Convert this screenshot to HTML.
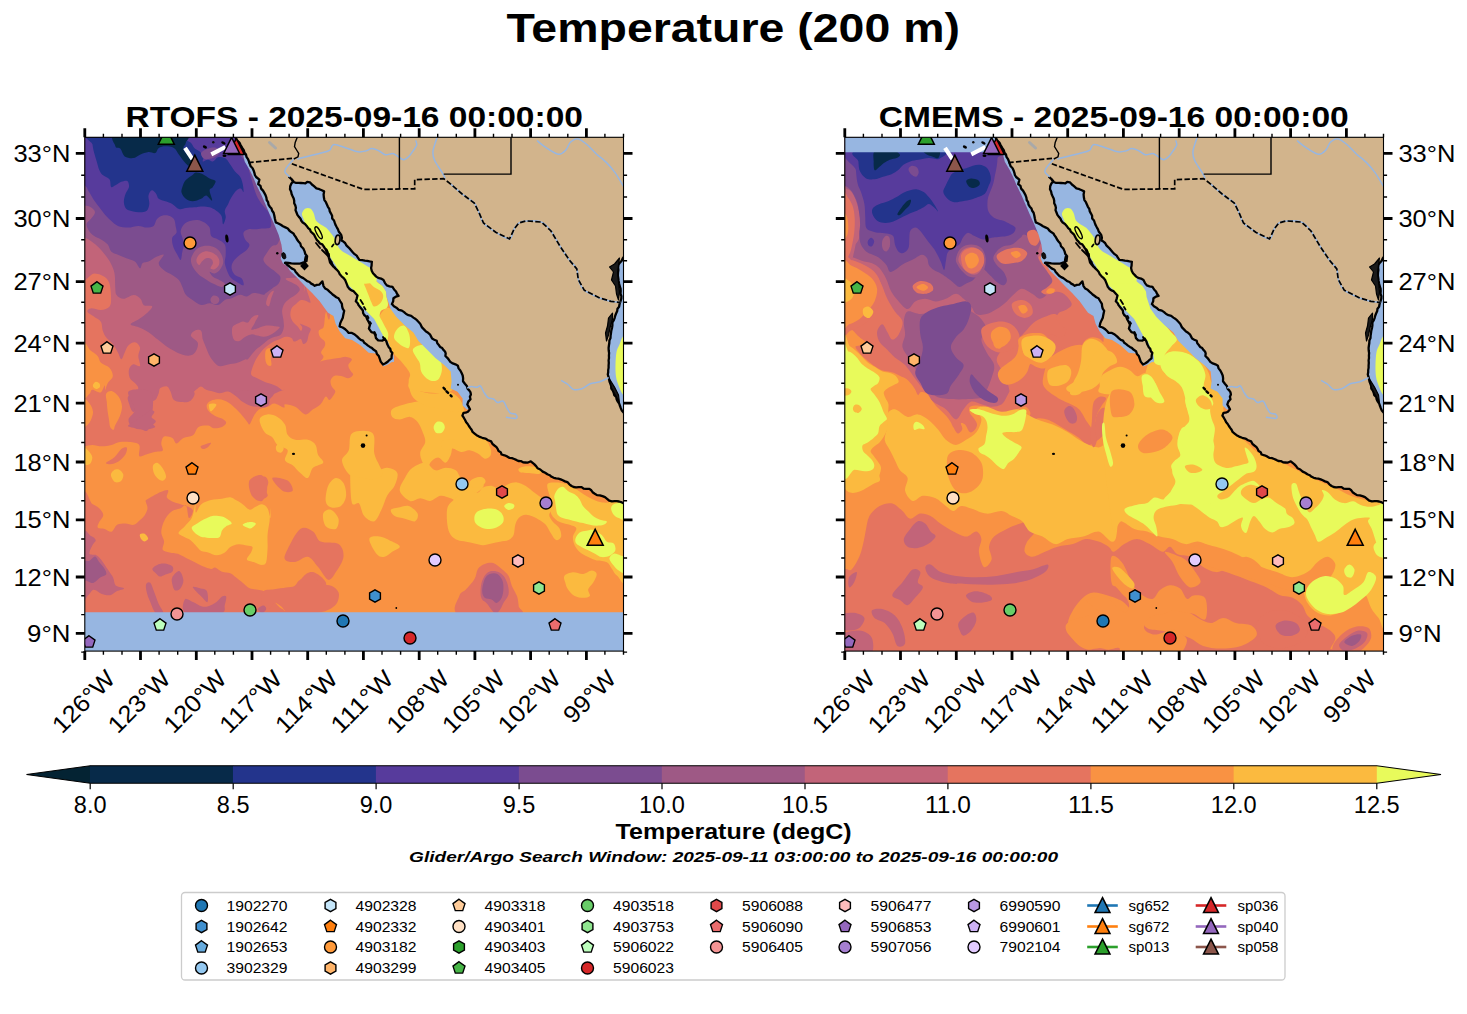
<!DOCTYPE html><html><head><meta charset="utf-8"><title>Temperature (200 m)</title>
<style>html,body{margin:0;padding:0;background:#fff}svg{display:block}text{font-family:"Liberation Sans",sans-serif;fill:#000}.tk{font-size:24px}.lg{font-size:14.3px}.b{font-weight:bold}</style></head><body>
<svg width="1467" height="1014" viewBox="0 0 1467 1014">
<defs>
<clipPath id="clip0"><rect x="84.8" y="137.3" width="538.7" height="513.8"/></clipPath>
<clipPath id="clip1"><rect x="844.8" y="137.3" width="538.7" height="513.8"/></clipPath>
</defs>
<rect width="1467" height="1014" fill="#fff"/>
<text x="733.2" y="41.6" text-anchor="middle" class="b" font-size="40.7" textLength="453.5" lengthAdjust="spacingAndGlyphs">Temperature (200 m)</text>
<text x="354.2" y="127.2" text-anchor="middle" class="b" font-size="30" textLength="457.5" lengthAdjust="spacingAndGlyphs">RTOFS - 2025-09-16 00:00:00</text>
<text x="1113.8" y="127.2" text-anchor="middle" class="b" font-size="30" textLength="470" lengthAdjust="spacingAndGlyphs">CMEMS - 2025-09-16 00:00:00</text>
<g clip-path="url(#clip0)">
<rect x="84.8" y="137.3" width="538.7" height="513.8" fill="#f99243"/>
<path d="M70.0 446.0 C72.3 500.4 80.3 446.4 84.0 446.3 C87.7 446.1 89.3 444.9 92.3 444.9 C95.3 444.9 98.7 446.3 101.9 446.3 C105.2 446.3 108.6 445.6 111.6 444.9 C114.6 444.2 116.9 442.6 119.9 442.1 C122.9 441.7 126.3 441.7 129.5 442.1 C132.8 442.6 137.6 442.6 139.2 444.9 C140.8 447.2 138.1 454.3 139.2 455.9 C140.4 457.5 143.4 455.2 146.1 454.5 C148.9 453.8 153.0 452.5 155.8 451.8 C158.5 451.1 161.8 451.8 162.7 450.4 C163.6 449.0 161.1 445.8 161.3 443.5 C161.5 441.2 162.2 437.5 164.1 436.6 C165.9 435.7 170.3 436.8 172.3 438.0 C174.4 439.1 174.6 443.5 176.5 443.5 C178.3 443.5 180.6 439.4 183.4 438.0 C186.1 436.6 190.5 437.1 193.0 435.2 C195.6 433.4 196.0 428.5 198.6 426.9 C201.1 425.3 205.7 425.3 208.2 425.5 C210.8 425.8 211.4 428.1 213.7 428.3 C216.0 428.5 220.0 427.8 222.0 426.9 C224.1 426.0 226.2 424.2 226.2 422.8 C226.2 421.4 223.9 419.8 222.0 418.6 C220.2 417.5 217.4 417.3 215.1 415.9 C212.8 414.5 209.6 412.2 208.2 410.4 C206.8 408.5 206.4 406.5 206.8 404.8 C207.3 403.2 208.9 401.6 211.0 400.7 C213.1 399.8 216.5 399.1 219.3 399.3 C222.0 399.6 225.0 400.7 227.5 402.1 C230.1 403.5 232.4 405.8 234.4 407.6 C236.5 409.4 237.9 410.8 240.0 413.1 C242.0 415.4 245.3 419.6 246.9 421.4 C248.5 423.2 248.5 425.1 249.6 424.2 C250.8 423.2 252.4 418.2 253.8 415.9 C255.2 413.6 256.3 411.7 257.9 410.4 C259.5 409.0 261.6 408.3 263.4 407.6 C265.3 406.9 267.1 406.9 269.0 406.2 C270.8 405.5 272.0 403.2 274.5 403.5 C277.0 403.7 282.2 407.5 284.0 407.6 C285.8 407.7 283.2 404.3 285.0 404.2 C286.9 404.0 291.8 405.0 295.2 406.7 C298.6 408.4 302.4 413.9 305.4 414.4 C308.3 414.8 310.5 411.0 313.0 409.3 C315.6 407.6 318.5 406.3 320.6 404.2 C322.8 402.1 324.3 397.2 325.7 396.5 C327.2 395.8 328.2 400.1 329.4 400.0 C330.6 399.9 332.0 397.4 333.0 396.0 C333.9 394.5 335.5 392.8 335.3 391.2 C335.1 389.7 332.6 388.3 331.8 386.5 C331.0 384.7 330.2 382.4 330.6 380.6 C331.0 378.8 332.4 376.6 334.1 375.9 C335.9 375.1 338.9 375.5 341.2 375.9 C343.6 376.3 346.4 378.4 348.3 378.2 C350.3 378.0 352.7 375.9 353.1 374.7 C353.5 373.5 351.5 372.7 350.7 371.1 C349.9 369.5 348.1 367.2 348.3 365.2 C348.5 363.2 352.3 360.7 351.9 359.3 C351.5 357.9 348.1 357.1 346.0 356.9 C343.8 356.7 341.4 357.7 338.9 358.1 C336.3 358.5 333.2 358.9 330.6 359.3 C328.0 359.7 325.7 359.9 323.5 360.5 C321.3 361.1 318.2 362.6 317.6 362.8 C317.0 363.0 319.0 362.6 319.9 361.7 C320.9 360.7 323.3 358.5 323.5 356.9 C323.7 355.3 320.9 354.0 321.1 352.2 C321.3 350.4 324.1 348.0 324.7 346.3 C325.3 344.5 325.5 343.1 324.7 341.5 C323.9 340.0 320.9 338.6 319.9 336.8 C319.0 335.0 318.2 332.5 318.8 330.9 C319.3 329.3 322.5 329.3 323.5 327.3 C324.5 325.4 324.3 321.6 324.7 319.1 C325.1 316.5 324.9 314.5 325.9 312.0 C326.8 309.4 329.9 335.7 330.6 303.7 C331.3 271.7 373.4 150.6 330.0 120.0 C286.6 89.4 113.3 65.7 70.0 120.0 C26.7 174.3 67.7 391.6 70.0 446.0 Z" fill="#e5745f"/>
<path d="M106.1 462.8 C106.8 461.7 111.8 459.6 114.4 457.3 C116.9 455.0 119.2 450.6 121.3 449.0 C123.3 447.4 126.1 446.7 126.8 447.6 C127.5 448.6 126.8 452.2 125.4 454.5 C124.0 456.8 121.0 459.8 118.5 461.4 C116.0 463.0 112.3 464.0 110.2 464.2 C108.2 464.4 105.4 464.0 106.1 462.8 Z" fill="#e5745f"/>
<path d="M251.7 486.3 C252.2 483.7 255.7 481.0 257.9 479.4 C260.1 477.8 263.1 476.2 264.8 476.6 C266.5 477.1 268.0 479.8 268.3 482.1 C268.5 484.4 266.3 488.1 266.2 490.4 C266.1 492.7 268.3 494.6 267.6 495.9 C266.9 497.3 264.1 498.9 262.1 498.7 C260.0 498.5 256.9 496.6 255.2 494.6 C253.4 492.5 251.2 488.8 251.7 486.3 Z" fill="#e5745f"/>
<path d="M200.6 446.3 C201.1 445.4 203.7 444.8 205.5 444.2 C207.2 443.6 210.5 442.3 211.0 442.8 C211.4 443.3 209.6 445.9 208.2 446.9 C206.8 448.0 204.0 449.1 202.7 449.0 C201.4 448.9 200.2 447.1 200.6 446.3 Z" fill="#e5745f"/>
<path d="M82.6 498.6 C84.2 480.0 89.5 502.5 92.3 504.1 C95.0 505.8 97.3 506.4 99.2 508.3 C101.0 510.1 103.3 512.9 103.3 515.2 C103.3 517.5 100.1 520.0 99.2 522.1 C98.3 524.2 96.9 526.5 97.8 527.6 C98.7 528.8 102.4 528.3 104.7 529.0 C107.0 529.7 109.5 532.4 111.6 531.7 C113.7 531.1 114.8 526.2 117.1 524.8 C119.4 523.5 122.6 523.5 125.4 523.5 C128.2 523.5 131.4 525.3 133.7 524.8 C136.0 524.4 137.4 522.3 139.2 520.7 C141.1 519.1 143.4 517.3 144.7 515.2 C146.1 513.1 147.3 510.4 147.5 508.3 C147.7 506.2 146.3 504.1 146.1 502.8 C145.9 501.4 145.0 501.2 146.1 500.1 C147.3 498.9 150.5 497.3 153.0 495.9 C155.5 494.6 158.8 492.7 161.3 491.8 C163.8 490.9 167.3 489.5 168.2 490.4 C169.1 491.3 166.1 495.5 166.8 497.3 C167.5 499.2 170.0 500.3 172.3 501.5 C174.6 502.6 177.9 503.3 180.6 504.2 C183.4 505.1 186.8 505.8 188.9 507.0 C191.0 508.1 193.0 509.3 193.0 511.1 C193.0 513.0 190.1 519.0 188.9 518.0 C187.7 517.1 187.5 507.1 186.1 505.5 C184.8 503.9 182.9 507.4 180.6 508.3 C178.3 509.2 174.6 509.7 172.3 511.0 C170.0 512.4 168.4 514.3 166.8 516.6 C165.2 518.9 163.6 522.1 162.7 524.8 C161.8 527.6 161.1 530.4 161.3 533.1 C161.5 535.9 163.8 538.6 164.1 541.4 C164.3 544.2 161.8 547.8 162.7 549.7 C163.6 551.5 167.0 551.8 169.6 552.4 C172.1 553.1 175.1 552.9 177.9 553.8 C180.6 554.8 183.4 556.6 186.1 558.0 C188.9 559.4 191.7 560.7 194.4 562.1 C197.2 563.5 199.9 565.1 202.7 566.3 C205.5 567.4 208.9 568.8 211.0 569.0 C213.1 569.2 213.3 567.2 215.1 567.6 C217.0 568.1 219.5 570.9 222.0 571.8 C224.6 572.7 228.0 572.2 230.3 573.2 C232.6 574.1 233.8 575.7 235.8 577.3 C237.9 578.9 240.4 581.0 242.7 582.8 C245.0 584.7 247.1 587.2 249.6 588.3 C252.2 589.5 255.6 589.3 257.9 589.7 C260.2 590.2 261.6 589.9 263.4 591.1 C265.3 592.2 267.1 594.8 269.0 596.6 C270.8 598.5 272.6 600.3 274.5 602.1 C276.3 604.0 278.4 606.3 280.0 607.7 C281.6 609.0 283.3 609.0 284.0 610.4 C284.7 611.8 317.6 615.0 284.0 615.9 C250.4 616.9 116.2 635.5 82.6 615.9 C49.1 596.4 81.0 517.3 82.6 498.6 Z" fill="#e5745f"/>
<path d="M287.6 549.2 C290.1 544.1 296.0 531.8 300.3 528.9 C304.5 525.9 309.6 529.3 313.0 531.4 C316.4 533.5 316.4 539.5 320.6 541.6 C324.9 543.7 334.6 541.6 338.5 544.1 C342.3 546.7 344.0 552.2 343.5 556.8 C343.1 561.5 338.5 568.3 335.9 572.1 C333.4 575.9 331.2 580.6 328.3 579.8 C325.3 578.9 321.5 570.8 318.1 567.0 C314.7 563.2 311.7 557.7 307.9 556.8 C304.1 556.0 299.0 561.5 295.2 561.9 C291.4 562.4 286.3 561.5 285.0 559.4 C283.7 557.3 285.0 554.3 287.6 549.2 Z" fill="#e5745f"/>
<path d="M302.8 577.2 C304.9 574.2 309.2 571.3 313.0 572.1 C316.8 573.0 324.0 578.5 325.7 582.3 C327.4 586.1 325.7 592.5 323.2 595.0 C320.6 597.6 314.3 598.4 310.5 597.6 C306.6 596.7 301.6 593.3 300.3 589.9 C299.0 586.5 300.7 580.2 302.8 577.2 Z" fill="#e5745f"/>
<path d="M249.4 480.5 C251.1 477.1 259.1 474.2 262.1 475.4 C265.1 476.7 267.2 483.9 267.2 488.1 C267.2 492.4 264.7 499.6 262.1 500.9 C259.6 502.1 254.1 499.2 251.9 495.8 C249.8 492.4 247.7 483.9 249.4 480.5 Z" fill="#e5745f"/>
<path d="M272.3 478.0 C273.1 476.3 284.2 478.4 287.6 480.5 C291.0 482.6 293.5 489.0 292.7 490.7 C291.8 492.4 285.9 492.8 282.5 490.7 C279.1 488.6 271.4 479.7 272.3 478.0 Z" fill="#e5745f"/>
<path d="M298.8 580.8 C300.8 579.1 303.7 576.3 306.4 575.7 C309.1 575.2 312.4 576.0 314.9 577.4 C317.4 578.8 318.9 582.8 321.7 584.2 C324.5 585.6 329.0 584.5 331.9 585.9 C334.7 587.3 337.8 589.9 338.7 592.7 C339.5 595.5 338.7 600.0 337.0 602.9 C335.3 605.7 332.1 608.0 328.5 609.7 C324.8 611.4 321.4 612.5 314.9 613.1 C308.4 613.6 295.1 614.2 289.4 613.1 C283.8 611.9 283.5 608.0 281.0 606.3 C278.4 604.6 276.2 602.3 274.2 602.9 C272.2 603.4 271.1 608.0 269.1 609.7 C267.1 611.4 263.4 615.9 262.3 613.1 C261.2 610.2 260.3 596.7 262.3 592.7 C264.3 588.7 270.2 590.2 274.2 589.3 C278.1 588.5 282.7 588.2 286.1 587.6 C289.4 587.0 292.4 587.0 294.5 585.9 C296.7 584.8 296.8 582.5 298.8 580.8 Z" fill="#e5745f"/>
<path d="M70.0 275.0 C74.0 300.6 88.5 273.1 94.2 273.4 C99.9 273.7 101.8 275.1 104.4 276.8 C106.9 278.5 108.3 280.0 109.4 283.6 C110.6 287.2 111.1 294.3 111.1 298.2 C111.1 302.0 111.1 304.7 109.4 306.7 C107.8 308.6 104.1 309.8 101.0 310.1 C97.9 310.3 93.0 308.1 90.8 308.4 C88.5 308.6 86.8 310.3 87.4 311.8 C88.0 313.2 91.9 315.1 94.2 316.8 C96.4 318.5 99.6 319.7 101.0 321.9 C102.4 324.2 101.8 327.9 102.7 330.4 C103.5 333.0 104.4 334.9 106.1 337.2 C107.8 339.5 110.9 341.4 112.8 344.0 C114.8 346.5 116.5 349.9 117.9 352.5 C119.3 355.0 120.2 359.3 121.3 359.3 C122.5 359.3 123.6 354.7 124.7 352.5 C125.9 350.2 126.4 347.4 128.1 345.7 C129.8 344.0 132.9 342.0 134.9 342.3 C136.9 342.6 139.4 345.1 140.0 347.4 C140.6 349.6 138.3 352.8 138.3 355.9 C138.3 359.0 140.8 364.6 140.0 366.0 C139.1 367.5 135.0 363.8 133.2 364.3 C131.4 364.9 129.5 367.2 129.0 369.4 C128.4 371.7 128.8 375.7 129.8 377.9 C130.8 380.2 133.5 381.3 134.9 383.0 C136.3 384.7 138.3 386.4 138.3 388.1 C138.3 389.8 136.6 391.8 134.9 393.2 C133.2 394.6 129.1 394.9 128.1 396.6 C127.1 398.3 128.1 400.8 129.0 403.4 C129.8 405.9 131.4 411.3 133.2 411.9 C135.0 412.4 137.4 408.5 140.0 406.8 C142.5 405.1 145.9 402.8 148.5 401.7 C151.0 400.5 153.6 401.4 155.3 400.0 C157.0 398.6 157.8 395.2 158.7 393.2 C159.5 391.2 158.9 389.2 160.3 388.1 C161.8 387.0 165.4 385.8 167.1 386.4 C168.8 387.0 169.4 389.2 170.5 391.5 C171.7 393.8 171.9 398.3 173.9 400.0 C175.9 401.7 179.9 402.2 182.4 401.7 C185.0 401.1 186.9 398.6 189.2 396.6 C191.5 394.6 194.0 391.5 196.0 389.8 C198.0 388.1 199.4 386.4 201.1 386.4 C202.8 386.4 204.2 389.0 206.2 389.8 C208.1 390.6 210.7 390.9 212.9 391.5 C215.2 392.1 217.2 393.2 219.7 393.2 C222.3 393.2 225.4 390.9 228.2 391.5 C231.0 392.1 234.2 395.2 236.7 396.6 C239.2 398.0 240.7 399.4 243.5 400.0 C246.3 400.5 251.7 399.2 253.7 400.0 C255.6 400.8 253.5 403.6 255.2 404.8 C256.8 406.1 261.1 407.6 263.4 407.6 C265.7 407.6 267.8 406.7 269.0 404.8 C270.1 403.0 269.0 398.6 270.3 396.6 C271.7 394.5 275.0 393.6 277.2 392.4 C279.5 391.3 283.2 390.1 284.0 389.7 C284.8 389.3 283.2 390.6 282.1 390.1 C281.0 389.5 279.1 387.5 277.3 386.5 C275.6 385.5 273.6 384.9 271.4 384.1 C269.3 383.4 266.7 382.8 264.3 381.8 C262.0 380.8 259.4 379.4 257.2 378.2 C255.0 377.0 252.1 376.4 251.3 374.7 C250.5 372.9 251.7 370.1 252.5 367.6 C253.3 365.0 254.7 361.9 256.0 359.3 C257.4 356.7 259.0 354.4 260.8 352.2 C262.5 350.0 264.5 348.0 266.7 346.3 C268.9 344.5 271.6 342.7 273.8 341.5 C276.0 340.4 277.7 340.0 279.7 339.2 C281.7 338.4 283.6 337.0 285.6 336.8 C287.6 336.6 290.2 337.2 291.5 338.0 C292.9 338.8 292.9 341.1 293.9 341.5 C294.9 341.9 296.3 340.7 297.5 340.4 C298.6 340.0 300.0 338.6 301.0 339.2 C302.0 339.8 302.4 343.5 303.4 343.9 C304.4 344.3 306.0 343.1 306.9 341.5 C307.8 340.0 308.1 336.6 308.7 334.4 C309.3 332.3 311.4 330.1 310.5 328.5 C309.6 326.9 305.1 325.8 303.4 325.0 C301.6 324.2 300.0 323.4 299.8 323.8 C299.6 324.2 302.0 326.2 302.2 327.3 C302.4 328.5 301.8 331.1 301.0 330.9 C300.2 330.7 298.8 327.7 297.5 326.2 C296.1 324.6 293.9 323.2 292.7 321.4 C291.5 319.6 290.6 317.7 290.4 315.5 C290.2 313.3 290.6 310.4 291.5 308.4 C292.5 306.4 294.7 305.0 296.3 303.7 C297.9 302.3 299.4 300.6 301.0 300.1 C302.6 299.6 304.2 300.3 305.7 300.7 C307.3 301.1 310.1 303.6 310.5 302.5 C310.9 301.4 308.9 297.0 308.1 294.2 C307.3 291.4 306.1 288.5 305.7 285.9 C305.3 283.4 301.7 306.5 305.7 278.8 C309.8 251.2 369.3 146.5 330.0 120.0 C290.7 93.5 113.3 94.2 70.0 120.0 C26.7 145.8 66.0 249.4 70.0 275.0 Z" fill="#c26479"/>
<path d="M82.6 534.5 C84.0 524.4 88.7 535.0 90.9 535.9 C93.1 536.8 95.5 538.4 95.7 540.0 C96.0 541.6 93.3 543.2 92.3 545.5 C91.2 547.8 88.8 552.2 89.5 553.8 C90.2 555.4 94.4 554.1 96.4 555.2 C98.5 556.4 100.1 558.4 101.9 560.7 C103.8 563.0 105.6 566.3 107.5 569.0 C109.3 571.8 111.6 574.5 113.0 577.3 C114.4 580.1 113.9 583.7 115.7 585.6 C117.6 587.4 123.8 587.4 124.0 588.3 C124.3 589.3 119.4 589.9 117.1 591.1 C114.8 592.2 112.8 594.8 110.2 595.2 C107.7 595.7 104.7 594.8 101.9 593.9 C99.2 592.9 96.0 589.5 93.7 589.7 C91.4 589.9 90.0 594.1 88.1 595.2 C86.3 596.4 83.5 606.7 82.6 596.6 C81.7 586.5 81.2 544.6 82.6 534.5 Z" fill="#c26479"/>
<path d="M128.5 391.5 C131.1 388.5 146.1 388.5 150.2 391.5 C154.2 394.4 153.1 404.6 152.7 409.3 C152.3 413.9 147.2 416.5 147.6 419.4 C148.0 422.4 156.1 425.4 155.2 427.1 C154.4 428.8 146.3 429.6 142.5 429.6 C138.7 429.6 134.7 428.8 132.3 427.1 C130.0 425.4 128.1 422.4 128.5 419.4 C129.0 416.5 134.9 413.9 134.9 409.3 C134.9 404.6 126.0 394.4 128.5 391.5 Z" fill="#c26479"/>
<path d="M171.8 391.5 C173.9 389.8 190.2 390.0 193.4 391.5 C196.6 392.9 193.0 398.7 190.9 400.4 C188.7 402.1 183.9 403.1 180.7 401.6 C177.5 400.1 169.7 393.2 171.8 391.5 Z" fill="#c26479"/>
<path d="M236.7 391.5 C242.2 390.2 267.2 389.8 272.3 391.5 C277.4 393.2 269.8 399.1 267.2 401.6 C264.7 404.2 260.4 406.3 257.0 406.7 C253.6 407.1 249.8 405.5 246.8 404.2 C243.9 402.9 240.9 401.2 239.2 399.1 C237.5 397.0 231.2 392.7 236.7 391.5 Z" fill="#c26479"/>
<path d="M152.3 569.0 C152.6 567.6 155.2 565.8 157.2 564.9 C159.1 564.0 161.5 563.3 164.1 563.5 C166.6 563.7 171.0 564.9 172.3 566.3 C173.7 567.6 173.5 570.4 172.3 571.8 C171.2 573.2 167.5 573.7 165.4 574.5 C163.4 575.3 161.5 576.8 159.9 576.6 C158.3 576.4 157.0 574.4 155.8 573.2 C154.5 571.9 152.1 570.4 152.3 569.0 Z" fill="#c26479"/>
<path d="M172.3 577.3 C173.5 575.1 177.4 570.6 179.2 571.1 C181.1 571.5 183.1 577.2 183.4 580.1 C183.6 582.9 182.0 586.6 180.6 588.3 C179.2 590.1 176.5 591.1 175.1 590.4 C173.7 589.7 172.8 586.4 172.3 584.2 C171.9 582.0 171.2 579.5 172.3 577.3 Z" fill="#c26479"/>
<path d="M146.1 584.2 C146.7 582.6 148.9 581.4 150.3 582.8 C151.6 584.2 153.0 589.0 154.4 592.5 C155.8 595.9 157.0 600.1 158.5 603.5 C160.0 607.0 163.8 611.6 163.4 613.2 C162.9 614.8 158.0 615.0 155.8 613.2 C153.6 611.3 151.7 605.6 150.3 602.1 C148.8 598.7 147.5 595.5 146.8 592.5 C146.1 589.5 145.5 585.8 146.1 584.2 Z" fill="#c26479"/>
<path d="M193.0 587.0 C193.7 586.5 197.6 587.6 199.9 588.3 C202.2 589.0 205.6 588.8 206.8 591.1 C208.1 593.4 208.5 601.2 207.5 602.1 C206.6 603.1 203.3 598.5 201.3 596.6 C199.4 594.8 197.2 592.7 195.8 591.1 C194.4 589.5 192.4 587.4 193.0 587.0 Z" fill="#c26479"/>
<path d="M184.8 599.4 C185.9 597.5 190.3 601.0 193.0 602.1 C195.8 603.3 198.8 605.6 201.3 606.3 C203.9 607.0 205.7 607.0 208.2 606.3 C210.8 605.6 214.2 603.7 216.5 602.1 C218.8 600.5 220.4 597.5 222.0 596.6 C223.6 595.7 225.7 595.2 226.2 596.6 C226.6 598.0 225.7 602.1 224.8 604.9 C223.9 607.7 227.1 611.8 220.6 613.2 C214.2 614.6 192.1 615.5 186.1 613.2 C180.2 610.9 183.6 601.2 184.8 599.4 Z" fill="#c26479"/>
<path d="M257.9 609.0 C258.1 607.8 262.1 605.6 263.4 605.6 C264.8 605.6 266.4 607.8 266.2 609.0 C266.0 610.3 263.4 613.2 262.1 613.2 C260.7 613.2 257.7 610.3 257.9 609.0 Z" fill="#c26479"/>
<path d="M128.2 425.5 C128.9 424.3 133.7 421.9 136.4 420.0 C139.2 418.2 142.4 416.1 144.7 414.5 C147.0 412.9 148.6 410.8 150.3 410.4 C151.9 409.9 154.2 410.6 154.4 411.7 C154.6 412.9 151.4 415.7 151.6 417.3 C151.9 418.9 156.0 419.8 155.8 421.4 C155.5 423.0 151.9 425.3 150.3 426.9 C148.6 428.5 148.0 430.8 146.1 431.1 C144.3 431.3 141.5 428.9 139.2 428.3 C136.9 427.7 134.1 428.1 132.3 427.6 C130.5 427.2 127.5 426.8 128.2 425.5 Z" fill="#c26479"/>
<path d="M70.0 238.0 C72.3 257.6 80.4 237.2 84.0 237.8 C87.6 238.4 89.1 239.9 91.6 241.6 C94.2 243.3 96.9 245.6 99.3 248.0 C101.6 250.3 103.7 253.0 105.6 255.6 C107.5 258.1 109.2 260.3 110.7 263.2 C112.2 266.2 113.8 269.3 114.5 273.4 C115.3 277.5 115.0 284.3 115.3 287.9 C115.6 291.5 115.2 293.2 116.6 295.0 C117.9 296.9 120.6 298.8 123.4 298.8 C126.3 298.8 130.8 295.0 133.6 295.0 C136.5 295.0 138.8 297.2 140.5 298.8 C142.2 300.5 141.8 303.9 143.8 305.2 C145.7 306.5 151.9 305.0 152.2 306.5 C152.5 308.0 148.1 312.0 145.8 314.1 C143.6 316.2 141.3 317.5 138.7 319.2 C136.2 320.9 130.6 322.9 130.6 324.3 C130.6 325.7 135.7 326.0 138.7 327.3 C141.8 328.7 145.7 330.4 148.9 332.4 C152.1 334.5 154.9 337.3 157.8 339.6 C160.6 341.8 163.2 344.0 165.9 345.9 C168.7 347.8 171.5 349.5 174.3 351.0 C177.1 352.5 180.0 354.1 182.7 354.8 C185.5 355.6 188.7 356.0 190.9 355.3 C193.1 354.7 194.8 353.1 196.0 351.0 C197.1 348.9 198.6 345.2 197.7 342.6 C196.9 340.1 191.4 337.7 190.9 335.7 C190.4 333.8 193.0 331.5 194.7 330.7 C196.4 329.8 199.7 329.2 201.0 330.7 C202.4 332.1 202.0 336.7 202.8 339.6 C203.7 342.4 205.0 344.9 206.1 347.7 C207.3 350.5 208.3 353.6 209.7 356.1 C211.1 358.6 213.1 361.3 214.8 363.0 C216.5 364.7 217.9 366.0 220.1 366.3 C222.4 366.5 225.5 365.1 228.3 364.5 C231.0 363.9 233.9 363.8 236.7 363.0 C239.5 362.1 243.2 360.0 245.1 359.4 C246.9 358.8 246.5 360.3 247.8 359.3 C249.0 358.3 250.9 355.1 252.5 353.4 C254.1 351.6 255.4 350.2 257.2 348.6 C259.0 347.1 261.2 345.5 263.1 343.9 C265.1 342.3 267.1 340.4 269.1 339.2 C271.0 338.0 273.0 337.6 275.0 336.8 C276.9 336.0 279.4 336.0 280.9 334.4 C282.4 332.9 283.5 329.9 283.8 327.3 C284.2 324.8 283.6 321.8 283.3 319.1 C283.0 316.3 281.9 313.3 282.1 310.8 C282.3 308.2 283.3 305.6 284.4 303.7 C285.6 301.7 287.2 300.5 289.2 298.9 C291.1 297.4 294.5 295.8 296.3 294.2 C298.0 292.6 299.8 291.0 299.8 289.5 C299.8 287.9 298.6 286.5 296.3 284.7 C293.9 283.0 285.2 280.1 285.6 278.8 C286.1 277.5 297.6 278.3 299.0 276.8 C300.4 275.4 295.6 272.3 293.9 270.0 C292.2 267.8 290.2 265.8 288.8 263.2 C287.4 260.7 286.3 257.9 285.4 254.8 C284.6 251.7 284.9 248.0 283.7 244.6 C282.6 241.2 277.8 241.2 278.7 234.4 C279.5 227.6 280.3 222.9 288.8 203.9 C297.4 184.8 366.5 134.0 330.0 120.0 C293.5 106.0 113.3 100.3 70.0 120.0 C26.7 139.7 67.7 218.4 70.0 238.0 Z" fill="#9e5985"/>
<path d="M82.6 562.1 C83.8 559.4 87.5 561.7 89.5 560.7 C91.6 559.8 93.4 556.4 95.0 556.6 C96.7 556.8 97.6 560.0 99.2 562.1 C100.8 564.2 103.6 566.9 104.7 569.0 C105.9 571.1 106.8 573.2 106.1 574.5 C105.4 575.9 102.6 575.9 100.6 577.3 C98.5 578.7 95.7 582.1 93.7 582.8 C91.6 583.5 90.0 582.4 88.1 581.4 C86.3 580.5 83.5 580.5 82.6 577.3 C81.7 574.1 81.5 564.9 82.6 562.1 Z" fill="#9e5985"/>
<path d="M70.0 206.0 C72.3 220.3 80.5 205.4 84.0 205.6 C87.5 205.8 88.9 206.1 90.8 207.3 C92.6 208.4 95.0 210.4 95.0 212.3 C95.0 214.3 92.2 217.2 90.8 219.1 C89.4 221.1 86.8 222.2 86.5 224.2 C86.3 226.2 87.8 229.0 89.1 231.0 C90.4 233.0 92.2 234.7 94.2 236.1 C96.2 237.5 98.7 238.1 101.0 239.5 C103.2 240.9 106.1 242.6 107.8 244.6 C109.4 246.6 109.4 249.7 111.1 251.4 C112.8 253.1 115.4 253.6 117.9 254.8 C120.5 255.9 123.6 257.0 126.4 258.2 C129.2 259.3 132.6 259.9 134.9 261.6 C137.2 263.2 138.7 268.1 140.0 268.3 C141.3 268.6 141.1 264.4 142.5 263.2 C143.9 262.1 146.1 262.7 148.5 261.6 C150.9 260.4 154.4 257.6 157.0 256.5 C159.5 255.3 163.5 253.6 163.7 254.8 C164.0 255.9 158.7 260.7 158.7 263.2 C158.7 265.8 161.5 268.1 163.7 270.0 C166.0 272.0 169.7 273.4 172.2 275.1 C174.8 276.8 177.3 278.2 179.0 280.2 C180.7 282.2 181.3 284.6 182.4 287.0 C183.5 289.4 184.1 292.6 185.8 294.8 C187.5 296.9 190.0 298.2 192.6 299.9 C195.1 301.6 198.2 304.4 201.1 305.0 C203.9 305.5 206.7 303.3 209.6 303.3 C212.4 303.3 215.5 305.5 218.0 305.0 C220.6 304.4 222.6 301.0 224.8 299.9 C227.1 298.7 229.1 299.0 231.6 298.2 C234.2 297.3 237.5 295.1 240.1 294.8 C242.6 294.5 244.6 296.8 246.9 296.5 C249.1 296.2 250.8 293.4 253.7 293.1 C256.5 292.8 262.1 294.7 264.0 294.8 C265.9 294.9 263.8 294.8 265.1 293.8 C266.4 292.8 269.6 290.4 271.9 288.7 C274.1 287.0 277.2 285.6 278.7 283.6 C280.1 281.6 280.9 278.8 280.3 276.8 C279.8 274.8 277.2 273.4 275.3 271.7 C273.3 270.0 270.5 268.6 268.5 266.6 C266.5 264.7 263.7 262.1 263.4 259.9 C263.1 257.6 265.4 255.3 266.8 253.1 C268.2 250.8 270.2 247.7 271.9 246.3 C273.6 244.9 275.4 246.0 277.0 244.6 C278.5 243.2 280.1 237.5 281.2 237.8 C282.3 238.1 282.8 245.2 283.7 246.3 C284.7 247.4 286.9 246.6 287.1 244.6 C287.4 242.6 286.6 237.8 285.4 234.4 C284.3 231.0 281.8 227.3 280.3 224.2 C278.9 221.1 278.4 218.6 277.0 215.7 C275.5 212.9 269.9 212.1 271.9 207.3 C273.8 202.5 279.1 201.4 288.8 186.9 C298.5 172.4 366.5 131.1 330.0 120.0 C293.5 108.9 113.3 105.7 70.0 120.0 C26.7 134.3 67.7 191.7 70.0 206.0 Z" fill="#7b4c90"/>
<path d="M70.0 185.0 C72.3 195.9 80.8 184.0 84.0 185.2 C87.2 186.4 87.4 189.4 89.1 192.0 C90.8 194.5 92.5 197.9 94.2 200.5 C95.9 203.0 97.6 205.0 99.3 207.3 C101.0 209.5 102.4 211.8 104.4 214.0 C106.3 216.3 108.9 218.9 111.1 220.8 C113.4 222.8 115.1 224.8 117.9 225.9 C120.8 227.1 124.7 227.6 128.1 227.6 C131.5 227.6 135.2 225.9 138.3 225.9 C141.4 225.9 144.2 227.6 146.8 227.6 C149.3 227.6 151.9 227.3 153.6 225.9 C155.3 224.5 155.5 220.8 157.0 219.1 C158.4 217.4 160.1 216.3 162.0 215.7 C164.0 215.2 166.9 215.2 168.8 215.7 C170.8 216.3 172.8 217.4 173.9 219.1 C175.1 220.8 175.2 223.7 175.6 225.9 C176.0 228.2 177.0 230.7 176.5 232.7 C175.9 234.7 172.8 235.5 172.2 237.8 C171.7 240.1 172.2 243.5 173.1 246.3 C173.9 249.1 176.0 252.5 177.3 254.8 C178.6 257.0 179.9 260.4 180.7 259.9 C181.6 259.3 181.8 253.9 182.4 251.4 C183.0 248.8 184.1 246.8 184.1 244.6 C184.1 242.3 183.0 240.1 182.4 237.8 C181.8 235.5 180.4 233.3 180.7 231.0 C181.0 228.7 182.4 225.9 184.1 224.2 C185.8 222.5 188.6 221.5 190.9 220.8 C193.2 220.1 195.4 219.7 197.7 220.0 C199.9 220.3 202.5 221.3 204.5 222.5 C206.4 223.8 208.4 225.4 209.6 227.6 C210.7 229.9 209.8 234.1 211.2 236.1 C212.7 238.1 215.8 238.1 218.0 239.5 C220.3 240.9 223.5 242.0 224.8 244.6 C226.1 247.1 225.7 251.7 225.7 254.8 C225.7 257.9 224.4 260.1 224.8 263.2 C225.2 266.4 227.1 270.9 228.2 273.4 C229.3 276.0 230.2 277.1 231.6 278.5 C233.0 279.9 234.7 280.8 236.7 281.9 C238.7 283.0 242.6 285.9 243.5 285.3 C244.3 284.7 243.2 280.2 241.8 278.5 C240.4 276.8 236.7 276.8 235.0 275.1 C233.3 273.4 231.9 270.6 231.6 268.3 C231.3 266.1 231.9 263.8 233.3 261.6 C234.7 259.3 237.8 256.7 240.1 254.8 C242.4 252.8 245.3 251.4 246.9 249.7 C248.4 248.0 249.7 246.3 249.4 244.6 C249.1 242.9 246.2 241.5 245.2 239.5 C244.2 237.5 242.9 234.4 243.5 232.7 C244.0 231.0 246.6 229.9 248.6 229.3 C250.6 228.7 253.2 229.5 255.4 229.3 C257.5 229.2 259.2 228.7 261.7 228.5 C264.2 228.2 268.6 228.9 270.2 227.6 C271.7 226.3 271.3 223.4 271.0 220.8 C270.7 218.3 270.0 215.2 268.5 212.3 C266.9 209.5 263.7 206.7 261.7 203.9 C259.7 201.0 258.0 198.5 256.6 195.4 C255.2 192.3 254.3 188.9 253.2 185.2 C252.1 181.5 250.9 177.0 249.8 173.3 C248.7 169.7 248.0 166.3 246.4 163.1 C244.9 160.0 241.0 157.5 240.5 154.7 C239.9 151.8 240.6 149.9 243.0 146.2 C245.4 142.5 283.7 137.0 254.9 132.6 C226.1 128.2 100.8 111.3 70.0 120.0 C39.2 128.7 67.7 174.1 70.0 185.0 Z" fill="#573b9c"/>
<path d="M91.6 132.6 C76.4 134.6 92.1 141.1 92.5 144.5 C92.9 147.9 93.5 150.1 94.2 153.0 C94.9 155.8 95.9 158.6 96.7 161.4 C97.6 164.3 98.3 167.7 99.3 169.9 C100.3 172.2 101.0 173.5 102.7 175.0 C104.4 176.6 108.0 177.3 109.4 179.3 C110.9 181.2 110.2 185.9 111.1 186.9 C112.1 187.9 113.7 186.1 115.4 185.2 C117.1 184.4 119.3 182.5 121.3 181.8 C123.3 181.1 126.0 180.1 127.3 181.0 C128.5 181.8 129.2 184.8 129.0 186.9 C128.7 189.0 126.4 191.1 125.6 193.7 C124.7 196.2 123.7 199.6 123.9 202.2 C124.0 204.7 124.9 207.4 126.4 209.0 C128.0 210.5 130.9 210.9 133.2 211.5 C135.5 212.1 137.7 212.5 140.0 212.3 C142.3 212.2 145.2 212.1 146.8 210.7 C148.3 209.2 149.0 206.4 149.3 203.9 C149.6 201.3 148.0 197.6 148.5 195.4 C148.9 193.1 150.6 190.6 151.9 190.3 C153.1 190.0 155.0 192.3 156.1 193.7 C157.2 195.1 157.1 197.5 158.7 198.8 C160.2 200.0 163.2 200.5 165.4 201.3 C167.7 202.2 170.0 202.6 172.2 203.9 C174.5 205.1 176.7 208.2 179.0 209.0 C181.3 209.7 183.3 208.4 185.8 208.1 C188.3 207.8 191.5 207.5 194.3 207.3 C197.1 207.0 200.2 206.4 202.8 206.4 C205.3 206.4 207.3 206.6 209.6 207.3 C211.8 208.0 214.4 209.2 216.3 210.7 C218.3 212.1 220.3 213.5 221.4 215.7 C222.6 218.0 222.4 223.9 223.1 224.2 C223.8 224.5 225.4 219.7 225.7 217.4 C226.0 215.2 224.4 212.9 224.8 210.7 C225.2 208.4 227.1 206.1 228.2 203.9 C229.3 201.6 230.2 199.3 231.6 197.1 C233.0 194.8 235.1 191.7 236.7 190.3 C238.3 188.9 239.8 188.3 240.9 188.6 C242.1 188.9 243.2 192.8 243.5 192.0 C243.8 191.1 243.2 186.1 242.6 183.5 C242.1 181.0 241.4 178.7 240.1 176.7 C238.8 174.7 236.4 173.3 235.0 171.6 C233.6 169.9 232.7 168.2 231.6 166.5 C230.5 164.8 229.3 162.9 228.2 161.4 C227.1 160.0 226.5 158.8 224.8 158.1 C223.1 157.3 220.0 156.6 218.0 157.2 C216.1 157.8 214.6 161.0 212.9 161.4 C211.2 161.9 209.6 159.8 207.9 159.8 C206.2 159.8 203.5 162.0 202.8 161.4 C202.1 160.9 204.2 158.1 203.6 156.4 C203.0 154.7 200.9 152.7 199.4 151.3 C197.8 149.9 195.7 149.3 194.3 147.9 C192.9 146.5 192.3 144.2 190.9 142.8 C189.5 141.4 186.9 141.1 185.8 139.4 C184.7 137.7 199.8 133.7 184.1 132.6 C168.4 131.5 106.9 130.6 91.6 132.6 Z" fill="#23348c"/>
<path d="M117.9 132.6 C106.5 134.9 115.0 143.5 115.4 146.2 C115.8 148.9 118.9 147.0 120.5 148.7 C122.0 150.4 122.6 154.8 124.7 156.4 C126.8 157.9 130.7 158.3 133.2 158.1 C135.7 157.8 137.4 155.7 140.0 154.7 C142.5 153.7 145.9 152.4 148.5 152.1 C151.0 151.8 153.6 153.7 155.3 153.0 C157.0 152.3 157.0 149.0 158.7 147.9 C160.3 146.7 162.9 146.2 165.4 146.2 C168.0 146.2 171.7 146.5 173.9 147.9 C176.2 149.3 177.3 152.4 179.0 154.7 C180.7 156.9 182.4 159.6 184.1 161.4 C185.8 163.3 187.8 166.0 189.2 165.7 C190.6 165.4 193.2 161.9 192.6 159.8 C192.0 157.6 187.4 154.9 185.8 153.0 C184.2 151.0 183.3 149.6 183.3 147.9 C183.3 146.2 185.7 145.3 185.8 142.8 C185.9 140.2 195.4 134.3 184.1 132.6 C172.8 130.9 129.4 130.3 117.9 132.6 Z" fill="#072a49"/>
<path d="M182.4 186.9 C183.1 184.8 184.1 182.1 185.8 180.1 C187.5 178.1 190.9 176.3 192.6 175.0 C194.3 173.8 194.3 172.6 196.0 172.5 C197.7 172.3 200.5 173.2 202.8 174.2 C205.0 175.2 207.4 177.3 209.6 178.4 C211.7 179.5 214.9 179.5 215.5 181.0 C216.1 182.4 213.9 185.3 212.9 186.9 C212.0 188.5 209.7 188.0 209.6 190.3 C209.4 192.6 212.7 199.6 212.1 200.5 C211.5 201.3 208.0 195.7 206.2 195.4 C204.3 195.1 203.3 197.8 201.1 198.8 C198.8 199.8 195.1 201.3 192.6 201.3 C190.0 201.3 187.6 200.2 185.8 198.8 C184.0 197.4 182.1 194.8 181.6 192.8 C181.0 190.9 181.7 189.0 182.4 186.9 Z" fill="#072a49"/>
<path d="M192.6 254.8 C193.4 253.1 194.3 251.1 196.0 249.7 C197.7 248.3 200.2 246.8 202.8 246.3 C205.3 245.7 208.7 245.7 211.2 246.3 C213.8 246.8 216.2 248.0 218.0 249.7 C219.9 251.4 221.4 254.2 222.3 256.5 C223.1 258.7 223.5 261.0 223.1 263.2 C222.7 265.5 221.1 268.3 219.7 270.0 C218.3 271.7 216.3 273.1 214.6 273.4 C212.9 273.7 209.8 271.2 209.6 271.7 C209.3 272.3 211.2 275.4 212.9 276.8 C214.6 278.2 217.8 279.1 219.7 280.2 C221.7 281.3 224.5 282.5 224.8 283.6 C225.1 284.7 223.4 287.0 221.4 287.0 C219.4 287.0 215.8 285.0 212.9 283.6 C210.1 282.2 207.0 280.2 204.5 278.5 C201.9 276.8 199.7 275.4 197.7 273.4 C195.7 271.4 193.7 268.9 192.6 266.6 C191.5 264.4 190.9 261.8 190.9 259.9 C190.9 257.9 191.7 256.5 192.6 254.8 Z" fill="#9e5985"/>
<path d="M210.4 299.7 C210.5 298.4 211.8 296.4 212.9 295.8 C214.1 295.3 216.1 295.7 217.2 296.3 C218.3 297.0 219.4 298.5 219.4 299.7 C219.4 300.9 218.3 303.0 217.2 303.6 C216.1 304.3 213.7 304.3 212.6 303.6 C211.5 303.0 210.3 301.0 210.4 299.7 Z" fill="#9e5985"/>
<path d="M201.1 153.0 C201.6 151.3 205.3 149.6 207.9 148.7 C210.4 147.9 214.4 147.2 216.3 147.9 C218.3 148.6 220.3 151.3 219.7 153.0 C219.2 154.7 215.5 157.1 212.9 158.1 C210.4 159.0 206.4 159.8 204.5 158.9 C202.5 158.1 200.5 154.7 201.1 153.0 Z" fill="#7b4c90"/>
<path d="M232.4 327.3 C233.2 325.4 235.3 324.8 237.1 323.8 C238.9 322.8 241.2 321.6 243.0 321.4 C244.8 321.2 246.4 323.2 247.8 322.6 C249.1 322.0 250.1 319.1 251.3 317.9 C252.5 316.7 253.7 315.9 254.9 315.5 C256.0 315.1 258.2 314.7 258.4 315.5 C258.6 316.3 256.8 318.7 256.0 320.2 C255.2 321.8 254.5 323.4 253.7 325.0 C252.9 326.5 250.7 329.1 251.3 329.7 C251.9 330.3 255.2 329.1 257.2 328.5 C259.2 327.9 261.2 326.6 263.1 326.2 C265.1 325.7 267.1 325.6 269.1 325.6 C271.0 325.6 273.2 325.9 275.0 326.2 C276.7 326.4 279.7 326.4 279.7 327.3 C279.7 328.3 276.7 330.7 275.0 332.1 C273.2 333.5 271.0 334.8 269.1 335.6 C267.1 336.4 265.1 336.8 263.1 336.8 C261.2 336.8 259.2 336.0 257.2 335.6 C255.2 335.2 253.3 334.2 251.3 334.4 C249.3 334.6 247.4 335.7 245.4 336.8 C243.4 337.9 241.2 340.4 239.5 340.9 C237.7 341.5 235.9 341.2 234.7 340.4 C233.6 339.5 232.8 337.8 232.4 335.6 C232.0 333.5 231.6 329.3 232.4 327.3 Z" fill="#c26479"/>
<path d="M266.1 303.7 C265.9 302.1 267.0 298.5 267.9 296.6 C268.8 294.6 270.4 292.7 271.4 291.8 C272.4 290.9 273.8 290.3 273.8 291.2 C273.8 292.2 272.2 295.3 271.4 297.8 C270.6 300.2 269.9 305.0 269.1 306.0 C268.2 307.0 266.3 305.2 266.1 303.7 Z" fill="#c26479"/>
<path d="M196.8 258.2 C197.5 256.6 199.2 254.2 201.1 253.1 C202.9 251.9 205.6 251.2 207.9 251.4 C210.1 251.5 212.8 252.6 214.6 253.9 C216.5 255.2 218.2 257.2 218.9 259.0 C219.6 260.8 219.6 263.2 218.9 264.9 C218.2 266.6 216.1 268.6 214.6 269.2 C213.2 269.8 210.7 269.3 210.4 268.3 C210.1 267.3 212.8 264.8 212.9 263.2 C213.1 261.7 212.4 259.9 211.2 259.0 C210.1 258.2 207.7 257.7 206.2 258.2 C204.6 258.6 203.0 260.4 201.9 261.6 C200.8 262.7 200.2 264.8 199.4 264.9 C198.5 265.1 197.3 263.5 196.8 262.4 C196.4 261.3 196.1 259.7 196.8 258.2 Z" fill="#c26479"/>
<path d="M82.3 344.0 C83.7 336.6 88.2 348.8 90.8 350.8 C93.3 352.8 95.9 353.9 97.6 355.9 C99.3 357.8 99.0 360.7 101.0 362.7 C102.9 364.6 107.5 365.5 109.4 367.7 C111.4 370.0 113.1 373.7 112.8 376.2 C112.6 378.8 109.0 380.7 107.8 383.0 C106.5 385.3 105.7 389.4 105.2 389.8 C104.7 390.2 105.5 385.1 104.7 385.5 C103.9 386.0 102.6 391.7 100.6 392.4 C98.5 393.1 94.1 389.4 92.3 389.7 C90.4 389.9 91.1 392.9 89.5 393.8 C87.9 394.7 83.8 403.5 82.6 395.2 C81.4 386.9 80.9 351.4 82.3 344.0 Z" fill="#f99243"/>
<path d="M106.1 393.8 C106.9 392.0 109.5 390.6 111.6 391.0 C113.7 391.5 116.8 394.0 118.5 396.6 C120.2 399.1 121.7 403.0 122.0 406.2 C122.2 409.4 121.0 412.7 119.9 415.9 C118.7 419.1 116.1 423.2 115.1 425.5 C114.0 427.8 114.5 429.5 113.7 429.7 C112.9 429.9 111.0 428.8 110.2 426.9 C109.4 425.1 109.3 421.4 108.8 418.6 C108.4 415.9 107.8 413.1 107.5 410.4 C107.1 407.6 107.0 404.8 106.8 402.1 C106.5 399.3 105.3 395.6 106.1 393.8 Z" fill="#f99243"/>
<path d="M82.6 399.3 C83.8 395.6 87.8 401.4 89.5 403.5 C91.2 405.5 92.7 409.0 93.0 411.7 C93.2 414.5 91.9 417.7 90.9 420.0 C89.9 422.3 88.1 424.6 86.8 425.5 C85.4 426.5 83.3 429.9 82.6 425.5 C81.9 421.2 81.5 403.0 82.6 399.3 Z" fill="#f99243"/>
<path d="M265.5 351.0 C266.1 348.9 268.1 348.0 269.1 348.0 C270.0 348.0 271.1 349.3 271.4 351.0 C271.7 352.7 270.8 355.7 270.8 358.1 C270.8 360.5 271.9 364.0 271.4 365.2 C270.9 366.4 268.9 366.0 267.9 365.2 C266.9 364.4 265.9 362.8 265.5 360.5 C265.1 358.1 264.9 353.1 265.5 351.0 Z" fill="#f99243"/>
<path d="M178.5 533.1 C178.5 531.3 182.6 528.8 184.8 526.2 C186.9 523.7 190.1 520.9 191.7 517.9 C193.3 515.0 193.7 511.3 194.4 508.3 C195.1 505.3 195.6 499.3 195.8 500.0 C196.0 500.7 194.9 511.8 195.8 512.5 C196.7 513.2 198.8 506.3 201.3 504.2 C203.9 502.2 207.5 501.0 211.0 500.1 C214.4 499.2 218.8 499.2 222.0 498.7 C225.2 498.2 228.0 497.1 230.3 497.3 C232.6 497.6 233.8 498.9 235.8 500.1 C237.9 501.2 240.4 502.6 242.7 504.2 C245.0 505.8 247.6 509.3 249.6 509.7 C251.7 510.2 253.1 507.9 255.2 507.0 C257.2 506.1 260.0 504.0 262.1 504.2 C264.1 504.5 266.2 506.1 267.6 508.4 C269.0 510.7 269.9 518.0 270.3 518.0 C270.8 518.0 270.5 507.8 270.3 508.3 C270.2 508.7 270.1 516.3 269.6 520.7 C269.2 525.1 267.9 529.9 267.6 534.5 C267.2 539.1 267.8 543.7 267.6 548.3 C267.3 552.9 267.1 559.4 266.2 562.1 C265.3 564.9 264.1 564.9 262.1 564.9 C260.0 564.9 256.3 563.0 253.8 562.1 C251.2 561.2 247.3 561.0 246.9 559.4 C246.4 557.7 250.1 554.5 251.0 552.4 C251.9 550.4 253.1 548.1 252.4 546.9 C251.7 545.8 249.2 546.0 246.9 545.5 C244.6 545.1 241.3 543.9 238.6 544.2 C235.8 544.4 232.6 545.5 230.3 546.9 C228.0 548.3 227.1 551.1 224.8 552.4 C222.5 553.8 219.3 555.2 216.5 555.2 C213.7 555.2 210.8 553.1 208.2 552.4 C205.7 551.8 203.4 552.2 201.3 551.1 C199.3 549.9 197.6 547.4 195.8 545.5 C194.0 543.7 192.1 541.4 190.3 540.0 C188.4 538.6 186.7 538.4 184.8 537.3 C182.8 536.1 178.5 535.0 178.5 533.1 Z" fill="#fbba3f"/>
<path d="M139.9 534.5 C140.5 533.6 143.4 533.1 144.7 533.8 C146.1 534.5 148.2 537.4 148.2 538.6 C148.2 539.9 145.9 541.3 144.7 541.4 C143.6 541.5 142.1 540.5 141.3 539.3 C140.5 538.2 139.3 535.4 139.9 534.5 Z" fill="#fbba3f"/>
<path d="M110.9 475.2 C110.7 473.3 112.3 471.3 113.7 470.4 C115.1 469.5 117.6 469.0 119.2 469.7 C120.8 470.4 123.0 472.7 123.3 474.5 C123.7 476.4 122.6 479.5 121.3 480.8 C119.9 482.0 116.8 483.1 115.1 482.1 C113.3 481.2 111.1 477.2 110.9 475.2 Z" fill="#fbba3f"/>
<path d="M153.0 465.6 C153.6 464.0 155.5 462.4 157.2 462.8 C158.8 463.3 161.2 466.0 162.7 468.3 C164.2 470.6 166.1 474.5 166.1 476.6 C166.1 478.7 164.2 480.5 162.7 480.8 C161.2 481.0 158.6 479.4 157.2 478.0 C155.7 476.6 154.4 474.5 153.7 472.5 C153.0 470.4 152.4 467.2 153.0 465.6 Z" fill="#fbba3f"/>
<path d="M82.6 447.6 C83.5 445.6 86.5 448.8 88.1 450.4 C89.8 452.0 92.1 455.0 92.3 457.3 C92.5 459.6 91.1 463.3 89.5 464.2 C87.9 465.1 83.8 465.6 82.6 462.8 C81.5 460.1 81.7 449.7 82.6 447.6 Z" fill="#fbba3f"/>
<path d="M93.0 384.8 C93.3 383.8 94.7 381.9 95.7 381.7 C96.8 381.4 98.8 382.6 99.5 383.5 C100.1 384.3 100.3 386.0 99.9 386.9 C99.4 387.8 97.7 388.9 96.7 389.0 C95.7 389.1 94.3 388.3 93.7 387.6 C93.0 386.9 92.6 385.8 93.0 384.8 Z" fill="#fbba3f"/>
<path d="M208.9 404.8 C209.4 403.6 211.8 403.5 213.1 403.5 C214.3 403.5 216.5 403.8 216.5 404.8 C216.5 405.9 214.1 408.6 213.1 409.7 C212.0 410.7 211.0 411.9 210.3 411.1 C209.6 410.3 208.5 406.1 208.9 404.8 Z" fill="#fbba3f"/>
<path d="M259.6 419.4 C260.0 416.5 264.2 414.8 267.2 414.4 C270.2 413.9 274.4 415.2 277.4 416.9 C280.4 418.6 283.3 421.6 285.0 424.5 C286.7 427.5 285.9 432.2 287.6 434.7 C289.3 437.3 291.8 439.0 295.2 439.8 C298.6 440.6 304.5 439.0 307.9 439.8 C311.3 440.6 313.9 442.3 315.6 444.9 C317.2 447.4 316.8 452.1 318.1 455.1 C319.4 458.0 324.0 460.6 323.2 462.7 C322.3 464.8 315.6 465.2 313.0 467.8 C310.5 470.3 310.0 477.1 307.9 478.0 C305.8 478.8 302.8 475.0 300.3 472.9 C297.7 470.8 295.2 467.4 292.7 465.2 C290.1 463.1 285.9 462.7 285.0 460.2 C284.2 457.6 288.8 452.5 287.6 450.0 C286.3 447.4 279.9 447.0 277.4 444.9 C274.8 442.8 274.4 439.4 272.3 437.3 C270.2 435.1 266.8 435.1 264.7 432.2 C262.5 429.2 259.1 422.4 259.6 419.4 Z" fill="#fbba3f"/>
<path d="M325.7 500.9 C325.3 497.3 326.6 489.4 328.3 485.6 C330.0 481.8 333.4 478.4 335.9 478.0 C338.5 477.5 341.8 480.1 343.5 483.1 C345.2 486.0 346.5 492.0 346.1 495.8 C345.7 499.6 343.5 504.1 341.0 506.0 C338.5 507.9 333.4 508.1 330.8 507.2 C328.3 506.4 326.2 504.5 325.7 500.9 Z" fill="#fbba3f"/>
<path d="M323.2 513.6 C324.0 510.8 328.3 508.9 330.8 509.8 C333.4 510.6 337.6 515.5 338.5 518.7 C339.3 521.9 338.0 527.6 335.9 528.9 C333.8 530.1 327.9 528.9 325.7 526.3 C323.6 523.8 322.3 516.3 323.2 513.6 Z" fill="#fbba3f"/>
<path d="M276.1 446.2 C276.7 444.9 279.2 443.3 280.4 443.6 C281.7 443.9 283.6 446.5 283.7 447.9 C283.9 449.4 282.3 452.0 281.2 452.5 C280.1 453.1 277.7 452.3 276.9 451.3 C276.0 450.2 275.5 447.4 276.1 446.2 Z" fill="#fbba3f"/>
<path d="M392.2 409.3 C394.3 407.1 400.6 405.5 404.9 404.2 C409.1 402.9 413.4 402.5 417.6 401.6 C421.9 400.8 426.5 399.9 430.3 399.1 C434.2 398.2 437.1 397.4 440.5 396.5 C443.9 395.7 447.3 393.2 450.7 394.0 C454.1 394.8 458.3 398.2 460.9 401.6 C463.4 405.0 463.8 410.5 466.0 414.4 C468.1 418.2 471.0 421.1 473.6 424.5 C476.1 427.9 478.7 431.3 481.2 434.7 C483.8 438.1 488.0 441.9 488.9 444.9 C489.7 447.9 488.4 451.7 486.3 452.5 C484.2 453.4 479.1 451.7 476.1 450.0 C473.2 448.3 471.0 444.0 468.5 442.3 C466.0 440.6 463.4 439.4 460.9 439.8 C458.3 440.2 454.9 442.3 453.2 444.9 C451.5 447.4 452.0 452.1 450.7 455.1 C449.4 458.0 447.7 462.3 445.6 462.7 C443.5 463.1 440.5 457.6 438.0 457.6 C435.4 457.6 432.0 460.6 430.3 462.7 C428.6 464.8 429.1 470.3 427.8 470.3 C426.5 470.3 424.0 465.7 422.7 462.7 C421.4 459.7 419.7 455.9 420.2 452.5 C420.6 449.1 424.8 445.7 425.2 442.3 C425.7 439.0 424.0 435.6 422.7 432.2 C421.4 428.8 419.7 424.5 417.6 422.0 C415.5 419.4 412.9 417.3 410.0 416.9 C407.0 416.5 402.8 419.4 399.8 419.4 C396.8 419.4 393.4 418.6 392.2 416.9 C390.9 415.2 390.0 411.4 392.2 409.3 Z" fill="#fbba3f"/>
<path d="M351.5 455.1 C353.6 447.9 360.4 455.1 364.2 457.6 C368.0 460.2 370.5 468.6 374.4 470.3 C378.2 472.0 383.3 467.4 387.1 467.8 C390.9 468.2 396.0 469.9 397.3 472.9 C398.5 475.8 396.4 481.8 394.7 485.6 C393.0 489.4 389.2 492.0 387.1 495.8 C385.0 499.6 384.1 504.3 382.0 508.5 C379.9 512.7 377.3 520.0 374.4 521.2 C371.4 522.5 366.7 519.1 364.2 516.1 C361.6 513.2 361.2 506.0 359.1 503.4 C357.0 500.9 352.7 508.9 351.5 500.9 C350.2 492.8 349.3 462.3 351.5 455.1 Z" fill="#fbba3f"/>
<path d="M399.8 490.7 C399.0 486.9 402.8 481.8 404.9 478.0 C407.0 474.2 409.1 470.3 412.5 467.8 C415.9 465.2 421.4 462.3 425.2 462.7 C429.1 463.1 432.0 469.5 435.4 470.3 C438.8 471.2 442.2 467.8 445.6 467.8 C449.0 467.8 453.2 468.6 455.8 470.3 C458.3 472.0 458.7 475.8 460.9 478.0 C463.0 480.1 466.0 482.6 468.5 483.1 C471.0 483.5 473.6 480.1 476.1 480.5 C478.7 480.9 483.8 483.5 483.8 485.6 C483.8 487.7 479.1 491.5 476.1 493.2 C473.2 494.9 468.5 494.1 466.0 495.8 C463.4 497.5 463.4 503.0 460.9 503.4 C458.3 503.8 454.1 499.6 450.7 498.3 C447.3 497.1 443.9 495.4 440.5 495.8 C437.1 496.2 433.7 500.4 430.3 500.9 C426.9 501.3 423.6 498.3 420.2 498.3 C416.8 498.3 413.4 502.1 410.0 500.9 C406.6 499.6 400.6 494.5 399.8 490.7 Z" fill="#fbba3f"/>
<path d="M390.9 509.8 C391.7 508.3 396.8 507.9 399.8 507.2 C402.8 506.6 405.7 504.9 408.7 506.0 C411.7 507.0 416.6 511.0 417.6 513.6 C418.7 516.1 417.2 520.4 415.1 521.2 C412.9 522.1 408.3 519.5 404.9 518.7 C401.5 517.8 397.0 517.6 394.7 516.1 C392.4 514.7 390.0 511.3 390.9 509.8 Z" fill="#fbba3f"/>
<path d="M369.3 539.0 C369.7 536.1 375.6 536.1 379.4 536.5 C383.3 536.9 388.8 539.9 392.2 541.6 C395.6 543.3 399.8 545.0 399.8 546.7 C399.8 548.4 394.7 550.1 392.2 551.8 C389.6 553.5 387.1 556.4 384.5 556.8 C382.0 557.3 379.4 557.3 376.9 554.3 C374.4 551.3 368.8 542.0 369.3 539.0 Z" fill="#fbba3f"/>
<path d="M444.0 440.0 C450.2 438.3 473.7 438.9 481.3 440.0 C489.0 441.1 488.3 444.2 489.8 446.8 C491.4 449.3 491.5 453.3 490.7 455.3 C489.8 457.2 486.8 458.9 484.7 458.7 C482.6 458.4 480.5 455.0 477.9 453.6 C475.4 452.2 472.3 450.5 469.4 450.2 C466.6 449.9 463.8 452.2 461.0 451.9 C458.1 451.6 455.3 448.8 452.5 448.5 C449.7 448.2 445.4 451.6 444.0 450.2 C442.6 448.8 437.8 441.7 444.0 440.0 Z" fill="#fbba3f"/>
<path d="M447.4 507.9 C448.5 503.6 451.9 501.6 454.2 499.4 C456.4 497.1 458.4 495.7 461.0 494.3 C463.5 492.9 466.6 491.2 469.4 490.9 C472.3 490.6 475.7 493.2 477.9 492.6 C480.2 492.0 480.8 488.6 483.0 487.5 C485.3 486.4 488.7 485.5 491.5 485.8 C494.3 486.1 497.2 489.5 500.0 489.2 C502.8 488.9 505.6 485.2 508.5 484.1 C511.3 483.0 514.1 482.1 517.0 482.4 C519.8 482.7 522.9 484.4 525.4 485.8 C528.0 487.2 530.0 489.2 532.2 490.9 C534.5 492.6 536.7 494.3 539.0 496.0 C541.3 497.7 543.5 499.1 545.8 501.1 C548.1 503.1 552.0 505.6 552.6 507.9 C553.2 510.1 549.2 512.4 549.2 514.7 C549.2 516.9 550.9 519.2 552.6 521.4 C554.3 523.7 558.0 525.7 559.4 528.2 C560.8 530.8 561.6 534.7 561.1 536.7 C560.5 538.7 557.7 540.7 556.0 540.1 C554.3 539.5 552.6 535.9 550.9 533.3 C549.2 530.8 547.8 527.1 545.8 524.8 C543.8 522.6 541.3 521.2 539.0 519.7 C536.7 518.3 534.5 517.2 532.2 516.3 C530.0 515.5 527.7 514.4 525.4 514.7 C523.2 514.9 520.3 516.3 518.7 518.0 C517.0 519.7 516.1 522.0 515.3 524.8 C514.4 527.7 514.7 532.5 513.6 535.0 C512.4 537.6 510.7 539.0 508.5 540.1 C506.2 541.2 502.8 541.2 500.0 541.8 C497.2 542.4 494.3 542.9 491.5 543.5 C488.7 544.1 485.9 545.2 483.0 545.2 C480.2 545.2 477.4 544.1 474.5 543.5 C471.7 542.9 468.9 542.4 466.1 541.8 C463.2 541.2 460.1 541.2 457.6 540.1 C455.0 539.0 452.5 537.6 450.8 535.0 C449.1 532.5 448.0 529.4 447.4 524.8 C446.8 520.3 446.3 512.1 447.4 507.9 Z" fill="#fbba3f"/>
<path d="M469.4 482.4 C469.6 480.9 472.4 479.0 474.5 478.2 C476.7 477.3 480.3 476.8 482.2 477.3 C484.0 477.9 485.7 480.0 485.6 481.6 C485.4 483.1 483.3 485.7 481.3 486.7 C479.3 487.6 475.7 488.2 473.7 487.5 C471.7 486.8 469.3 484.0 469.4 482.4 Z" fill="#fbba3f"/>
<path d="M547.5 484.1 C548.6 482.1 552.9 482.4 556.0 482.4 C559.1 482.4 562.8 483.0 566.2 484.1 C569.6 485.2 572.9 487.2 576.3 489.2 C579.7 491.2 583.1 494.0 586.5 496.0 C589.9 498.0 593.3 499.9 596.7 501.1 C600.1 502.2 601.8 502.8 606.9 502.8 C612.0 502.8 623.8 488.4 627.2 501.1 C630.6 513.8 628.9 566.7 627.2 579.1 C625.5 591.6 619.6 577.4 617.1 575.7 C614.5 574.0 613.7 571.2 612.0 568.9 C610.3 566.7 609.4 563.6 606.9 562.2 C604.3 560.7 599.8 561.3 596.7 560.5 C593.6 559.6 591.0 558.5 588.2 557.1 C585.4 555.7 582.0 554.0 579.7 552.0 C577.5 550.0 575.8 547.7 574.6 545.2 C573.5 542.6 572.7 539.5 572.9 536.7 C573.2 533.9 576.9 530.2 576.3 528.2 C575.8 526.2 571.8 525.7 569.6 524.8 C567.3 524.0 565.0 524.0 562.8 523.1 C560.5 522.3 558.0 521.4 556.0 519.7 C554.0 518.0 551.5 515.5 550.9 513.0 C550.3 510.4 552.9 507.6 552.6 504.5 C552.3 501.4 550.0 497.7 549.2 494.3 C548.3 490.9 546.4 486.1 547.5 484.1 Z" fill="#fbba3f"/>
<path d="M564.5 575.7 C565.7 574.0 569.8 572.6 572.9 572.3 C576.1 572.1 580.0 574.3 583.1 574.0 C586.2 573.8 589.3 570.6 591.6 570.6 C593.9 570.6 596.4 572.1 596.7 574.0 C597.0 576.0 594.7 580.0 593.3 582.5 C591.9 585.1 588.8 587.0 588.2 589.3 C587.6 591.6 590.8 594.7 589.9 596.1 C589.1 597.5 585.7 597.8 583.1 597.8 C580.6 597.8 577.2 597.5 574.6 596.1 C572.1 594.7 569.4 591.6 567.9 589.3 C566.3 587.0 565.9 584.8 565.3 582.5 C564.7 580.3 563.2 577.4 564.5 575.7 Z" fill="#fbba3f"/>
<path d="M518.7 468.8 C519.5 467.9 522.6 466.6 525.4 466.3 C528.3 466.0 532.8 466.4 535.6 467.1 C538.4 467.9 541.8 469.4 542.4 470.5 C543.0 471.7 541.3 473.5 539.0 473.9 C536.7 474.4 531.9 473.4 528.8 473.1 C525.7 472.8 522.0 472.9 520.3 472.2 C518.7 471.5 517.8 469.8 518.7 468.8 Z" fill="#fbba3f"/>
<path d="M342.0 460.4 C342.0 456.4 347.1 454.7 348.8 450.2 C350.5 445.7 348.3 436.0 352.2 433.2 C356.2 430.4 368.9 429.8 372.6 433.2 C376.3 436.6 373.2 448.2 374.3 453.6 C375.4 458.9 378.0 462.1 379.4 465.4 C380.8 468.8 383.6 471.7 382.8 473.9 C381.9 476.2 378.2 478.5 374.3 479.0 C370.3 479.6 363.3 478.2 359.0 477.3 C354.8 476.5 351.7 476.8 348.8 473.9 C346.0 471.1 342.0 464.3 342.0 460.4 Z" fill="#fbba3f"/>
<path d="M410.0 385.0 C411.7 384.4 417.6 390.4 421.9 391.8 C426.1 393.2 430.9 393.5 435.4 393.5 C440.0 393.5 445.1 391.0 449.0 391.8 C453.0 392.6 456.9 395.8 459.2 398.6 C461.5 401.4 463.2 406.5 462.6 408.8 C462.0 411.0 459.2 412.2 455.8 412.2 C452.4 412.2 446.7 409.6 442.2 408.8 C437.7 407.9 432.6 408.2 428.7 407.1 C424.7 405.9 421.3 404.0 418.5 402.0 C415.6 400.0 413.1 398.0 411.7 395.2 C410.3 392.4 408.3 385.6 410.0 385.0 Z" fill="#fbba3f"/>
<path d="M191.7 527.6 C191.9 525.9 195.1 524.8 197.2 523.5 C199.3 522.1 201.6 520.6 204.1 519.3 C206.6 518.1 209.4 516.3 212.4 515.9 C215.4 515.4 219.5 516.0 222.0 516.6 C224.6 517.1 225.9 518.2 227.5 519.3 C229.2 520.5 231.9 522.3 231.7 523.5 C231.5 524.6 227.8 525.1 226.2 526.2 C224.6 527.4 223.2 528.5 222.0 530.4 C220.9 532.2 221.1 536.0 219.3 537.3 C217.4 538.5 213.7 538.0 211.0 538.0 C208.2 538.0 205.2 538.0 202.7 537.3 C200.2 536.6 197.6 535.4 195.8 533.8 C194.0 532.2 191.4 529.3 191.7 527.6 Z" fill="#e8fa5b"/>
<path d="M242.7 524.8 C242.8 523.8 247.4 522.3 249.6 522.1 C251.8 521.9 255.4 522.5 255.8 523.5 C256.3 524.4 253.5 526.8 252.4 527.6 C251.2 528.4 250.6 528.8 248.9 528.3 C247.3 527.8 242.6 525.9 242.7 524.8 Z" fill="#e8fa5b"/>
<path d="M433.6 427.1 C433.8 425.3 435.2 422.8 436.7 422.0 C438.2 421.2 441.2 421.6 442.5 422.5 C443.9 423.4 445.0 425.9 444.8 427.6 C444.7 429.3 443.3 431.8 441.8 432.7 C440.3 433.5 437.3 433.6 435.9 432.7 C434.6 431.7 433.5 428.9 433.6 427.1 Z" fill="#e8fa5b"/>
<path d="M474.5 516.3 C475.0 514.4 476.0 512.5 477.9 511.3 C479.9 510.0 483.3 509.0 486.4 508.7 C489.5 508.4 493.9 508.6 496.6 509.6 C499.3 510.6 501.4 512.7 502.5 514.7 C503.7 516.6 504.1 519.5 503.4 521.4 C502.7 523.4 500.6 525.3 498.3 526.5 C496.0 527.8 492.6 528.9 489.8 529.1 C487.0 529.2 483.7 528.4 481.3 527.4 C478.9 526.4 476.5 525.0 475.4 523.1 C474.3 521.3 474.1 518.3 474.5 516.3 Z" fill="#e8fa5b"/>
<path d="M504.2 506.2 C504.2 505.0 506.9 503.4 508.5 503.1 C510.1 502.8 513.1 503.7 513.9 504.5 C514.7 505.3 514.5 507.0 513.6 507.9 C512.7 508.8 510.0 510.2 508.5 509.9 C506.9 509.6 504.2 507.3 504.2 506.2 Z" fill="#e8fa5b"/>
<path d="M554.3 496.0 C554.7 494.0 556.3 490.8 557.7 489.2 C559.1 487.6 561.1 486.4 562.8 486.7 C564.5 486.9 565.9 489.6 567.9 490.9 C569.8 492.2 572.7 492.9 574.6 494.3 C576.6 495.7 578.3 497.4 579.7 499.4 C581.1 501.4 581.7 504.2 583.1 506.2 C584.5 508.1 586.5 509.6 588.2 511.3 C589.9 513.0 591.3 514.9 593.3 516.3 C595.3 517.8 597.8 518.9 600.1 519.7 C602.4 520.6 606.3 520.6 606.9 521.4 C607.4 522.3 605.2 524.1 603.5 524.8 C601.8 525.5 599.0 525.7 596.7 525.7 C594.4 525.7 592.2 525.3 589.9 524.8 C587.6 524.4 585.4 523.7 583.1 523.1 C580.9 522.6 578.6 522.0 576.3 521.4 C574.1 520.9 571.8 520.3 569.6 519.7 C567.3 519.2 564.7 518.9 562.8 518.0 C560.8 517.2 558.8 516.3 557.7 514.7 C556.5 513.0 556.4 510.1 556.0 507.9 C555.6 505.6 555.4 503.1 555.1 501.1 C554.8 499.1 553.9 498.0 554.3 496.0 Z" fill="#e8fa5b"/>
<path d="M575.5 538.4 C576.1 536.6 577.9 533.7 579.7 532.5 C581.6 531.2 584.3 531.2 586.5 530.8 C588.8 530.3 590.8 529.2 593.3 529.9 C595.8 530.6 599.5 533.0 601.8 535.0 C604.0 537.0 604.9 540.4 606.9 541.8 C608.9 543.2 612.3 542.1 613.7 543.5 C615.1 544.9 615.9 548.3 615.4 550.3 C614.8 552.3 612.5 554.2 610.3 555.4 C608.0 556.5 604.3 557.4 601.8 557.1 C599.2 556.8 597.3 554.8 595.0 553.7 C592.7 552.5 590.5 551.4 588.2 550.3 C586.0 549.2 583.4 548.0 581.4 546.9 C579.4 545.8 577.3 544.9 576.3 543.5 C575.3 542.1 574.9 540.2 575.5 538.4 Z" fill="#e8fa5b"/>
<path d="M611.1 507.9 C611.4 506.0 612.7 504.5 615.4 503.6 C618.0 502.8 625.3 500.1 627.2 502.8 C629.2 505.5 628.7 517.2 627.2 519.7 C625.8 522.3 621.0 518.9 618.8 518.0 C616.5 517.2 614.9 516.3 613.7 514.7 C612.4 513.0 610.8 509.7 611.1 507.9 Z" fill="#e8fa5b"/>
<path d="M609.4 558.8 C609.4 556.8 611.8 554.2 613.7 553.7 C615.5 553.1 618.2 554.5 620.5 555.4 C622.7 556.2 626.1 555.7 627.2 558.8 C628.4 561.9 628.7 572.1 627.2 574.0 C625.8 576.0 621.0 572.1 618.8 570.6 C616.5 569.2 615.2 567.5 613.7 565.6 C612.1 563.6 609.4 560.7 609.4 558.8 Z" fill="#e8fa5b"/>
<path d="M379.7 316.3 C380.4 313.5 384.3 308.9 386.6 308.0 C388.9 307.1 391.0 309.6 393.5 310.7 C396.1 311.9 399.1 313.5 401.8 314.9 C404.6 316.3 407.8 317.4 410.1 319.0 C412.4 320.6 414.0 322.2 415.6 324.5 C417.2 326.8 417.9 330.5 419.8 332.8 C421.6 335.1 424.4 336.3 426.7 338.3 C429.0 340.4 430.8 342.7 433.6 345.2 C436.3 347.8 440.5 351.0 443.2 353.5 C446.0 356.1 448.6 354.2 450.0 360.4 C451.4 366.6 457.7 385.9 451.5 390.8 C445.3 395.7 420.0 391.6 412.9 390.0 C405.7 388.3 409.2 383.7 408.7 381.1 C408.3 378.5 410.6 376.5 410.1 374.2 C409.7 371.9 407.6 369.6 406.0 367.3 C404.4 365.0 402.3 362.5 400.4 360.4 C398.6 358.4 396.5 356.7 394.9 354.9 C393.3 353.1 391.9 351.2 390.8 349.4 C389.6 347.5 388.5 346.2 388.0 343.9 C387.6 341.6 388.9 338.8 388.0 335.6 C387.1 332.4 383.9 327.8 382.5 324.5 C381.1 321.3 379.1 319.0 379.7 316.3 Z" fill="#fbba3f"/>
<path d="M325.2 245.9 C321.4 247.9 327.9 254.6 329.4 258.3 C330.9 262.0 332.1 265.0 334.2 267.9 C336.3 270.9 339.7 273.5 341.8 276.2 C343.9 279.0 344.7 282.0 346.6 284.5 C348.6 287.0 351.8 289.6 353.5 291.4 C355.2 293.2 356.5 293.9 357.0 295.5 C357.4 297.2 355.4 298.8 356.3 301.3 C357.2 303.9 360.7 307.8 362.5 310.7 C364.3 313.7 366.0 316.7 367.3 319.0 C368.6 321.3 370.0 322.9 370.4 324.5 C370.7 326.1 368.7 327.3 369.4 328.7 C370.0 330.1 372.7 330.9 374.2 332.8 C375.7 334.7 377.0 338.7 378.4 340.0 C379.7 341.3 381.1 340.2 382.5 340.4 C383.9 340.6 385.7 341.4 386.6 341.1 C387.6 340.8 387.8 339.7 388.0 338.3 C388.3 337.0 388.5 334.7 388.0 332.8 C387.6 331.0 386.2 329.1 385.3 327.3 C384.3 325.5 383.4 323.6 382.5 321.8 C381.6 319.9 380.0 318.1 379.7 316.3 C379.5 314.4 380.0 312.1 381.1 310.7 C382.3 309.4 385.5 309.1 386.6 308.0 C387.8 306.8 388.0 305.7 388.0 303.8 C388.0 302.0 387.0 299.0 386.6 296.9 C386.3 294.9 386.6 293.2 386.0 291.4 C385.3 289.6 384.0 287.5 382.5 285.9 C381.0 284.3 378.6 283.4 377.0 281.7 C375.4 280.1 374.0 278.1 372.8 276.2 C371.7 274.4 371.0 272.3 370.1 270.7 C369.2 269.1 368.5 267.7 367.3 266.6 C366.2 265.4 364.6 265.0 363.2 263.8 C361.8 262.7 360.4 261.0 359.0 259.7 C357.7 258.3 356.1 257.8 354.9 255.5 C353.7 253.2 357.1 247.5 352.1 245.9 C347.2 244.2 329.0 243.8 325.2 245.9 Z" fill="#e8fa5b"/>
<path d="M364.6 277.6 C365.4 277.4 367.1 280.1 368.7 281.7 C370.3 283.4 372.2 285.7 374.2 287.3 C376.3 288.9 379.6 289.8 381.1 291.4 C382.6 293.0 383.4 294.9 383.2 296.9 C383.0 299.0 381.2 302.2 379.7 303.8 C378.2 305.4 375.6 306.8 374.2 306.6 C372.8 306.4 372.4 304.3 371.5 302.4 C370.5 300.6 369.6 297.8 368.7 295.5 C367.8 293.2 366.7 290.7 365.9 288.6 C365.1 286.6 364.1 285.0 363.9 283.1 C363.6 281.3 363.8 277.8 364.6 277.6 Z" fill="#fbba3f"/>
<path d="M394.9 332.8 C395.7 331.0 397.5 328.4 399.1 327.3 C400.7 326.1 403.0 325.0 404.6 325.9 C406.2 326.8 407.8 330.3 408.7 332.8 C409.7 335.3 410.1 338.6 410.1 341.1 C410.1 343.6 409.9 347.1 408.7 348.0 C407.6 348.9 405.0 347.5 403.2 346.6 C401.4 345.7 399.2 343.9 397.7 342.5 C396.2 341.1 394.7 339.9 394.2 338.3 C393.8 336.7 394.1 334.7 394.9 332.8 Z" fill="#e8fa5b"/>
<path d="M412.9 349.4 C413.6 347.5 417.2 345.7 419.8 345.2 C422.3 344.8 425.5 345.5 428.1 346.6 C430.6 347.8 432.9 349.8 435.0 352.1 C437.0 354.4 439.3 357.4 440.5 360.4 C441.6 363.4 442.1 367.1 441.9 370.1 C441.6 373.1 440.5 376.5 439.1 378.4 C437.7 380.2 435.6 381.1 433.6 381.1 C431.5 381.1 428.7 380.0 426.7 378.4 C424.6 376.8 422.3 374.0 421.2 371.5 C420.0 368.9 420.7 365.7 419.8 363.2 C418.9 360.7 416.8 358.6 415.6 356.3 C414.5 354.0 412.2 351.2 412.9 349.4 Z" fill="#e8fa5b"/>
<path d="M459.3 596.1 C460.4 591.8 463.5 592.1 466.1 589.3 C468.6 586.5 472.6 582.5 474.5 579.1 C476.5 575.7 476.2 571.5 477.9 568.9 C479.6 566.4 482.2 564.8 484.7 563.9 C487.3 562.9 490.4 562.2 493.2 563.0 C496.0 563.9 499.1 566.8 501.7 568.9 C504.2 571.1 506.8 572.9 508.5 575.7 C510.2 578.6 510.5 582.5 511.9 585.9 C513.3 589.3 515.8 592.7 517.0 596.1 C518.1 599.5 518.4 603.2 518.7 606.3 C518.9 609.4 528.5 613.3 518.7 614.8 C508.8 616.2 469.2 617.9 459.3 614.8 C449.4 611.6 458.1 600.3 459.3 596.1 Z" fill="#e5745f"/>
<path d="M480.5 592.7 C480.5 589.6 480.9 584.2 482.2 580.8 C483.4 577.4 485.7 573.9 488.1 572.3 C490.5 570.8 494.1 570.9 496.6 571.5 C499.1 572.1 501.5 573.6 503.4 575.7 C505.2 577.9 506.8 581.1 507.6 584.2 C508.5 587.3 509.2 591.3 508.5 594.4 C507.8 597.5 504.8 600.3 503.4 602.9 C502.0 605.4 501.4 608.0 500.0 609.7 C498.6 611.4 497.2 614.2 494.9 613.1 C492.6 611.9 488.5 605.1 486.4 602.9 C484.3 600.6 483.2 601.2 482.2 599.5 C481.2 597.8 480.5 595.8 480.5 592.7 Z" fill="#c26479"/>
<path d="M482.2 591.0 C482.2 587.9 483.4 582.0 484.7 579.1 C486.0 576.3 487.7 574.9 489.8 574.0 C491.9 573.2 495.3 572.9 497.4 574.0 C499.6 575.2 501.5 578.3 502.5 580.8 C503.5 583.4 503.5 586.5 503.4 589.3 C503.2 592.1 502.8 595.5 501.7 597.8 C500.6 600.0 498.3 602.6 496.6 602.9 C494.9 603.2 493.5 600.3 491.5 599.5 C489.5 598.6 486.3 599.2 484.7 597.8 C483.2 596.4 482.2 594.1 482.2 591.0 Z" fill="#9e5985"/>
<path d="M70.0 612.2 L640.0 612.2 L640.0 660.0 L70.0 660.0 Z" fill="#97b6e1"/>
<g transform="translate(0.0 0)">
<path d="M233.8 135.5 L242.1 150.7 L244.8 161.7 L249.7 170.0 L253.1 176.9 L256.6 185.2 L261.4 194.9 L265.5 204.5 L269.7 214.2 L273.1 221.8 L275.2 226.6 L278.7 234.9 L281.4 244.6 L282.4 251.5 L280.7 258.4 L282.8 263.2 L287.6 266.6 L297.3 268.0 L308.3 268.0 L316.6 254.2 L302.8 219.7 L275.2 185.2 L254.5 143.8 Z" fill="#97b6e1"/>
<path d="M284.5 261.7 L290.0 270.7 L296.9 277.6 L305.2 286.2 L312.1 293.1 L319.7 301.3 L324.5 308.0 L328.0 312.8 L333.5 316.0 L335.6 323.8 L339.7 331.4 L345.2 338.3 L352.1 340.0 L360.4 345.2 L368.7 352.8 L377.7 353.8 L381.1 359.0 L383.2 366.6 L388.0 364.6 L394.2 360.4 L393.5 354.9 L374.2 319.0 L332.8 277.6 L305.2 256.9 Z" fill="#97b6e1"/>
<path d="M282.1 171.4 L330.4 175.5 L371.8 226.6 L376.0 270.0 L324.9 270.0 L316.6 240.4 L282.1 199.0 Z" fill="#97b6e1"/>
<path d="M354.9 247.2 L359.0 259.7 L367.3 266.6 L370.1 270.7 L372.8 276.2 L377.0 281.7 L382.5 285.9 L386.0 291.4 L386.6 296.9 L390.5 308.7 L396.4 317.1 L404.9 325.6 L413.4 332.4 L418.5 340.9 L427.0 349.4 L435.4 357.9 L443.9 364.7 L450.7 371.4 L451.6 381.6 L450.7 388.4 L457.5 391.8 L462.6 398.6 L462.6 405.4 L466.8 409.6 L476.2 408.8 L472.8 374.8 L438.8 332.4 L404.9 298.5 L374.2 250.0 Z" fill="#97b6e1"/>
<path d="M327.0 247.2 L330.9 258.3 L335.7 267.9 L343.0 276.2 L348.0 284.5 L354.9 291.4 L358.2 295.5 L357.7 301.3 L363.7 310.7 L368.4 319.0 L371.6 324.5 L370.6 328.7 L375.3 332.8 L379.3 339.4 L384.2 337.8 L388.0 341.6 L391.1 349.4 L393.5 357.7 L394.0 362.1 L382.5 360.4 L367.3 325.9 L346.6 291.4 L325.2 247.2 Z" fill="#97b6e1"/>
<path d="M600.0 250.0 L630.0 250.0 L630.0 420.0 L600.0 420.0 Z" fill="#97b6e1"/>
<path d="M623.3 335.9 C621.7 337.4 620.5 342.1 619.4 344.8 C618.3 347.5 617.2 348.6 616.5 351.9 C615.9 355.2 615.6 360.5 615.5 364.3 C615.4 368.2 615.4 371.7 615.8 375.0 C616.2 378.2 616.7 380.6 618.0 383.9 C619.2 387.2 621.5 393.0 623.3 394.9 C625.1 396.7 627.7 404.7 628.6 394.9 C629.5 385.1 629.5 345.7 628.6 335.9 C627.7 326.1 624.8 334.4 623.3 335.9 Z" fill="#e8fa5b"/>
<path d="M302.0 213.3 C302.4 211.6 304.1 209.3 305.5 208.5 C306.8 207.7 308.9 207.7 310.3 208.5 C311.7 209.3 312.8 211.4 313.7 213.3 C314.7 215.3 314.7 218.4 315.8 220.2 C317.0 222.1 318.9 223.1 320.6 224.4 C322.4 225.6 324.6 226.4 326.2 227.8 C327.8 229.2 328.9 230.9 330.3 232.6 C331.7 234.4 333.3 236.1 334.5 238.2 C335.6 240.2 336.1 243.0 337.2 245.1 C338.4 247.1 339.5 249.0 341.4 250.6 C343.2 252.2 346.0 253.4 348.3 254.7 C350.6 256.1 352.9 257.5 355.2 258.9 C357.5 260.3 360.0 261.8 362.1 263.0 C364.1 264.3 365.7 265.2 367.6 266.5 C369.4 267.7 372.0 268.0 373.1 270.6 C374.3 273.3 379.8 280.4 374.5 282.3 C369.2 284.3 347.6 284.6 341.4 282.3 C335.1 280.0 338.6 272.0 337.2 268.5 C335.8 265.1 334.5 263.9 333.1 261.6 C331.7 259.3 330.5 257.3 328.9 254.7 C327.3 252.2 325.2 249.0 323.4 246.5 C321.6 243.9 319.7 241.8 317.9 239.5 C316.0 237.2 314.2 234.9 312.4 232.6 C310.5 230.3 308.3 228.0 306.8 225.7 C305.3 223.4 304.2 220.9 303.4 218.8 C302.6 216.8 301.7 215.0 302.0 213.3 Z" fill="#e8fa5b"/>
<path d="M234.0 135.4 L235.8 137.7 L237.1 140.4 L239.4 142.5 L240.7 145.2 L242.2 147.9 L243.9 150.5 L244.5 152.8 L246.0 154.6 L246.5 156.9 L247.8 158.8 L248.7 160.8 L249.7 163.6 L250.7 166.3 L252.6 168.2 L253.6 170.4 L254.4 172.8 L254.9 175.0 L256.1 177.0 L259.4 179.7 L258.2 184.1 L260.5 185.9 L261.1 188.6 L263.0 190.6 L264.3 192.9 L265.5 195.1 L266.4 197.6 L266.7 200.0 L268.1 202.1 L268.5 204.6 L269.8 206.7 L271.5 208.6 L272.2 210.8 L273.6 212.7 L274.3 215.5 L274.8 218.2 L275.8 222.4 L278.4 223.5 L280.8 224.8 L283.0 226.3 L285.4 227.4 L287.8 228.5 L289.3 230.5 L291.2 232.1 L293.4 233.4 L294.5 235.4 L295.9 237.2 L296.9 239.3 L298.5 241.5 L300.3 243.5 L301.0 246.2 L303.3 248.5 L304.6 251.4 L305.3 254.0 L307.1 256.3 L306.8 258.7 L306.5 261.2 L305.7 256.9 L305.1 259.8 L304.9 262.6 L302.4 262.7 L300.1 263.6 L297.6 263.6 L294.5 263.6 L291.4 263.4 L288.5 263.0 L285.3 262.7 L287.1 264.8 L289.4 266.5 L291.6 268.4 L294.5 269.7 L295.7 272.0 L297.5 273.9 L299.1 275.7 L301.1 277.1 L303.3 278.1 L305.3 279.6 L307.2 281.2 L309.6 282.0 L311.2 283.6 L313.2 284.6 L314.7 285.8 L316.8 284.9 L319.2 284.7 L322.4 281.4 L323.0 283.7 L323.5 286.1 L325.1 288.4 L327.6 289.7 L329.2 291.4 L330.9 292.8 L332.6 294.5 L334.4 295.8 L336.3 297.2 L338.5 298.2 L340.1 301.0 L341.9 303.8 L342.1 306.3 L342.7 308.6 L344.2 310.8 L343.7 313.1 L343.2 315.4 L342.8 317.7 L341.5 320.4 L340.3 323.1 L339.6 326.4 L342.6 327.5 L345.3 329.3 L347.1 331.0 L348.7 332.9 L351.9 332.9 L354.8 334.6 L357.0 336.4 L359.0 338.4 L360.8 339.9 L363.0 340.7 L364.3 342.8 L366.2 344.1 L368.0 345.6 L369.9 346.9 L372.0 348.1 L373.8 349.8 L376.0 351.2 L376.9 353.9 L378.8 356.1 L379.8 358.9 L380.7 361.6 L383.0 364.5 L385.5 363.3 L387.7 361.7 L389.6 359.8 L391.5 358.3 L391.7 355.5 L392.3 352.9 L390.8 351.3 L390.3 348.9 L388.8 347.3 L387.3 344.3 L386.4 341.3 L384.7 338.5 L382.5 340.6 L378.2 340.3 L376.0 338.2 L375.4 335.4 L374.2 332.9 L371.4 332.1 L368.9 328.6 L370.0 324.7 L368.7 321.9 L367.1 319.2 L366.2 316.7 L364.2 315.0 L363.1 313.0 L362.9 310.5 L360.8 308.0 L358.7 305.4 L357.7 303.3 L355.8 301.3 L356.7 298.6 L357.5 295.5 L355.6 293.4 L353.6 291.2 L351.4 290.4 L349.5 289.0 L347.8 286.9 L346.9 284.4 L345.3 280.3 L343.7 278.1 L341.6 276.3 L339.8 274.3 L338.6 271.8 L336.6 269.6 L334.5 267.7 L333.1 265.7 L331.8 263.7 L330.6 260.9 L329.1 258.3 L328.7 254.1 L326.8 252.2 L325.7 249.8 L326.7 251.8 L327.5 253.9 L328.6 255.9 L329.2 258.1 L330.0 260.2 L331.5 262.0 L332.1 264.2 L333.0 266.3 L335.0 267.7 L333.1 266.3 L331.6 264.5 L330.1 262.6 L329.4 259.8 L328.7 257.1 L328.2 254.6 L327.6 252.2 L326.6 249.9 L324.9 248.3 L323.7 246.3 L322.3 244.3 L320.0 243.5 L318.6 241.7 L317.0 240.2 L315.5 237.5 L314.1 234.7 L312.5 233.2 L310.8 231.7 L310.0 229.5 L308.2 228.1 L306.7 225.9 L305.0 224.0 L302.7 222.5 L301.3 220.7 L300.4 218.5 L298.9 216.9 L297.4 214.8 L296.5 212.5 L295.5 210.1 L295.9 207.7 L295.3 205.4 L294.2 203.3 L294.2 200.8 L293.7 198.4 L292.6 196.2 L291.6 194.0 L291.1 191.6 L290.0 189.3 L290.2 186.2 L291.4 183.5 L293.3 181.2 L291.5 179.1 L289.3 177.2 L291.5 179.1 L293.0 181.7 L295.6 182.8 L298.7 182.8 L301.0 183.0 L303.3 183.2 L305.4 183.4 L307.2 181.9 L309.9 182.3 L311.9 184.5 L314.0 186.2 L316.4 188.4 L319.4 189.2 L321.8 190.3 L324.1 191.4 L323.6 194.5 L323.9 197.6 L324.4 200.1 L325.9 202.2 L326.9 204.5 L327.9 206.8 L329.3 208.9 L329.8 211.4 L331.0 213.6 L332.1 215.8 L332.2 218.5 L334.0 220.5 L334.8 222.9 L335.7 225.3 L336.8 227.3 L338.0 229.3 L338.7 231.5 L340.0 233.2 L341.2 234.9 L341.9 237.7 L341.4 240.5 L343.4 241.6 L345.1 243.0 L346.4 245.4 L348.4 247.3 L350.4 249.4 L352.3 251.7 L354.3 253.9 L356.7 255.6 L357.9 257.7 L359.4 259.8 L362.2 260.1 L364.9 260.6 L367.2 260.8 L369.5 261.4 L371.9 261.8 L371.7 263.0 L371.6 265.5 L371.1 268.0 L371.7 270.8 L373.0 273.3 L374.6 274.9 L376.2 276.6 L378.2 277.9 L381.0 278.6 L383.5 280.1 L385.0 283.1 L386.8 285.4 L389.5 286.3 L392.5 286.9 L394.1 289.5 L396.0 291.5 L397.0 293.7 L398.6 295.9 L395.8 296.7 L393.4 298.3 L393.2 301.2 L391.9 304.1 L393.9 306.3 L396.4 307.7 L398.8 309.8 L401.9 310.6 L404.1 312.1 L406.2 314.0 L408.5 315.2 L411.2 315.9 L413.4 317.6 L415.6 319.0 L417.4 320.7 L419.1 322.5 L420.6 324.4 L422.0 327.4 L424.2 329.6 L426.0 331.5 L428.1 332.8 L429.9 334.3 L431.0 336.4 L432.1 338.5 L434.3 339.7 L436.7 340.8 L437.3 343.3 L438.8 345.0 L440.1 346.9 L442.2 348.1 L443.4 349.9 L445.0 351.5 L445.7 353.4 L445.4 356.0 L447.3 357.8 L448.9 359.8 L450.5 362.1 L452.8 363.4 L455.4 364.3 L457.9 365.7 L458.6 368.4 L460.3 370.5 L461.5 372.8 L462.7 375.5 L463.1 378.2 L463.0 381.2 L464.9 383.8 L467.0 386.3 L467.6 388.7 L469.2 390.4 L470.4 392.1 L470.9 394.5 L469.9 396.7 L470.5 399.2 L468.3 401.6 L467.3 404.5 L468.8 406.9 L470.0 409.3 L467.9 411.7 L465.6 412.7 L463.5 412.9 L462.4 415.6 L463.8 417.7 L465.1 420.0 L466.2 422.3 L467.7 424.0 L468.9 426.0 L470.2 427.9 L471.6 429.7 L472.6 431.9 L474.3 433.3 L476.6 435.2 L479.1 436.6 L482.2 437.8 L485.4 438.6 L488.1 440.2 L491.1 441.4 L492.4 443.8 L494.4 445.5 L496.5 447.1 L497.7 449.0 L498.6 451.1 L500.7 452.2 L501.6 454.5 L504.5 455.3 L507.1 456.4 L509.6 457.9 L512.0 458.2 L514.2 459.0 L516.3 459.9 L518.4 461.0 L520.8 461.1 L523.0 462.3 L525.2 462.5 L527.5 462.7 L530.8 461.3 L534.2 464.1 L536.1 466.1 L537.5 468.2 L540.3 469.5 L542.7 471.6 L545.2 472.8 L547.4 474.3 L549.7 475.2 L551.6 476.8 L553.8 477.8 L556.1 478.3 L558.4 478.7 L560.7 479.4 L562.8 480.3 L565.0 481.4 L567.4 482.1 L569.4 484.3 L571.6 486.0 L573.7 487.0 L576.0 487.3 L578.8 487.1 L581.6 487.1 L583.6 488.7 L585.9 488.8 L589.4 488.9 L591.3 490.3 L592.6 492.2 L594.8 493.7 L597.0 495.1 L599.8 495.3 L602.5 496.2 L605.0 497.1 L607.1 498.8 L609.2 500.7 L611.9 501.3 L614.7 501.2 L616.9 501.2 L619.1 501.5 L621.9 502.4 L624.6 503.8 L626.0 503.7 L626.0 501.5 L625.9 499.3 L625.9 497.1 L625.8 494.9 L625.8 492.7 L625.7 490.5 L625.7 488.2 L625.6 486.0 L625.6 483.8 L625.6 481.6 L625.5 479.4 L625.5 477.2 L625.4 475.0 L625.4 472.8 L625.3 470.6 L625.3 468.4 L625.2 466.2 L625.2 464.0 L625.2 461.8 L625.1 459.5 L625.1 457.3 L625.0 455.1 L625.0 452.9 L624.9 450.7 L624.9 448.5 L624.8 446.3 L624.8 444.1 L624.8 441.9 L624.7 439.7 L624.7 437.5 L624.6 435.3 L624.6 433.0 L624.5 430.8 L624.5 428.6 L624.4 426.4 L624.4 424.2 L624.4 422.0 L624.3 419.8 L624.3 417.6 L624.2 415.4 L624.2 413.2 L621.8 410.4 L620.8 408.2 L620.0 406.0 L619.2 403.7 L617.8 401.7 L616.7 399.5 L616.2 397.0 L614.3 395.1 L613.7 392.7 L612.8 390.5 L611.3 388.5 L611.2 386.0 L610.4 383.8 L609.5 381.5 L609.0 379.1 L608.5 376.8 L607.8 374.5 L608.2 372.3 L608.2 370.1 L608.6 367.9 L608.6 365.4 L608.8 362.9 L608.6 360.4 L609.0 358.0 L608.9 355.5 L609.1 353.0 L608.7 350.5 L608.6 348.0 L608.9 345.5 L609.3 343.0 L609.4 340.5 L610.5 338.1 L610.6 335.6 L611.0 333.1 L611.3 330.6 L612.0 328.0 L612.4 325.3 L612.4 322.5 L613.8 320.1 L614.7 317.8 L615.3 315.5 L616.2 313.3 L617.2 311.1 L617.5 308.7 L619.1 306.7 L619.5 304.3 L620.2 302.1 L621.3 298.7 L621.4 296.1 L620.5 293.7 L620.7 291.1 L620.6 288.6 L619.7 286.2 L619.1 283.5 L618.6 280.9 L618.3 278.1 L617.9 275.6 L618.0 272.9 L618.4 270.2 L618.1 267.5 L618.5 264.7 L619.9 262.6 L621.7 260.7 L622.7 258.4 L624.2 256.4 L626.0 256.0 L626.0 253.8 L626.0 251.6 L626.0 249.3 L626.0 247.1 L626.0 244.9 L626.0 242.7 L626.0 240.5 L626.0 238.3 L626.0 236.0 L626.0 233.8 L626.0 231.6 L626.0 229.4 L626.0 227.2 L626.0 224.9 L626.0 222.7 L626.0 220.5 L626.0 218.3 L626.0 216.1 L626.0 213.9 L626.0 211.6 L626.0 209.4 L626.0 207.2 L626.0 205.0 L626.0 202.8 L626.0 200.5 L626.0 198.3 L626.0 196.1 L626.0 193.9 L626.0 191.7 L626.0 189.5 L626.0 187.2 L626.0 185.0 L626.0 182.8 L626.0 180.6 L626.0 178.4 L626.0 176.1 L626.0 173.9 L626.0 171.7 L626.0 169.5 L626.0 167.3 L626.0 165.1 L626.0 162.8 L626.0 160.6 L626.0 158.4 L626.0 156.2 L626.0 154.0 L626.0 151.7 L626.0 149.5 L626.0 147.3 L626.0 145.1 L626.0 142.9 L626.0 140.7 L626.0 138.4 L626.0 136.2 L626.0 134.0 L623.8 134.0 L621.6 134.0 L619.4 134.0 L617.2 134.0 L615.0 134.0 L612.8 134.0 L610.6 134.0 L608.4 134.0 L606.2 134.0 L604.0 134.0 L601.8 134.0 L599.6 134.0 L597.4 134.0 L595.2 134.0 L593.0 134.0 L590.8 134.0 L588.6 134.0 L586.4 134.0 L584.2 134.0 L582.0 134.0 L579.8 134.0 L577.6 134.0 L575.3 134.0 L573.1 134.0 L570.9 134.0 L568.7 134.0 L566.5 134.0 L564.3 134.0 L562.1 134.0 L559.9 134.0 L557.7 134.0 L555.5 134.0 L553.3 134.0 L551.1 134.0 L548.9 134.0 L546.7 134.0 L544.5 134.0 L542.3 134.0 L540.1 134.0 L537.9 134.0 L535.7 134.0 L533.5 134.0 L531.3 134.0 L529.1 134.0 L526.9 134.0 L524.7 134.0 L522.5 134.0 L520.3 134.0 L518.1 134.0 L515.9 134.0 L513.7 134.0 L511.5 134.0 L509.3 134.0 L507.1 134.0 L504.9 134.0 L502.7 134.0 L500.5 134.0 L498.3 134.0 L496.1 134.0 L493.9 134.0 L491.7 134.0 L489.5 134.0 L487.3 134.0 L485.1 134.0 L482.9 134.0 L480.7 134.0 L478.4 134.0 L476.2 134.0 L474.0 134.0 L471.8 134.0 L469.6 134.0 L467.4 134.0 L465.2 134.0 L463.0 134.0 L460.8 134.0 L458.6 134.0 L456.4 134.0 L454.2 134.0 L452.0 134.0 L449.8 134.0 L447.6 134.0 L445.4 134.0 L443.2 134.0 L441.0 134.0 L438.8 134.0 L436.6 134.0 L434.4 134.0 L432.2 134.0 L430.0 134.0 L427.8 134.0 L425.6 134.0 L423.4 134.0 L421.2 134.0 L419.0 134.0 L416.8 134.0 L414.6 134.0 L412.4 134.0 L410.2 134.0 L408.0 134.0 L405.8 134.0 L403.6 134.0 L401.4 134.0 L399.2 134.0 L397.0 134.0 L394.8 134.0 L392.6 134.0 L390.4 134.0 L388.2 134.0 L386.0 134.0 L383.8 134.0 L381.6 134.0 L379.3 134.0 L377.1 134.0 L374.9 134.0 L372.7 134.0 L370.5 134.0 L368.3 134.0 L366.1 134.0 L363.9 134.0 L361.7 134.0 L359.5 134.0 L357.3 134.0 L355.1 134.0 L352.9 134.0 L350.7 134.0 L348.5 134.0 L346.3 134.0 L344.1 134.0 L341.9 134.0 L339.7 134.0 L337.5 134.0 L335.3 134.0 L333.1 134.0 L330.9 134.0 L328.7 134.0 L326.5 134.0 L324.3 134.0 L322.1 134.0 L319.9 134.0 L317.7 134.0 L315.5 134.0 L313.3 134.0 L311.1 134.0 L308.9 134.0 L306.7 134.0 L304.5 134.0 L302.3 134.0 L300.1 134.0 L297.9 134.0 L295.7 134.0 L293.5 134.0 L291.3 134.0 L289.1 134.0 L286.9 134.0 L284.7 134.0 L282.4 134.0 L280.2 134.0 L278.0 134.0 L275.8 134.0 L273.6 134.0 L271.4 134.0 L269.2 134.0 L267.0 134.0 L264.8 134.0 L262.6 134.0 L260.4 134.0 L258.2 134.0 L256.0 134.0 L253.8 134.0 L251.6 134.0 L249.4 134.0 L247.2 134.0 L245.0 134.0 L242.8 134.0 L240.6 134.0 L238.4 134.0 L236.2 134.0 L234.5 134.1 Z" fill="#d2b48c" stroke="#000" stroke-width="2.3" stroke-linejoin="round"/>
<path d="M619.5 258l-5 6 -5 3 4 5 -2 8 4 6 1 8 2 6 1-8 -1-10 -1-9 1-8zM612.5 313l-4 5 -1 8 -2 7 1 8 2-6 2-9 2-7z M609.5 379l2 9 5 9 3 6 -1-8 -4-8z" fill="#1a1a1a" stroke="#000" stroke-width="1.2" stroke-linejoin="round"/>
<path d="M304.5 262l3 4 -3 3 -3-3z" fill="#000" stroke="#000" stroke-width="2"/>
<path d="M293.8 159.0 C293.0 159.9 290.5 162.4 289.0 164.5 C287.5 166.6 284.8 169.3 284.9 171.4 C285.0 173.5 288.9 176.0 289.7 176.9" fill="none" stroke="#97b6e1" stroke-width="1.5" stroke-linejoin="round"/>
<path d="M297.3 159.0 C299.1 158.5 304.7 157.1 308.3 156.2 C312.0 155.3 315.9 154.4 319.4 153.5 C322.8 152.5 327.0 151.9 329.0 150.7 C331.1 149.6 330.9 147.6 331.8 146.6 C332.7 145.5 332.5 144.4 334.6 144.5 C336.6 144.6 340.3 146.0 344.2 147.3 C348.1 148.5 354.3 151.2 358.0 151.8 C361.7 152.4 364.0 151.2 366.3 150.7 C368.6 150.2 369.8 148.6 371.8 148.6 C373.9 148.6 376.4 149.7 378.7 150.7 C381.0 151.7 383.3 154.4 385.6 154.8 C387.9 155.3 390.7 153.3 392.5 153.5 C394.4 153.6 394.8 154.5 396.7 155.5 C398.5 156.6 401.5 159.6 403.6 159.7 C405.6 159.8 407.5 157.7 409.1 156.2 C410.7 154.7 412.0 152.5 413.2 150.7 C414.5 148.9 416.3 146.9 416.7 145.2 C417.1 143.5 415.9 141.2 415.7 140.4" fill="none" stroke="#97b6e1" stroke-width="1.5" stroke-linejoin="round"/>
<path d="M437.6 135.9 C436.9 138.4 433.5 147.1 433.0 151.2 C432.5 155.2 433.0 156.8 434.6 160.3 C436.1 163.9 440.4 169.5 442.2 172.6 C444.0 175.6 444.8 177.7 445.3 178.7" fill="none" stroke="#97b6e1" stroke-width="1.5" stroke-linejoin="round"/>
<path d="M537.0 140.5 C538.3 141.5 541.1 144.3 544.6 146.6 C548.2 148.9 554.8 153.7 558.4 154.2 C562.0 154.7 564.0 151.7 566.1 149.6 C568.1 147.6 568.6 143.8 570.6 142.0 C572.7 140.2 575.5 138.4 578.3 138.9 C581.1 139.4 584.4 142.5 587.5 145.0 C590.5 147.6 593.6 151.4 596.6 154.2 C599.7 157.0 602.8 158.8 605.8 161.9 C608.9 164.9 612.0 168.5 615.0 172.6 C617.9 176.6 622.1 184.0 623.5 186.3" fill="none" stroke="#97b6e1" stroke-width="1.5" stroke-linejoin="round"/>
<path d="M467.3 388.0 C468.0 387.7 469.8 386.7 471.4 386.6 C473.0 386.5 475.4 387.4 476.9 387.3 C478.4 387.2 479.2 385.1 480.4 385.9 C481.5 386.7 482.6 390.2 483.8 392.1 C485.1 394.1 486.4 396.5 488.0 397.6 C489.6 398.8 491.9 398.2 493.5 399.0 C495.1 399.8 496.0 402.1 497.6 402.5 C499.2 402.8 501.7 400.3 503.2 401.1 C504.6 401.9 505.5 405.3 506.6 407.3 C507.8 409.3 508.6 411.7 510.1 412.8 C511.6 414.0 514.5 413.3 515.6 414.2 C516.6 415.1 517.9 417.8 516.3 418.3 C514.7 418.8 507.6 417.4 505.9 417.2" fill="none" stroke="#97b6e1" stroke-width="1.5" stroke-linejoin="round"/>
<path d="M561.1 380.4 C562.3 381.1 566.0 383.0 568.0 384.5 C570.1 386.0 571.2 388.7 573.5 389.4 C575.8 390.0 579.1 389.6 581.8 388.7 C584.6 387.7 587.1 385.0 590.1 383.8 C593.1 382.7 596.7 382.8 599.8 381.8 C602.9 380.7 607.2 378.3 608.7 377.6" fill="none" stroke="#97b6e1" stroke-width="1.5" stroke-linejoin="round"/>
<path d="M449.8 183.3 C451.9 185.1 458.0 190.7 462.1 194.0 C466.2 197.3 471.5 200.1 474.3 203.1 C477.1 206.2 477.4 209.0 478.9 212.3 C480.4 215.6 480.7 219.7 483.5 223.0 C486.3 226.3 491.4 229.6 495.7 232.2 C500.1 234.9 506.4 239.4 509.5 238.9 C512.5 238.4 512.5 231.8 514.1 229.1 C515.6 226.5 516.6 224.4 518.7 223.0 C520.7 221.7 522.5 221.0 526.3 220.9 C530.1 220.7 537.5 220.5 541.6 222.1 C545.7 223.7 547.7 226.7 550.8 230.7 C553.8 234.6 556.9 241.1 559.9 246.0 C563.0 250.8 566.3 255.9 569.1 259.7 C571.9 263.5 575.2 265.6 576.8 268.9 C578.3 272.2 577.0 276.0 578.3 279.6 C579.6 283.2 580.8 287.2 584.4 290.3 C588.0 293.4 595.3 296.1 599.7 298.0 C604.1 299.8 607.4 300.5 610.9 301.3 C614.3 302.0 619.0 302.3 620.6 302.5" fill="none" stroke="#97b6e1" stroke-width="1.5" stroke-linejoin="round"/>
<path d="M269.5 142.5L275.5 148" stroke="#a9a9a9" stroke-width="3" stroke-linecap="round"/>
<path d="M297.3 137.2 L295.2 142.4 L294.5 146.6 L296.6 150.0 L298.7 153.5 L298.0 156.9 L293.8 159.0" fill="none" stroke="#000" stroke-width="1.4"/>
<path d="M399.4 137.0 L399.4 188.8" fill="none" stroke="#000" stroke-width="1.4"/>
<path d="M511.0 137.0 L511.0 174.1 L443.7 174.1" fill="none" stroke="#000" stroke-width="1.4"/>
<path d="M248.3 162.7 L293.2 158.3" fill="none" stroke="#000" stroke-width="1.7" stroke-dasharray="5.4 2.3"/>
<path d="M291.8 163.8 L363.5 189.4 L414.7 188.8 L414.7 179.6 L443.7 178.7 L449.8 183.3 L462.1 194.0 L474.3 203.1 L478.9 212.3 L483.5 223.0 L495.7 232.2 L509.5 238.9 L514.1 229.1 L518.7 223.0 L526.3 220.9 L541.6 222.1 L550.8 230.7 L559.9 246.0 L569.1 259.7 L576.8 268.9 L578.3 279.6 L584.4 290.3 L599.7 298.0 L610.9 301.3 L620.6 302.5" fill="none" stroke="#000" stroke-width="1.7" stroke-dasharray="5.4 2.3"/>
<ellipse cx="226.9" cy="238.5" rx="1.6" ry="4" fill="#000" transform="rotate(-8 226.9 238.5)"/>
<ellipse cx="283.8" cy="255.8" rx="1.9" ry="3.3" fill="#111" stroke="#000" stroke-width="0.8" transform="rotate(-15 283.8 255.8)"/>
<circle cx="277.3" cy="253.2" r="1.2" fill="#000"/>
<circle cx="284.8" cy="263" r="1" fill="#000"/>
<ellipse cx="204.9" cy="147" rx="2.2" ry="1.4" fill="#000" transform="rotate(25 204.9 147)"/>
<circle cx="213.3" cy="142.2" r="1.2" fill="#111"/>
<ellipse cx="223.4" cy="142.9" rx="2.4" ry="1.3" fill="#000" transform="rotate(30 223.4 142.9)"/>
<ellipse cx="224.5" cy="155.8" rx="2" ry="1.2" fill="#000"/>
<ellipse cx="318.6" cy="232.8" rx="2.0" ry="6.6" fill="none" stroke="#000" stroke-width="1.5" transform="rotate(-28 318.6 232.8)"/>
<ellipse cx="337.6" cy="239.8" rx="2.3" ry="4.8" fill="#d2b48c" stroke="#000" stroke-width="1.7" transform="rotate(8 337.6 239.8)"/>
<path d="M316 243l4 5M322 250l6 6M333.5 244.5l-1.5 2M346 273l1 1M360.5 300l2.5 4M364 307l1.5 2.5M367.5 316l1 2M370 322l1 1.5M374.5 332l1.5 3M383 337l1.5 3" stroke="#000" stroke-width="1.8" stroke-linecap="round" fill="none"/>
<path d="M443.5 387.8l1.5 1.6M446.5 391.3l1.6 1.6M450.6 395.3l1 1" stroke="#000" stroke-width="2.4" stroke-linecap="round"/>
<circle cx="458" cy="384.8" r="1" fill="#000"/>
<circle cx="363" cy="445.6" r="2.3" fill="#000"/>
<circle cx="366.6" cy="435.5" r="1.0" fill="#000"/>
<ellipse cx="293.5" cy="453.9" rx="1.6" ry="1.1" fill="#000"/>
<circle cx="396.3" cy="608" r="0.9" fill="#000"/>
<path d="M185 147.8L192.4 159.2M211.3 154.4L225.4 147" stroke="#fff" stroke-width="4.2" fill="none"/>
<path d="M166.3 128.2 L174.3 144.2 L158.3 144.2 Z" fill="#2ca02c" stroke="#000" stroke-width="1.5" stroke-linejoin="miter"/>
<path d="M194.8 155.2 L202.8 171.2 L186.8 171.2 Z" fill="#8c564b" stroke="#000" stroke-width="1.5" stroke-linejoin="miter"/>
<path d="M236.3 138.5 L244.3 154.5 L228.3 154.5 Z" fill="#d62728" stroke="#000" stroke-width="1.5" stroke-linejoin="miter"/>
<path d="M231.6 137.5 L239.6 153.5 L223.6 153.5 Z" fill="#9467bd" stroke="#000" stroke-width="1.5" stroke-linejoin="miter"/>
<path d="M595.2 529.3 L603.2 545.3 L587.2 545.3 Z" fill="#ff7f0e" stroke="#000" stroke-width="1.5" stroke-linejoin="miter"/>
<circle cx="343.0" cy="621.0" r="6.0" fill="#1f77b4" stroke="#000" stroke-width="1.4"/>
<path d="M375.0 589.8 L380.4 592.9 L380.4 599.1 L375.0 602.2 L369.6 599.1 L369.6 592.9 Z" fill="#3f8fce" stroke="#000" stroke-width="1.4" stroke-linejoin="miter"/>
<circle cx="462.0" cy="484.0" r="6.0" fill="#94c8f0" stroke="#000" stroke-width="1.4"/>
<path d="M230.0 282.8 L235.4 285.9 L235.4 292.1 L230.0 295.2 L224.6 292.1 L224.6 285.9 Z" fill="#c5e6fa" stroke="#000" stroke-width="1.4" stroke-linejoin="miter"/>
<path d="M192.0 462.7 L198.0 467.1 L195.7 474.1 L188.3 474.1 L186.0 467.1 Z" fill="#ff7f0e" stroke="#000" stroke-width="1.4" stroke-linejoin="miter"/>
<circle cx="190.0" cy="243.0" r="6.0" fill="#ff9a3a" stroke="#000" stroke-width="1.4"/>
<path d="M154.0 353.8 L159.4 356.9 L159.4 363.1 L154.0 366.2 L148.6 363.1 L148.6 356.9 Z" fill="#ffb469" stroke="#000" stroke-width="1.4" stroke-linejoin="miter"/>
<path d="M107.0 341.7 L113.0 346.1 L110.7 353.1 L103.3 353.1 L101.0 346.1 Z" fill="#ffcc99" stroke="#000" stroke-width="1.4" stroke-linejoin="miter"/>
<circle cx="193.0" cy="498.0" r="6.0" fill="#ffe0c4" stroke="#000" stroke-width="1.4"/>
<path d="M97.0 281.7 L103.0 286.1 L100.7 293.1 L93.3 293.1 L91.0 286.1 Z" fill="#47b547" stroke="#000" stroke-width="1.4" stroke-linejoin="miter"/>
<circle cx="250.0" cy="610.0" r="6.0" fill="#68cd68" stroke="#000" stroke-width="1.4"/>
<path d="M539.0 581.8 L544.4 584.9 L544.4 591.1 L539.0 594.2 L533.6 591.1 L533.6 584.9 Z" fill="#90e690" stroke="#000" stroke-width="1.4" stroke-linejoin="miter"/>
<path d="M160.0 618.7 L166.0 623.1 L163.7 630.1 L156.3 630.1 L154.0 623.1 Z" fill="#bdffbd" stroke="#000" stroke-width="1.4" stroke-linejoin="miter"/>
<circle cx="410.0" cy="638.0" r="6.0" fill="#d62728" stroke="#000" stroke-width="1.4"/>
<path d="M502.0 485.8 L507.4 488.9 L507.4 495.1 L502.0 498.2 L496.6 495.1 L496.6 488.9 Z" fill="#e0494a" stroke="#000" stroke-width="1.4" stroke-linejoin="miter"/>
<path d="M555.0 618.7 L561.0 623.1 L558.7 630.1 L551.3 630.1 L549.0 623.1 Z" fill="#ea6c6d" stroke="#000" stroke-width="1.4" stroke-linejoin="miter"/>
<circle cx="177.0" cy="614.0" r="6.0" fill="#f49494" stroke="#000" stroke-width="1.4"/>
<path d="M518.0 554.8 L523.4 557.9 L523.4 564.1 L518.0 567.2 L512.6 564.1 L512.6 557.9 Z" fill="#ffbcbc" stroke="#000" stroke-width="1.4" stroke-linejoin="miter"/>
<path d="M89.0 635.7 L95.0 640.1 L92.7 647.1 L85.3 647.1 L83.0 640.1 Z" fill="#9467bd" stroke="#000" stroke-width="1.4" stroke-linejoin="miter"/>
<circle cx="546.0" cy="503.0" r="6.0" fill="#a67fd1" stroke="#000" stroke-width="1.4"/>
<path d="M261.0 393.8 L266.4 396.9 L266.4 403.1 L261.0 406.2 L255.6 403.1 L255.6 396.9 Z" fill="#b998e3" stroke="#000" stroke-width="1.4" stroke-linejoin="miter"/>
<path d="M277.0 345.7 L283.0 350.1 L280.7 357.1 L273.3 357.1 L271.0 350.1 Z" fill="#cdb2f4" stroke="#000" stroke-width="1.4" stroke-linejoin="miter"/>
<circle cx="435.0" cy="560.0" r="6.0" fill="#e2cbff" stroke="#000" stroke-width="1.4"/>
</g>
</g>
<rect x="84.8" y="137.3" width="538.7" height="513.8" fill="none" stroke="#000" stroke-width="1.1"/>
<path d="M84.8 137.3v-9M84.8 651.1v9" stroke="#000" stroke-width="2.8"/>
<path d="M103.4 137.3v-3.6M103.4 651.1v3.6" stroke="#000" stroke-width="1.4"/>
<path d="M122.0 137.3v-3.6M122.0 651.1v3.6" stroke="#000" stroke-width="1.4"/>
<path d="M140.5 137.3v-9M140.5 651.1v9" stroke="#000" stroke-width="2.8"/>
<path d="M159.1 137.3v-3.6M159.1 651.1v3.6" stroke="#000" stroke-width="1.4"/>
<path d="M177.7 137.3v-3.6M177.7 651.1v3.6" stroke="#000" stroke-width="1.4"/>
<path d="M196.3 137.3v-9M196.3 651.1v9" stroke="#000" stroke-width="2.8"/>
<path d="M214.8 137.3v-3.6M214.8 651.1v3.6" stroke="#000" stroke-width="1.4"/>
<path d="M233.4 137.3v-3.6M233.4 651.1v3.6" stroke="#000" stroke-width="1.4"/>
<path d="M252.0 137.3v-9M252.0 651.1v9" stroke="#000" stroke-width="2.8"/>
<path d="M270.6 137.3v-3.6M270.6 651.1v3.6" stroke="#000" stroke-width="1.4"/>
<path d="M289.1 137.3v-3.6M289.1 651.1v3.6" stroke="#000" stroke-width="1.4"/>
<path d="M307.7 137.3v-9M307.7 651.1v9" stroke="#000" stroke-width="2.8"/>
<path d="M326.3 137.3v-3.6M326.3 651.1v3.6" stroke="#000" stroke-width="1.4"/>
<path d="M344.9 137.3v-3.6M344.9 651.1v3.6" stroke="#000" stroke-width="1.4"/>
<path d="M363.4 137.3v-9M363.4 651.1v9" stroke="#000" stroke-width="2.8"/>
<path d="M382.0 137.3v-3.6M382.0 651.1v3.6" stroke="#000" stroke-width="1.4"/>
<path d="M400.6 137.3v-3.6M400.6 651.1v3.6" stroke="#000" stroke-width="1.4"/>
<path d="M419.2 137.3v-9M419.2 651.1v9" stroke="#000" stroke-width="2.8"/>
<path d="M437.7 137.3v-3.6M437.7 651.1v3.6" stroke="#000" stroke-width="1.4"/>
<path d="M456.3 137.3v-3.6M456.3 651.1v3.6" stroke="#000" stroke-width="1.4"/>
<path d="M474.9 137.3v-9M474.9 651.1v9" stroke="#000" stroke-width="2.8"/>
<path d="M493.5 137.3v-3.6M493.5 651.1v3.6" stroke="#000" stroke-width="1.4"/>
<path d="M512.0 137.3v-3.6M512.0 651.1v3.6" stroke="#000" stroke-width="1.4"/>
<path d="M530.6 137.3v-9M530.6 651.1v9" stroke="#000" stroke-width="2.8"/>
<path d="M549.2 137.3v-3.6M549.2 651.1v3.6" stroke="#000" stroke-width="1.4"/>
<path d="M567.8 137.3v-3.6M567.8 651.1v3.6" stroke="#000" stroke-width="1.4"/>
<path d="M586.4 137.3v-9M586.4 651.1v9" stroke="#000" stroke-width="2.8"/>
<path d="M604.9 137.3v-3.6M604.9 651.1v3.6" stroke="#000" stroke-width="1.4"/>
<path d="M623.5 137.3v-3.6M623.5 651.1v3.6" stroke="#000" stroke-width="1.4"/>
<path d="M84.8 652.1h-3.6M623.5 652.1h3.6" stroke="#000" stroke-width="1.4"/>
<path d="M84.8 633.4h-9M623.5 633.4h9" stroke="#000" stroke-width="2.8"/>
<path d="M84.8 614.6h-3.6M623.5 614.6h3.6" stroke="#000" stroke-width="1.4"/>
<path d="M84.8 595.8h-3.6M623.5 595.8h3.6" stroke="#000" stroke-width="1.4"/>
<path d="M84.8 577.0h-9M623.5 577.0h9" stroke="#000" stroke-width="2.8"/>
<path d="M84.8 558.0h-3.6M623.5 558.0h3.6" stroke="#000" stroke-width="1.4"/>
<path d="M84.8 539.0h-3.6M623.5 539.0h3.6" stroke="#000" stroke-width="1.4"/>
<path d="M84.8 519.9h-9M623.5 519.9h9" stroke="#000" stroke-width="2.8"/>
<path d="M84.8 500.7h-3.6M623.5 500.7h3.6" stroke="#000" stroke-width="1.4"/>
<path d="M84.8 481.4h-3.6M623.5 481.4h3.6" stroke="#000" stroke-width="1.4"/>
<path d="M84.8 462.0h-9M623.5 462.0h9" stroke="#000" stroke-width="2.8"/>
<path d="M84.8 442.5h-3.6M623.5 442.5h3.6" stroke="#000" stroke-width="1.4"/>
<path d="M84.8 422.9h-3.6M623.5 422.9h3.6" stroke="#000" stroke-width="1.4"/>
<path d="M84.8 403.2h-9M623.5 403.2h9" stroke="#000" stroke-width="2.8"/>
<path d="M84.8 383.3h-3.6M623.5 383.3h3.6" stroke="#000" stroke-width="1.4"/>
<path d="M84.8 363.3h-3.6M623.5 363.3h3.6" stroke="#000" stroke-width="1.4"/>
<path d="M84.8 343.1h-9M623.5 343.1h9" stroke="#000" stroke-width="2.8"/>
<path d="M84.8 322.8h-3.6M623.5 322.8h3.6" stroke="#000" stroke-width="1.4"/>
<path d="M84.8 302.3h-3.6M623.5 302.3h3.6" stroke="#000" stroke-width="1.4"/>
<path d="M84.8 281.6h-9M623.5 281.6h9" stroke="#000" stroke-width="2.8"/>
<path d="M84.8 260.8h-3.6M623.5 260.8h3.6" stroke="#000" stroke-width="1.4"/>
<path d="M84.8 239.7h-3.6M623.5 239.7h3.6" stroke="#000" stroke-width="1.4"/>
<path d="M84.8 218.5h-9M623.5 218.5h9" stroke="#000" stroke-width="2.8"/>
<path d="M84.8 197.0h-3.6M623.5 197.0h3.6" stroke="#000" stroke-width="1.4"/>
<path d="M84.8 175.3h-3.6M623.5 175.3h3.6" stroke="#000" stroke-width="1.4"/>
<path d="M84.8 153.4h-9M623.5 153.4h9" stroke="#000" stroke-width="2.8"/>
<text x="70.4" y="641.9" text-anchor="end" class="tk" textLength="43.3" lengthAdjust="spacingAndGlyphs">9°N</text>
<text x="70.4" y="585.5" text-anchor="end" class="tk" textLength="57.0" lengthAdjust="spacingAndGlyphs">12°N</text>
<text x="70.4" y="528.4" text-anchor="end" class="tk" textLength="57.0" lengthAdjust="spacingAndGlyphs">15°N</text>
<text x="70.4" y="470.5" text-anchor="end" class="tk" textLength="57.0" lengthAdjust="spacingAndGlyphs">18°N</text>
<text x="70.4" y="411.7" text-anchor="end" class="tk" textLength="57.0" lengthAdjust="spacingAndGlyphs">21°N</text>
<text x="70.4" y="351.6" text-anchor="end" class="tk" textLength="57.0" lengthAdjust="spacingAndGlyphs">24°N</text>
<text x="70.4" y="290.1" text-anchor="end" class="tk" textLength="57.0" lengthAdjust="spacingAndGlyphs">27°N</text>
<text x="70.4" y="227.0" text-anchor="end" class="tk" textLength="57.0" lengthAdjust="spacingAndGlyphs">30°N</text>
<text x="70.4" y="161.9" text-anchor="end" class="tk" textLength="57.0" lengthAdjust="spacingAndGlyphs">33°N</text>
<text transform="translate(83.3 701.5) rotate(-45)" x="0" y="8.4" text-anchor="middle" class="tk" textLength="77.0" lengthAdjust="spacingAndGlyphs">126°W</text>
<text transform="translate(139.0 701.5) rotate(-45)" x="0" y="8.4" text-anchor="middle" class="tk" textLength="77.0" lengthAdjust="spacingAndGlyphs">123°W</text>
<text transform="translate(194.8 701.5) rotate(-45)" x="0" y="8.4" text-anchor="middle" class="tk" textLength="77.0" lengthAdjust="spacingAndGlyphs">120°W</text>
<text transform="translate(250.5 701.5) rotate(-45)" x="0" y="8.4" text-anchor="middle" class="tk" textLength="77.0" lengthAdjust="spacingAndGlyphs">117°W</text>
<text transform="translate(306.2 701.5) rotate(-45)" x="0" y="8.4" text-anchor="middle" class="tk" textLength="77.0" lengthAdjust="spacingAndGlyphs">114°W</text>
<text transform="translate(361.9 701.5) rotate(-45)" x="0" y="8.4" text-anchor="middle" class="tk" textLength="77.0" lengthAdjust="spacingAndGlyphs">111°W</text>
<text transform="translate(417.7 701.5) rotate(-45)" x="0" y="8.4" text-anchor="middle" class="tk" textLength="77.0" lengthAdjust="spacingAndGlyphs">108°W</text>
<text transform="translate(473.4 701.5) rotate(-45)" x="0" y="8.4" text-anchor="middle" class="tk" textLength="77.0" lengthAdjust="spacingAndGlyphs">105°W</text>
<text transform="translate(529.1 701.5) rotate(-45)" x="0" y="8.4" text-anchor="middle" class="tk" textLength="77.0" lengthAdjust="spacingAndGlyphs">102°W</text>
<text transform="translate(589.4 696.5) rotate(-45)" x="0" y="8.4" text-anchor="middle" class="tk" textLength="63.3" lengthAdjust="spacingAndGlyphs">99°W</text>
<g clip-path="url(#clip1)">
<rect x="844.8" y="137.3" width="538.7" height="513.8" fill="#f99243"/>
<path d="M830.0 324.0 C831.9 358.0 837.8 323.4 841.5 324.3 C845.1 325.2 848.7 327.3 851.6 329.4 C854.6 331.5 856.5 334.5 859.3 337.0 C862.0 339.6 868.7 343.1 868.2 344.7 C867.6 346.2 857.2 344.8 855.8 346.3 C854.5 347.8 858.5 351.4 860.3 353.7 C862.0 355.9 864.0 357.6 866.2 359.6 C868.4 361.6 871.1 363.8 873.6 365.5 C876.1 367.2 878.5 369.0 881.0 369.9 C883.4 370.9 886.2 370.9 888.4 371.4 C890.6 371.9 892.3 372.2 894.3 372.9 C896.3 373.6 898.2 374.9 900.2 375.9 C902.2 376.8 904.4 377.6 906.1 378.8 C907.9 380.0 909.1 381.5 910.6 383.3 C912.0 385.0 913.8 387.2 915.0 389.2 C916.2 391.1 917.0 394.6 918.0 395.1 C919.0 395.6 919.4 392.4 920.9 392.1 C922.4 391.9 925.1 392.4 926.8 393.6 C928.6 394.8 929.8 397.6 931.3 399.5 C932.8 401.5 934.2 403.7 935.7 405.4 C937.2 407.2 938.4 408.2 940.2 409.9 C941.9 411.6 944.3 413.8 946.1 415.8 C947.8 417.8 949.3 419.7 950.5 421.7 C951.7 423.7 952.2 425.7 953.5 427.6 C954.7 429.6 956.4 433.3 957.9 433.6 C959.4 433.8 961.9 430.8 962.3 429.1 C962.8 427.4 960.4 423.9 960.9 423.2 C961.4 422.5 963.8 423.2 965.3 424.7 C966.8 426.2 968.3 431.1 969.7 432.1 C971.2 433.1 972.9 431.8 974.2 430.6 C975.4 429.4 977.1 426.6 977.1 424.7 C977.1 422.7 975.4 420.7 974.2 418.8 C972.9 416.8 970.5 414.8 969.7 412.8 C969.0 410.9 968.5 408.2 969.7 406.9 C971.0 405.7 974.7 405.4 977.1 405.4 C979.6 405.4 982.1 406.2 984.5 406.9 C987.0 407.7 989.5 408.9 991.9 409.9 C994.4 410.9 996.9 412.1 999.3 412.8 C1001.8 413.6 1004.3 414.6 1006.7 414.3 C1009.2 414.1 1012.1 412.3 1014.1 411.4 C1016.1 410.4 1016.6 409.1 1018.6 408.4 C1020.5 407.7 1024.0 406.2 1026.0 406.9 C1027.9 407.7 1029.9 410.9 1030.4 412.8 C1030.9 414.8 1028.7 417.0 1028.9 418.8 C1029.2 420.5 1030.6 423.2 1031.9 423.2 C1033.1 423.2 1034.3 419.5 1036.3 418.8 C1038.3 418.0 1041.3 418.2 1044.0 418.8 C1046.7 419.3 1049.1 420.2 1052.7 422.0 C1056.2 423.8 1061.1 427.1 1065.4 429.6 C1069.6 432.2 1074.3 434.7 1078.1 437.3 C1081.9 439.8 1084.9 444.5 1088.3 444.9 C1091.7 445.3 1095.1 442.3 1098.5 439.8 C1101.8 437.3 1106.0 432.2 1108.6 429.6 C1111.2 427.1 1111.4 426.2 1114.0 424.5 C1116.6 422.8 1120.8 422.0 1124.2 419.4 C1127.6 416.9 1133.5 412.7 1134.4 409.3 C1135.2 405.9 1131.4 403.0 1129.3 399.1 C1127.1 395.1 1123.9 389.3 1121.6 385.5 C1119.3 381.7 1117.7 378.8 1115.4 376.2 C1113.1 373.6 1110.5 372.0 1107.6 370.0 C1104.8 367.9 1101.6 365.3 1098.3 363.7 C1094.9 362.2 1090.5 361.6 1087.4 360.6 C1084.2 359.6 1081.9 359.1 1079.6 357.5 C1077.2 355.9 1073.3 353.3 1073.3 351.3 C1073.3 349.2 1077.8 347.4 1079.6 345.0 C1081.4 342.7 1082.4 339.1 1084.2 337.2 C1086.1 335.4 1088.4 334.4 1090.5 334.1 C1092.6 333.9 1095.3 336.5 1096.7 335.7 C1098.1 334.9 1096.7 333.1 1099.0 329.5 C1101.4 325.8 1110.6 335.5 1110.7 313.9 C1110.9 292.3 1101.8 232.3 1100.0 200.0 C1098.2 167.7 1145.0 133.3 1100.0 120.0 C1055.0 106.7 875.0 86.0 830.0 120.0 C785.0 154.0 828.1 290.0 830.0 324.0 Z" fill="#e5745f"/>
<path d="M841.5 577.2 C845.1 562.1 848.7 573.0 851.6 569.6 C854.6 566.2 857.4 561.1 859.3 556.8 C861.2 552.6 862.0 548.4 863.1 544.1 C864.1 539.9 864.6 536.1 865.6 531.4 C866.7 526.7 867.1 520.4 869.4 516.1 C871.8 511.9 875.8 508.1 879.6 506.0 C883.4 503.8 888.5 502.6 892.3 503.4 C896.2 504.3 899.6 508.5 902.5 511.0 C905.5 513.6 907.2 518.3 910.2 518.7 C913.1 519.1 916.9 514.0 920.3 513.6 C923.7 513.2 927.1 514.4 930.5 516.1 C933.9 517.8 936.9 521.2 940.7 523.8 C944.5 526.3 949.2 529.3 953.4 531.4 C957.7 533.5 962.3 536.5 966.1 536.5 C970.0 536.5 973.8 531.0 976.3 531.4 C978.9 531.8 981.0 535.6 981.4 539.0 C981.8 542.4 978.4 547.1 978.9 551.8 C979.3 556.4 981.8 565.8 983.9 567.0 C986.1 568.3 990.7 562.8 991.6 559.4 C992.4 556.0 988.6 550.5 989.0 546.7 C989.5 542.9 991.2 539.5 994.1 536.5 C997.1 533.5 1002.6 531.0 1006.8 528.9 C1011.1 526.7 1015.8 525.0 1019.6 523.8 C1023.4 522.5 1027.2 520.0 1029.8 521.2 C1032.3 522.5 1035.3 528.0 1034.8 531.4 C1034.4 534.8 1028.9 538.2 1027.2 541.6 C1025.5 545.0 1023.8 549.2 1024.7 551.8 C1025.5 554.3 1028.9 556.8 1032.3 556.8 C1035.7 556.8 1040.8 553.5 1045.0 551.8 C1049.3 550.1 1053.1 547.9 1057.7 546.7 C1062.4 545.4 1068.3 545.4 1073.0 544.1 C1077.7 542.9 1081.5 539.5 1085.7 539.0 C1090.0 538.6 1094.6 540.3 1098.5 541.6 C1102.3 542.9 1106.0 545.0 1108.6 546.7 C1111.2 548.4 1111.4 552.2 1114.0 551.8 C1116.6 551.3 1120.4 546.2 1124.2 544.1 C1128.0 542.0 1132.7 539.0 1136.9 539.0 C1141.1 539.0 1145.4 542.0 1149.6 544.1 C1153.9 546.2 1159.0 551.3 1162.3 551.8 C1165.7 552.2 1167.4 546.2 1170.0 546.7 C1172.5 547.1 1174.2 552.6 1177.6 554.3 C1181.0 556.0 1186.1 554.7 1190.3 556.8 C1194.6 559.0 1198.8 564.5 1203.1 567.0 C1207.3 569.6 1211.5 571.7 1215.8 572.1 C1220.0 572.5 1224.3 568.7 1228.5 569.6 C1232.7 570.4 1237.0 575.1 1241.2 577.2 C1245.5 579.3 1249.7 580.6 1253.9 582.3 C1258.2 584.0 1262.4 585.3 1266.7 587.4 C1270.9 589.5 1275.2 593.3 1279.4 595.0 C1283.6 596.7 1288.3 595.9 1292.1 597.6 C1295.9 599.3 1299.8 602.2 1302.3 605.2 C1304.8 608.2 1304.8 612.4 1307.4 615.4 C1309.9 618.3 1313.7 620.5 1317.6 623.0 C1321.4 625.6 1327.3 628.1 1330.3 630.6 C1333.3 633.2 1335.4 635.3 1335.4 638.3 C1335.4 641.2 1332.0 645.1 1330.3 648.5 C1328.6 651.8 1408.6 656.7 1325.2 658.6 C1241.8 660.6 910.6 673.6 830.0 660.0 C749.4 646.4 837.8 592.3 841.5 577.2 Z" fill="#e5745f"/>
<path d="M830.0 190.0 C831.9 201.8 838.3 190.0 841.5 190.7 C844.6 191.5 847.0 192.2 849.1 194.5 C851.2 196.9 852.9 200.9 854.2 204.7 C855.5 208.5 856.3 212.8 856.7 217.4 C857.1 222.1 857.1 228.5 856.7 232.7 C856.3 236.9 855.5 240.1 854.2 242.9 C852.9 245.6 851.2 247.7 849.1 249.2 C847.0 250.7 842.7 250.3 841.5 251.8 C840.2 253.3 839.3 256.7 841.5 258.1 C843.6 259.6 850.1 259.4 854.2 260.7 C858.2 262.0 862.0 263.7 865.6 265.8 C869.2 267.9 873.1 270.0 875.8 273.4 C878.6 276.8 880.3 281.9 882.2 286.1 C884.1 290.4 885.1 294.6 887.3 298.8 C889.4 303.1 892.3 307.8 894.9 311.6 C897.4 315.4 901.9 317.9 902.5 321.8 C903.2 325.6 900.4 331.5 898.7 334.5 C897.0 337.4 894.3 340.0 892.3 339.6 C890.4 339.1 889.0 334.5 887.3 331.9 C885.6 329.4 883.9 324.3 882.2 324.3 C880.5 324.3 877.5 329.0 877.1 331.9 C876.7 334.9 877.9 339.1 879.6 342.1 C881.3 345.1 884.7 347.2 887.3 349.7 C889.8 352.3 891.9 354.8 894.9 357.4 C897.9 359.9 902.1 362.0 905.1 365.0 C908.0 368.0 910.2 371.8 912.7 375.2 C915.2 378.6 917.8 382.2 920.3 385.4 C922.9 388.5 925.8 391.3 928.0 394.0 C930.1 396.7 930.1 399.1 933.1 401.6 C936.0 404.2 942.0 406.3 945.8 409.3 C949.6 412.2 953.0 419.4 956.0 419.4 C958.9 419.4 961.0 412.2 963.6 409.3 C966.1 406.3 968.3 402.5 971.2 401.6 C974.2 400.8 978.0 403.3 981.4 404.2 C984.8 405.0 988.2 406.7 991.6 406.7 C995.0 406.7 999.2 405.9 1001.8 404.2 C1004.3 402.5 1005.6 398.7 1006.8 396.5 C1008.1 394.4 1009.0 392.5 1009.4 391.5 C1009.8 390.4 1009.8 392.3 1009.4 390.5 C1009.0 388.6 1008.1 383.7 1006.8 380.3 C1005.6 376.9 1003.5 373.5 1001.8 370.1 C1000.1 366.7 996.7 363.3 996.7 359.9 C996.7 356.5 999.6 352.7 1001.8 349.7 C1003.9 346.8 1006.4 344.2 1009.4 342.1 C1012.4 340.0 1016.6 339.1 1019.6 337.0 C1022.5 334.9 1024.7 331.9 1027.2 329.4 C1029.8 326.8 1031.9 323.9 1034.8 321.8 C1037.8 319.6 1041.6 317.9 1045.0 316.7 C1048.4 315.4 1052.2 313.3 1055.2 314.1 C1058.2 315.0 1060.3 319.2 1062.8 321.8 C1065.4 324.3 1067.5 327.7 1070.5 329.4 C1073.4 331.1 1077.2 331.9 1080.6 331.9 C1084.0 331.9 1087.9 330.2 1090.8 329.4 C1093.8 328.5 1096.9 348.4 1098.5 326.8 C1100.0 305.3 1099.7 234.5 1100.0 200.0 C1100.3 165.5 1145.0 133.3 1100.0 120.0 C1055.0 106.7 875.0 108.3 830.0 120.0 C785.0 131.7 828.1 178.2 830.0 190.0 Z" fill="#c26479"/>
<path d="M830.0 188.0 C831.9 199.4 838.1 187.7 841.5 188.2 C844.8 188.6 848.0 188.8 850.4 190.7 C852.7 192.6 854.0 196.0 855.5 199.6 C856.9 203.2 858.4 208.1 859.3 212.3 C860.1 216.6 860.5 220.8 860.5 225.1 C860.5 229.3 860.3 234.4 859.3 237.8 C858.2 241.2 856.3 243.7 854.2 245.4 C852.1 247.1 848.7 247.3 846.5 248.0 C844.4 248.6 842.3 248.0 841.5 249.2 C840.6 250.5 839.8 254.3 841.5 255.6 C843.2 256.9 848.2 256.0 851.6 256.9 C855.0 257.7 858.4 259.6 861.8 260.7 C865.2 261.7 869.0 262.0 872.0 263.2 C875.0 264.5 877.3 265.8 879.6 268.3 C882.0 270.9 884.1 274.7 886.0 278.5 C887.9 282.3 889.0 287.4 891.1 291.2 C893.2 295.0 896.0 298.4 898.7 301.4 C901.5 304.4 904.9 309.0 907.6 309.0 C910.4 309.0 912.3 303.1 915.2 301.4 C918.2 299.7 922.0 298.8 925.4 298.8 C928.8 298.8 932.2 301.4 935.6 301.4 C939.0 301.4 942.4 300.1 945.8 298.8 C949.2 297.6 953.0 293.8 956.0 293.8 C958.9 293.8 961.0 296.7 963.6 298.8 C966.1 301.0 969.1 303.9 971.2 306.5 C973.3 309.0 973.8 312.8 976.3 314.1 C978.9 315.4 983.1 315.0 986.5 314.1 C989.9 313.3 993.3 311.1 996.7 309.0 C1000.1 306.9 1003.9 303.9 1006.8 301.4 C1009.8 298.8 1011.9 295.9 1014.5 293.8 C1017.0 291.6 1019.1 288.7 1022.1 288.7 C1025.1 288.7 1029.3 292.1 1032.3 293.8 C1035.3 295.5 1037.4 298.8 1039.9 298.8 C1042.5 298.8 1045.4 296.3 1047.6 293.8 C1049.7 291.2 1052.2 287.0 1052.7 283.6 C1053.1 280.2 1051.8 276.4 1050.1 273.4 C1048.4 270.4 1044.6 268.7 1042.5 265.8 C1040.4 262.8 1037.8 259.0 1037.4 255.6 C1037.0 252.2 1038.7 248.4 1039.9 245.4 C1041.2 242.4 1044.6 240.7 1045.0 237.8 C1045.4 234.8 1039.9 230.6 1042.5 227.6 C1045.0 224.6 1050.7 224.6 1060.3 220.0 C1069.9 215.4 1093.4 216.7 1100.0 200.0 C1106.6 183.3 1145.0 133.3 1100.0 120.0 C1055.0 106.7 875.0 108.7 830.0 120.0 C785.0 131.3 828.1 176.6 830.0 188.0 Z" fill="#9e5985"/>
<path d="M907.6 311.6 C910.4 310.3 916.1 314.1 920.3 314.1 C924.6 314.1 928.8 312.4 933.1 311.6 C937.3 310.7 941.5 309.9 945.8 309.0 C950.0 308.2 954.3 306.1 958.5 306.5 C962.7 306.9 967.4 309.5 971.2 311.6 C975.0 313.7 978.9 316.2 981.4 319.2 C983.9 322.2 986.5 326.0 986.5 329.4 C986.5 332.8 981.4 335.7 981.4 339.6 C981.4 343.4 984.4 348.0 986.5 352.3 C988.6 356.5 993.3 360.8 994.1 365.0 C995.0 369.2 992.9 373.5 991.6 377.7 C990.3 382.0 988.2 387.1 986.5 390.5 C984.8 393.8 989.0 396.8 981.4 398.1 C973.8 399.4 949.6 400.2 940.7 398.1 C931.8 396.0 931.8 389.6 928.0 385.4 C924.2 381.1 920.8 376.9 917.8 372.6 C914.8 368.4 912.7 364.2 910.2 359.9 C907.6 355.7 903.4 351.4 902.5 347.2 C901.7 343.0 904.9 338.7 905.1 334.5 C905.3 330.2 903.4 325.6 903.8 321.8 C904.2 317.9 904.9 312.8 907.6 311.6 Z" fill="#9e5985"/>
<path d="M920.3 319.2 C921.6 315.4 924.6 313.7 928.0 311.6 C931.4 309.5 936.5 307.8 940.7 306.5 C944.9 305.2 949.2 304.8 953.4 303.9 C957.7 303.1 963.2 301.0 966.1 301.4 C969.1 301.8 970.8 303.5 971.2 306.5 C971.7 309.5 970.0 315.4 968.7 319.2 C967.4 323.0 965.7 326.4 963.6 329.4 C961.5 332.4 958.1 334.0 956.0 337.0 C953.8 340.0 950.9 343.8 950.9 347.2 C950.9 350.6 953.8 354.4 956.0 357.4 C958.1 360.3 963.2 362.0 963.6 365.0 C964.0 368.0 960.6 371.8 958.5 375.2 C956.4 378.6 953.0 382.2 950.9 385.4 C948.7 388.5 949.6 392.6 945.8 394.0 C942.0 395.5 932.2 395.9 928.0 394.0 C923.7 392.1 922.5 386.4 920.3 382.8 C918.2 379.3 915.2 376.5 915.2 372.6 C915.2 368.8 919.1 364.2 920.3 359.9 C921.6 355.7 922.9 351.4 922.9 347.2 C922.9 343.0 920.8 339.1 920.3 334.5 C919.9 329.8 919.1 323.0 920.3 319.2 Z" fill="#7b4c90"/>
<path d="M971.2 374.4 C972.2 373.9 974.2 377.3 975.7 378.8 C977.1 380.3 978.4 381.5 980.1 383.3 C981.8 385.0 984.0 387.4 986.0 389.2 C988.0 390.9 990.0 392.1 991.9 393.6 C993.9 395.1 997.1 396.6 997.8 398.0 C998.6 399.5 997.6 401.7 996.4 402.5 C995.1 403.2 992.7 403.0 990.4 402.5 C988.2 402.0 985.3 400.8 983.1 399.5 C980.8 398.3 978.9 396.8 977.1 395.1 C975.4 393.4 973.9 391.4 972.7 389.2 C971.5 387.0 970.0 384.2 969.7 381.8 C969.5 379.3 970.2 374.9 971.2 374.4 Z" fill="#7b4c90"/>
<path d="M830.0 186.0 C832.1 196.9 839.1 184.8 842.3 185.2 C845.5 185.6 847.1 186.9 849.1 188.6 C851.1 190.3 852.8 192.8 854.2 195.4 C855.6 197.9 856.7 200.8 857.6 203.9 C858.4 207.0 858.8 210.7 859.3 214.0 C859.7 217.4 860.1 220.8 860.1 224.2 C860.1 227.6 859.1 231.0 859.3 234.4 C859.4 237.8 859.8 241.8 861.0 244.6 C862.1 247.4 864.1 249.7 866.1 251.4 C868.0 253.1 870.6 253.6 872.8 254.8 C875.1 255.9 877.4 256.5 879.6 258.2 C881.9 259.9 884.7 262.7 886.4 264.9 C888.1 267.2 888.4 270.9 889.8 271.7 C891.2 272.6 892.9 271.2 894.9 270.0 C896.9 268.9 899.4 266.4 901.7 264.9 C903.9 263.5 906.2 262.7 908.5 261.6 C910.7 260.4 913.0 259.3 915.3 258.2 C917.5 257.0 920.1 254.8 922.0 254.8 C924.0 254.8 926.0 256.5 927.1 258.2 C928.3 259.9 927.7 263.0 928.8 264.9 C930.0 266.9 931.9 268.6 933.9 270.0 C935.9 271.4 938.7 272.3 940.7 273.4 C942.7 274.6 943.8 275.4 945.8 276.8 C947.8 278.2 950.3 280.2 952.6 281.9 C954.8 283.6 957.1 286.7 959.4 287.0 C961.6 287.3 963.9 284.7 966.2 283.6 C968.4 282.5 971.2 281.6 972.9 280.2 C974.6 278.8 976.1 277.1 976.3 275.1 C976.6 273.1 974.1 270.0 974.6 268.3 C975.2 266.6 978.0 264.7 979.7 264.9 C981.4 265.2 982.8 268.1 984.8 270.0 C986.8 272.0 989.6 274.8 991.6 276.8 C993.6 278.8 994.7 280.5 996.7 281.9 C998.7 283.3 1001.8 285.6 1003.5 285.3 C1005.2 285.0 1006.9 282.5 1006.9 280.2 C1006.9 278.0 1005.2 274.3 1003.5 271.7 C1001.8 269.2 998.4 267.2 996.7 264.9 C995.0 262.7 993.3 260.4 993.3 258.2 C993.3 255.9 995.0 253.4 996.7 251.4 C998.4 249.4 1000.9 247.4 1003.5 246.3 C1006.0 245.2 1009.1 246.0 1012.0 244.6 C1014.8 243.2 1018.4 239.5 1020.5 237.8 C1022.5 236.1 1022.0 234.4 1024.0 234.4 C1026.0 234.4 1029.6 238.1 1032.3 237.8 C1034.9 237.5 1038.4 235.2 1039.9 232.7 C1041.4 230.1 1041.6 225.9 1041.2 222.5 C1040.8 219.1 1038.7 215.3 1037.4 212.3 C1036.1 209.4 1031.9 206.8 1033.6 204.7 C1035.3 202.6 1036.5 200.4 1047.6 199.6 C1058.6 198.8 1091.3 213.3 1100.0 200.0 C1108.7 186.7 1145.0 133.3 1100.0 120.0 C1055.0 106.7 875.0 109.0 830.0 120.0 C785.0 131.0 827.9 175.1 830.0 186.0 Z" fill="#7b4c90"/>
<path d="M854.2 149.6 C830.7 153.0 855.3 164.3 855.9 169.9 C856.4 175.6 856.7 179.8 857.6 183.5 C858.4 187.2 859.8 188.6 861.0 192.0 C862.1 195.4 863.7 199.9 864.4 203.9 C865.1 207.8 864.9 211.8 865.2 215.7 C865.5 219.7 865.1 225.1 866.1 227.6 C867.0 230.2 869.2 230.2 871.1 231.0 C873.1 231.9 875.4 232.3 877.9 232.7 C880.5 233.1 883.9 233.0 886.4 233.6 C889.0 234.1 891.8 234.3 893.2 236.1 C894.6 237.9 894.1 242.0 894.9 244.6 C895.7 247.1 896.9 250.0 898.3 251.4 C899.7 252.8 901.7 253.6 903.4 253.1 C905.1 252.5 907.5 250.2 908.5 248.0 C909.5 245.7 909.0 242.3 909.3 239.5 C909.6 236.7 909.2 233.0 910.2 231.0 C911.2 229.0 913.6 227.6 915.3 227.6 C917.0 227.6 918.7 229.3 920.3 231.0 C922.0 232.7 923.7 235.5 925.4 237.8 C927.1 240.1 928.8 242.3 930.5 244.6 C932.2 246.8 933.9 248.5 935.6 251.4 C937.3 254.2 939.3 258.4 940.7 261.6 C942.1 264.7 943.3 270.0 944.1 270.0 C945.0 270.0 945.2 264.4 945.8 261.6 C946.4 258.7 946.4 255.3 947.5 253.1 C948.6 250.8 950.6 249.4 952.6 248.0 C954.6 246.6 957.7 246.3 959.4 244.6 C961.1 242.9 961.4 239.8 962.8 237.8 C964.2 235.8 965.9 233.0 967.9 232.7 C969.8 232.4 972.1 235.0 974.6 236.1 C977.2 237.2 980.3 239.2 983.1 239.5 C986.0 239.8 989.1 238.2 991.6 237.8 C994.2 237.4 995.8 237.2 998.4 237.0 C1000.9 236.7 1004.3 236.8 1006.9 236.1 C1009.4 235.4 1012.3 234.1 1013.7 232.7 C1015.1 231.3 1015.9 229.0 1015.4 227.6 C1014.8 226.2 1012.3 225.4 1010.3 224.2 C1008.3 223.1 1005.7 221.7 1003.5 220.8 C1001.2 220.0 998.7 220.0 996.7 219.1 C994.7 218.3 993.0 217.2 991.6 215.7 C990.2 214.3 988.9 212.6 988.2 210.7 C987.5 208.7 987.4 206.1 987.4 203.9 C987.4 201.6 987.6 199.3 988.2 197.1 C988.8 194.8 989.9 192.6 990.8 190.3 C991.6 188.0 992.6 186.1 993.3 183.5 C994.0 181.0 994.4 177.9 995.0 175.0 C995.6 172.2 996.3 169.4 996.7 166.5 C997.1 163.7 997.5 160.9 997.5 158.1 C997.5 155.2 1020.6 151.0 996.7 149.6 C972.8 148.2 877.7 146.2 854.2 149.6 Z" fill="#573b9c"/>
<path d="M858.4 150.4 C844.7 152.3 858.1 157.9 858.4 161.4 C858.7 165.0 858.8 168.8 860.1 171.6 C861.4 174.5 863.7 177.1 866.1 178.4 C868.5 179.7 871.7 179.5 874.5 179.3 C877.4 179.0 880.2 177.6 883.0 176.7 C885.9 175.9 889.0 175.3 891.5 174.2 C894.1 173.0 896.3 171.5 898.3 169.9 C900.3 168.4 901.4 166.3 903.4 164.8 C905.4 163.4 907.6 162.3 910.2 161.4 C912.7 160.6 915.5 160.3 918.7 159.8 C921.8 159.2 925.4 158.2 928.8 158.1 C932.2 157.9 937.0 160.2 939.0 158.9 C941.0 157.6 954.1 151.8 940.7 150.4 C927.3 149.0 872.1 148.6 858.4 150.4 Z" fill="#23348c"/>
<path d="M943.3 192.0 C943.0 189.7 944.8 187.5 945.8 185.2 C946.8 182.9 948.1 180.4 949.2 178.4 C950.3 176.4 950.9 174.7 952.6 173.3 C954.3 171.9 957.1 170.8 959.4 169.9 C961.6 169.1 963.9 168.9 966.2 168.2 C968.4 167.5 970.7 166.3 972.9 165.7 C975.2 165.1 977.5 164.6 979.7 164.8 C982.0 165.1 984.8 166.0 986.5 167.4 C988.2 168.8 989.2 171.2 989.9 173.3 C990.6 175.4 991.0 177.9 990.8 180.1 C990.5 182.4 989.2 184.6 988.2 186.9 C987.2 189.2 986.5 192.0 984.8 193.7 C983.1 195.4 980.3 196.1 978.0 197.1 C975.8 198.1 973.8 198.9 971.2 199.6 C968.7 200.3 965.6 200.9 962.8 201.3 C959.9 201.7 956.8 202.6 954.3 202.2 C951.7 201.7 949.3 200.5 947.5 198.8 C945.7 197.1 943.5 194.3 943.3 192.0 Z" fill="#23348c"/>
<path d="M872.0 212.3 C871.7 210.4 872.4 208.7 873.7 207.3 C875.0 205.8 877.2 204.9 879.6 203.9 C882.0 202.9 885.3 202.5 888.1 201.3 C890.9 200.2 894.1 198.5 896.6 197.1 C899.1 195.7 901.1 194.0 903.4 192.8 C905.6 191.7 907.9 190.9 910.2 190.3 C912.4 189.7 914.7 189.2 917.0 189.4 C919.2 189.7 921.8 190.7 923.7 192.0 C925.7 193.3 927.1 195.1 928.8 197.1 C930.5 199.1 932.4 201.5 933.9 203.9 C935.5 206.3 938.2 210.9 938.2 211.5 C938.2 212.1 935.5 208.5 933.9 207.3 C932.4 206.0 930.5 203.9 928.8 203.9 C927.1 203.9 925.7 206.1 923.7 207.3 C921.8 208.4 919.2 209.7 917.0 210.7 C914.7 211.6 912.4 212.2 910.2 213.2 C907.9 214.2 905.6 215.5 903.4 216.6 C901.1 217.7 898.9 219.0 896.6 220.0 C894.3 221.0 892.4 222.1 889.8 222.5 C887.3 223.0 883.7 223.1 881.3 222.5 C878.9 222.0 876.9 220.8 875.4 219.1 C873.8 217.4 872.3 214.3 872.0 212.3 Z" fill="#23348c"/>
<path d="M875.4 150.4 C878.6 148.6 889.1 149.7 893.2 150.4 C897.3 151.1 899.4 153.4 900.0 154.7 C900.6 155.9 898.3 157.2 896.6 158.1 C894.9 158.9 891.9 158.9 889.8 159.8 C887.7 160.6 885.9 161.7 883.9 163.1 C881.9 164.6 879.5 167.1 877.9 168.2 C876.4 169.4 875.2 171.1 874.5 169.9 C873.8 168.8 873.5 164.7 873.7 161.4 C873.8 158.2 872.1 152.3 875.4 150.4 Z" fill="#072a49"/>
<path d="M923.7 150.4 C925.7 149.7 936.6 149.1 939.0 150.4 C941.4 151.7 939.3 157.1 938.2 158.1 C937.0 159.0 934.1 156.9 932.2 156.4 C930.4 155.8 928.5 155.7 927.1 154.7 C925.7 153.7 921.8 151.1 923.7 150.4 Z" fill="#072a49"/>
<path d="M966.2 181.0 C966.4 179.5 969.3 178.6 971.2 178.4 C973.2 178.3 976.6 179.1 978.0 180.1 C979.4 181.1 980.3 183.1 979.7 184.4 C979.2 185.6 976.3 187.3 974.6 187.7 C972.9 188.2 971.0 188.0 969.6 186.9 C968.1 185.8 965.9 182.4 966.2 181.0 Z" fill="#072a49"/>
<path d="M897.4 214.0 C897.7 212.8 900.1 209.4 901.7 207.3 C903.2 205.1 905.2 202.5 906.8 201.3 C908.3 200.1 910.6 199.4 911.0 200.1 C911.4 200.8 910.5 203.8 909.3 205.6 C908.2 207.3 905.8 209.1 904.2 210.7 C902.7 212.2 901.1 214.3 900.0 214.9 C898.9 215.5 897.2 215.3 897.4 214.0 Z" fill="#072a49"/>
<path d="M956.0 258.2 C956.5 255.3 958.5 250.2 961.1 248.0 C963.6 245.7 967.9 244.6 971.2 244.6 C974.6 244.6 979.0 245.7 981.4 248.0 C983.8 250.2 985.2 254.5 985.7 258.2 C986.1 261.8 985.2 266.9 984.0 270.0 C982.7 273.1 980.4 275.7 978.0 276.8 C975.6 278.0 972.1 277.7 969.6 276.8 C967.0 276.0 964.7 273.7 962.8 271.7 C960.8 269.8 958.8 267.2 957.7 264.9 C956.5 262.7 955.4 261.0 956.0 258.2 Z" fill="#9e5985"/>
<path d="M958.5 258.2 C959.0 255.8 960.6 251.9 962.8 250.0 C964.9 248.2 968.5 247.1 971.2 247.1 C974.0 247.1 977.4 248.2 979.4 250.0 C981.4 251.9 982.7 255.1 983.1 258.2 C983.5 261.2 982.8 265.7 981.8 268.3 C980.7 271.0 978.7 273.4 976.7 274.3 C974.7 275.2 972.0 274.6 969.9 273.8 C967.8 272.9 965.8 270.8 964.1 269.2 C962.5 267.6 960.8 265.9 959.9 264.1 C958.9 262.3 958.0 260.5 958.5 258.2 Z" fill="#c26479"/>
<path d="M908.5 169.1 C908.6 167.7 910.5 166.0 911.9 165.7 C913.3 165.4 915.8 166.3 917.0 167.4 C918.1 168.5 918.8 170.9 918.7 172.5 C918.5 174.0 917.4 176.4 916.1 176.7 C914.8 177.0 912.3 175.4 911.0 174.2 C909.7 172.9 908.3 170.5 908.5 169.1 Z" fill="#7b4c90"/>
<path d="M882.2 241.2 C882.7 239.1 884.4 236.7 885.6 236.1 C886.8 235.5 888.8 236.1 889.5 237.8 C890.2 239.5 890.3 244.0 889.8 246.3 C889.3 248.5 887.6 250.9 886.4 251.4 C885.2 251.8 883.4 250.5 882.7 248.8 C882.0 247.1 881.7 243.3 882.2 241.2 Z" fill="#9e5985"/>
<path d="M867.8 241.2 C868.2 239.9 870.1 237.8 871.1 237.8 C872.2 237.8 874.1 239.8 874.2 241.2 C874.3 242.6 872.9 245.6 872.0 246.3 C871.1 247.0 869.3 246.3 868.6 245.4 C867.9 244.6 867.3 242.5 867.8 241.2 Z" fill="#573b9c"/>
<path d="M842.3 190.3 C843.4 178.1 847.1 192.0 849.1 193.7 C851.1 195.4 852.8 197.6 854.2 200.5 C855.6 203.3 856.9 206.7 857.6 210.7 C858.3 214.6 858.6 219.7 858.4 224.2 C858.3 228.7 857.4 233.3 856.7 237.8 C856.0 242.3 855.2 247.4 854.2 251.4 C853.2 255.3 852.8 259.0 850.8 261.6 C848.8 264.1 843.7 278.5 842.3 266.6 C840.9 254.8 841.2 202.5 842.3 190.3 Z" fill="#c26479"/>
<path d="M841.5 259.4 C843.4 247.6 849.1 260.1 852.9 261.2 C856.7 262.3 860.5 263.5 864.4 265.8 C868.2 268.0 872.8 270.9 875.8 274.7 C878.8 278.5 881.5 283.8 882.2 288.7 C882.8 293.5 881.3 299.3 879.6 303.9 C877.9 308.6 875.0 313.1 872.0 316.7 C869.0 320.3 865.4 323.2 861.8 325.6 C858.2 327.9 853.8 329.6 850.4 330.7 C847.0 331.7 842.9 343.8 841.5 331.9 C840.0 320.1 839.5 271.2 841.5 259.4 Z" fill="#e5745f"/>
<path d="M961.0 255.6 C961.5 252.4 963.8 250.5 966.1 249.2 C968.5 248.0 972.3 247.3 975.0 248.0 C977.8 248.6 981.2 250.5 982.7 253.0 C984.2 255.6 984.6 260.3 983.9 263.2 C983.3 266.2 981.0 269.2 978.9 270.9 C976.7 272.6 973.8 273.8 971.2 273.4 C968.7 273.0 965.3 271.3 963.6 268.3 C961.9 265.3 960.6 258.8 961.0 255.6 Z" fill="#e5745f"/>
<path d="M996.7 255.6 C997.5 253.3 1003.0 250.5 1006.8 249.2 C1010.7 248.0 1016.2 247.3 1019.6 248.0 C1023.0 248.6 1026.8 250.9 1027.2 253.0 C1027.6 255.2 1024.7 259.0 1022.1 260.7 C1019.6 262.4 1015.3 262.8 1011.9 263.2 C1008.5 263.7 1004.3 264.5 1001.8 263.2 C999.2 262.0 995.8 257.9 996.7 255.6 Z" fill="#e5745f"/>
<path d="M912.7 286.1 C913.3 284.2 917.4 281.5 920.3 281.0 C923.3 280.6 928.4 282.1 930.5 283.6 C932.6 285.1 933.9 288.2 933.1 289.9 C932.2 291.6 928.2 293.3 925.4 293.8 C922.7 294.2 918.6 293.8 916.5 292.5 C914.4 291.2 912.1 288.0 912.7 286.1 Z" fill="#e5745f"/>
<path d="M1011.9 303.9 C1013.0 301.6 1018.9 299.9 1022.1 300.1 C1025.3 300.3 1029.3 302.9 1031.0 305.2 C1032.7 307.5 1033.4 312.0 1032.3 314.1 C1031.2 316.2 1027.4 317.9 1024.7 317.9 C1021.9 317.9 1017.9 316.4 1015.8 314.1 C1013.6 311.8 1010.9 306.3 1011.9 303.9 Z" fill="#e5745f"/>
<path d="M981.4 329.4 C982.5 326.0 987.8 324.3 991.6 323.0 C995.4 321.8 1000.5 321.1 1004.3 321.8 C1008.1 322.4 1011.9 324.3 1014.5 326.8 C1017.0 329.4 1019.6 333.6 1019.6 337.0 C1019.6 340.4 1017.0 344.7 1014.5 347.2 C1011.9 349.7 1007.7 351.6 1004.3 352.3 C1000.9 352.9 997.3 352.5 994.1 351.0 C990.9 349.5 987.3 347.0 985.2 343.4 C983.1 339.8 980.3 332.8 981.4 329.4 Z" fill="#e5745f"/>
<path d="M1027.2 232.7 C1028.1 230.6 1032.7 229.3 1034.8 230.1 C1037.0 231.0 1039.7 235.2 1039.9 237.8 C1040.1 240.3 1037.8 244.6 1036.1 245.4 C1034.4 246.3 1031.2 245.0 1029.8 242.9 C1028.3 240.7 1026.4 234.8 1027.2 232.7 Z" fill="#e5745f"/>
<path d="M1038.6 257.2 C1038.1 259.5 1044.6 267.1 1046.9 271.0 C1049.2 275.0 1052.4 278.0 1052.4 280.7 C1052.4 283.5 1048.7 285.8 1046.9 287.6 C1045.0 289.5 1041.3 290.6 1041.3 291.8 C1041.3 292.9 1044.1 294.5 1046.9 294.5 C1049.6 294.5 1054.7 291.5 1057.9 291.8 C1061.1 292.0 1063.9 293.8 1066.2 295.9 C1068.5 298.0 1071.7 301.9 1071.7 304.2 C1071.7 306.5 1068.3 308.3 1066.2 309.7 C1064.1 311.1 1060.9 311.1 1059.3 312.5 C1057.7 313.9 1056.3 315.9 1056.5 318.0 C1056.8 320.1 1059.1 323.1 1060.7 324.9 C1062.3 326.8 1065.5 327.4 1066.2 329.1 C1066.9 330.7 1066.0 333.2 1064.8 334.6 C1063.7 336.0 1061.4 337.3 1059.3 337.3 C1057.2 337.3 1054.5 334.6 1052.4 334.6 C1050.3 334.6 1047.8 336.0 1046.9 337.3 C1046.0 338.7 1046.0 341.5 1046.9 342.9 C1047.8 344.3 1050.1 344.9 1052.4 345.6 C1054.7 346.3 1057.9 346.3 1060.7 347.0 C1063.4 347.7 1066.7 348.4 1069.0 349.8 C1071.3 351.2 1072.7 355.5 1074.5 355.3 C1076.3 355.1 1078.2 350.9 1080.0 348.4 C1081.9 345.9 1083.5 342.0 1085.5 340.1 C1087.6 338.3 1090.2 337.6 1092.5 337.3 C1094.8 337.1 1097.5 338.0 1099.4 338.7 C1101.2 339.4 1103.0 343.1 1103.5 341.5 C1104.0 339.9 1103.5 333.0 1102.1 329.1 C1100.7 325.1 1098.0 321.9 1095.2 318.0 C1092.5 314.1 1089.0 309.7 1085.5 305.6 C1082.1 301.4 1078.2 297.3 1074.5 293.1 C1070.8 289.0 1066.9 284.9 1063.4 280.7 C1060.0 276.6 1056.1 272.2 1053.8 268.3 C1051.5 264.4 1052.2 259.1 1049.6 257.2 C1047.1 255.4 1039.0 254.9 1038.6 257.2 Z" fill="#e5745f"/>
<path d="M842.3 194.5 C843.3 184.2 846.5 196.1 848.2 197.9 C849.9 199.8 851.4 202.6 852.5 205.6 C853.5 208.5 854.2 211.8 854.5 215.7 C854.9 219.7 854.9 224.8 854.5 229.3 C854.2 233.8 853.4 238.6 852.5 242.9 C851.6 247.1 850.8 251.9 849.1 254.8 C847.4 257.6 843.4 269.9 842.3 259.9 C841.2 249.8 841.3 204.9 842.3 194.5 Z" fill="#e5745f"/>
<path d="M842.3 212.3 C843.0 208.4 845.6 213.8 846.5 215.7 C847.5 217.7 848.1 221.1 848.2 224.2 C848.4 227.3 848.4 231.9 847.4 234.4 C846.4 237.0 843.2 243.2 842.3 239.5 C841.5 235.8 841.6 216.3 842.3 212.3 Z" fill="#f99243"/>
<path d="M841.5 263.2 C843.2 253.3 848.2 264.5 851.6 265.8 C855.0 267.0 858.4 268.7 861.8 270.9 C865.2 273.0 869.4 275.5 872.0 278.5 C874.5 281.5 876.7 284.9 877.1 288.7 C877.5 292.5 876.2 297.6 874.5 301.4 C872.8 305.2 869.4 308.6 866.9 311.6 C864.4 314.5 862.2 317.1 859.3 319.2 C856.3 321.3 852.1 323.2 849.1 324.3 C846.1 325.4 842.7 335.7 841.5 325.6 C840.2 315.4 839.8 273.2 841.5 263.2 Z" fill="#f99243"/>
<path d="M964.9 258.1 C965.1 255.7 968.0 253.7 970.0 253.0 C971.9 252.4 974.8 253.0 976.3 254.3 C977.8 255.6 979.1 258.6 978.9 260.7 C978.6 262.8 976.7 265.9 975.0 267.0 C973.3 268.2 970.4 269.3 968.7 267.8 C967.0 266.3 964.7 260.6 964.9 258.1 Z" fill="#f99243"/>
<path d="M1010.7 253.0 C1010.9 251.9 1015.3 250.7 1017.0 251.0 C1018.7 251.4 1021.1 253.9 1020.8 255.1 C1020.6 256.3 1017.5 258.5 1015.8 258.1 C1014.1 257.8 1010.5 254.2 1010.7 253.0 Z" fill="#f99243"/>
<path d="M916.5 287.4 C916.4 286.3 921.0 284.1 922.9 284.1 C924.8 284.1 927.9 286.3 928.0 287.4 C928.1 288.5 925.3 290.7 923.4 290.7 C921.5 290.7 916.6 288.5 916.5 287.4 Z" fill="#f99243"/>
<path d="M1018.3 306.5 C1018.6 305.1 1023.1 304.6 1024.7 305.2 C1026.2 305.8 1028.1 308.9 1027.7 310.3 C1027.4 311.7 1024.2 314.2 1022.6 313.6 C1021.1 313.0 1018.0 307.9 1018.3 306.5 Z" fill="#f99243"/>
<path d="M991.6 331.9 C992.9 329.8 996.5 327.3 999.2 326.8 C1002.0 326.4 1006.2 327.5 1008.1 329.4 C1010.0 331.3 1011.3 335.5 1010.7 338.3 C1010.0 341.0 1006.6 344.7 1004.3 345.9 C1002.0 347.2 998.8 347.0 996.7 345.9 C994.6 344.9 992.4 341.9 991.6 339.6 C990.7 337.2 990.3 334.0 991.6 331.9 Z" fill="#f99243"/>
<path d="M1046.2 291.8 C1046.3 290.8 1048.3 288.8 1049.6 288.3 C1051.0 287.9 1053.8 288.3 1054.5 289.0 C1055.2 289.7 1054.7 291.7 1053.8 292.5 C1052.9 293.3 1050.2 294.0 1048.9 293.8 C1047.7 293.7 1046.1 292.7 1046.2 291.8 Z" fill="#f99243"/>
<path d="M841.5 278.5 C842.7 275.1 847.0 279.3 849.1 281.0 C851.2 282.7 853.8 285.7 854.2 288.7 C854.6 291.6 853.8 296.7 851.6 298.8 C849.5 301.0 843.2 304.8 841.5 301.4 C839.8 298.0 840.2 281.9 841.5 278.5 Z" fill="#fbba3f"/>
<path d="M863.1 309.0 C863.8 307.5 866.5 306.1 868.2 306.5 C869.9 306.9 873.1 309.7 873.3 311.6 C873.5 313.5 871.0 317.3 869.4 317.9 C867.9 318.6 864.9 316.9 863.8 315.4 C862.8 313.9 862.4 310.5 863.1 309.0 Z" fill="#fbba3f"/>
<path d="M1067.9 623.0 C1068.3 618.8 1070.5 614.5 1073.0 610.3 C1075.6 606.0 1079.8 600.5 1083.2 597.6 C1086.6 594.6 1089.5 592.9 1093.4 592.5 C1097.2 592.0 1102.7 594.2 1106.1 595.0 C1109.5 595.9 1112.7 597.1 1114.0 597.6 C1115.3 598.0 1112.3 596.7 1114.0 597.6 C1115.7 598.4 1121.2 600.1 1124.2 602.7 C1127.1 605.2 1131.0 609.4 1131.8 612.8 C1132.7 616.2 1131.0 620.0 1129.3 623.0 C1127.6 626.0 1124.2 628.1 1121.6 630.6 C1119.1 633.2 1116.6 635.7 1114.0 638.3 C1111.4 640.8 1109.5 644.2 1106.1 645.9 C1102.6 647.6 1097.6 648.5 1093.4 648.5 C1089.1 648.5 1084.5 648.0 1080.6 645.9 C1076.8 643.8 1072.6 639.5 1070.5 635.7 C1068.3 631.9 1067.5 627.2 1067.9 623.0 Z" fill="#f99243"/>
<path d="M1111.5 556.8 C1113.2 553.5 1118.7 558.5 1121.6 561.9 C1124.6 565.3 1127.1 572.1 1129.3 577.2 C1131.4 582.3 1134.8 589.1 1134.4 592.5 C1133.9 595.9 1129.7 598.4 1126.7 597.6 C1123.8 596.7 1119.1 589.9 1116.5 587.4 C1114.0 584.8 1112.3 587.4 1111.5 582.3 C1110.6 577.2 1109.8 560.2 1111.5 556.8 Z" fill="#f99243"/>
<path d="M1142.0 617.9 C1143.3 614.9 1150.0 612.4 1154.7 610.3 C1159.4 608.2 1164.9 605.2 1170.0 605.2 C1175.1 605.2 1180.6 608.2 1185.2 610.3 C1189.9 612.4 1193.7 615.8 1198.0 617.9 C1202.2 620.0 1206.5 623.0 1210.7 623.0 C1214.9 623.0 1219.2 617.9 1223.4 617.9 C1227.7 617.9 1231.5 621.7 1236.1 623.0 C1240.8 624.3 1248.0 623.4 1251.4 625.6 C1254.8 627.7 1258.2 632.3 1256.5 635.7 C1254.8 639.1 1247.2 643.8 1241.2 645.9 C1235.3 648.0 1227.2 648.5 1220.9 648.5 C1214.5 648.5 1208.1 647.6 1203.1 645.9 C1198.0 644.2 1195.0 640.4 1190.3 638.3 C1185.7 636.2 1180.2 634.5 1175.1 633.2 C1170.0 631.9 1164.5 631.5 1159.8 630.6 C1155.1 629.8 1150.0 630.2 1147.1 628.1 C1144.1 626.0 1140.7 620.9 1142.0 617.9 Z" fill="#f99243"/>
<path d="M1164.9 551.8 C1163.6 552.6 1170.0 557.7 1172.5 561.9 C1175.1 566.2 1177.2 573.0 1180.2 577.2 C1183.1 581.4 1186.9 586.5 1190.3 587.4 C1193.7 588.2 1199.7 584.8 1200.5 582.3 C1201.4 579.8 1197.5 575.5 1195.4 572.1 C1193.3 568.7 1190.3 564.5 1187.8 561.9 C1185.2 559.4 1184.0 558.5 1180.2 556.8 C1176.3 555.2 1166.2 550.9 1164.9 551.8 Z" fill="#f99243"/>
<path d="M1018.6 338.9 C1019.8 336.9 1023.2 335.4 1026.0 334.4 C1028.7 333.5 1031.8 333.0 1034.8 333.0 C1037.8 333.0 1041.3 332.5 1044.0 334.4 C1046.7 336.4 1049.9 339.9 1051.1 344.8 C1052.3 349.7 1052.3 360.1 1051.1 364.0 C1049.9 368.0 1046.5 368.0 1044.0 368.5 C1041.5 369.0 1038.6 367.7 1036.3 367.0 C1034.0 366.2 1031.9 363.3 1030.4 364.0 C1028.9 364.8 1028.9 369.0 1027.4 371.4 C1026.0 373.9 1023.7 376.8 1021.5 378.8 C1019.3 380.8 1016.6 382.3 1014.1 383.3 C1011.7 384.2 1008.9 385.0 1006.7 384.7 C1004.5 384.5 1002.3 383.5 1000.8 381.8 C999.3 380.0 997.8 376.6 997.8 374.4 C997.8 372.2 999.3 370.2 1000.8 368.5 C1002.3 366.7 1004.7 365.5 1006.7 364.0 C1008.7 362.5 1010.9 361.3 1012.6 359.6 C1014.4 357.9 1016.1 355.9 1017.1 353.7 C1018.1 351.4 1018.3 348.7 1018.6 346.3 C1018.8 343.8 1017.3 340.8 1018.6 338.9 Z" fill="#f99243"/>
<path d="M1049.2 358.9 C1052.4 355.2 1058.4 351.8 1063.4 349.5 C1068.4 347.1 1073.9 344.7 1079.2 344.7 C1084.5 344.7 1089.5 347.9 1095.0 349.5 C1100.5 351.0 1107.1 351.8 1112.3 354.2 C1117.6 356.6 1122.3 360.8 1126.5 363.7 C1130.7 366.6 1136.5 368.7 1137.6 371.5 C1138.6 374.4 1133.9 377.3 1132.8 381.0 C1131.8 384.7 1131.0 389.4 1131.3 393.6 C1131.5 397.8 1134.4 402.8 1134.4 406.2 C1134.4 409.7 1133.4 412.3 1131.3 414.1 C1129.2 416.0 1124.9 417.8 1121.8 417.3 C1118.6 416.8 1115.5 412.6 1112.3 411.0 C1109.2 409.4 1105.5 407.0 1102.9 407.8 C1100.2 408.6 1098.1 412.3 1096.6 415.7 C1095.0 419.1 1095.0 427.3 1093.4 428.3 C1091.8 429.4 1089.5 425.2 1087.1 422.0 C1084.7 418.9 1082.4 412.6 1079.2 409.4 C1076.1 406.2 1071.6 404.9 1068.2 403.1 C1064.7 401.3 1061.9 400.2 1058.7 398.4 C1055.5 396.5 1051.9 394.4 1049.2 392.1 C1046.6 389.7 1043.7 387.6 1042.9 384.2 C1042.1 380.7 1043.5 375.8 1044.5 371.5 C1045.6 367.3 1046.1 362.6 1049.2 358.9 Z" fill="#f99243"/>
<path d="M1066.4 624.2 C1067.8 622.2 1071.2 620.5 1074.9 619.1 C1078.6 617.7 1084.5 616.9 1088.5 615.7 C1092.4 614.6 1098.1 614.0 1098.7 612.3 C1099.2 610.6 1093.8 607.5 1091.9 605.6 C1089.9 603.6 1086.2 601.9 1086.8 600.5 C1087.3 599.0 1092.1 597.9 1095.3 597.1 C1098.4 596.2 1102.6 594.5 1105.4 595.4 C1108.3 596.2 1110.0 599.9 1112.2 602.2 C1114.5 604.4 1116.7 607.2 1119.0 608.9 C1121.3 610.6 1124.1 612.9 1125.8 612.3 C1127.5 611.8 1129.2 608.1 1129.2 605.6 C1129.2 603.0 1127.5 599.9 1125.8 597.1 C1124.1 594.2 1121.0 591.7 1119.0 588.6 C1117.0 585.5 1115.1 581.5 1113.9 578.4 C1112.8 575.3 1111.4 571.6 1112.2 569.9 C1113.1 568.2 1116.5 567.1 1119.0 568.2 C1121.6 569.4 1125.0 573.6 1127.5 576.7 C1130.0 579.8 1131.7 583.8 1134.3 586.9 C1136.8 590.0 1139.7 593.4 1142.8 595.4 C1145.9 597.4 1150.1 599.6 1152.9 598.8 C1155.8 597.9 1156.9 592.5 1159.7 590.3 C1162.6 588.0 1166.5 585.5 1169.9 585.2 C1173.3 584.9 1177.3 586.3 1180.1 588.6 C1182.9 590.8 1184.6 597.6 1186.9 598.8 C1189.1 599.9 1190.6 595.4 1193.7 595.4 C1196.8 595.4 1203.6 594.8 1205.5 598.8 C1207.5 602.7 1207.5 616.6 1205.5 619.1 C1203.6 621.7 1197.3 615.2 1193.7 614.0 C1190.0 612.9 1186.9 612.9 1183.5 612.3 C1180.1 611.8 1176.7 610.4 1173.3 610.6 C1169.9 610.9 1166.5 613.2 1163.1 614.0 C1159.7 614.9 1155.8 614.6 1152.9 615.7 C1150.1 616.9 1147.6 618.6 1146.2 620.8 C1144.7 623.1 1143.3 627.0 1144.5 629.3 C1145.6 631.6 1149.8 633.8 1152.9 634.4 C1156.1 635.0 1160.0 633.5 1163.1 632.7 C1166.2 631.8 1168.8 629.3 1171.6 629.3 C1174.4 629.3 1177.5 631.0 1180.1 632.7 C1182.6 634.4 1186.3 636.7 1186.9 639.5 C1187.4 642.3 1185.2 647.1 1183.5 649.7 C1181.8 652.2 1186.3 653.9 1176.7 654.8 C1167.1 655.6 1135.4 655.9 1125.8 654.8 C1116.2 653.6 1121.8 648.8 1119.0 648.0 C1116.2 647.1 1112.2 649.7 1108.8 649.7 C1105.4 649.7 1102.0 648.0 1098.7 648.0 C1095.3 648.0 1091.6 649.9 1088.5 649.7 C1085.4 649.4 1082.8 648.3 1080.0 646.3 C1077.2 644.3 1073.8 640.3 1071.5 637.8 C1069.2 635.2 1067.3 633.3 1066.4 631.0 C1065.6 628.7 1065.0 626.2 1066.4 624.2 Z" fill="#f99243"/>
<path d="M1023.0 347.8 C1023.7 345.3 1026.7 342.1 1028.9 340.4 C1031.1 338.6 1033.8 337.6 1036.3 337.4 C1038.8 337.1 1042.7 335.2 1044.0 338.9 C1045.3 342.6 1045.0 355.9 1044.0 359.6 C1043.0 363.3 1040.1 361.3 1037.8 361.1 C1035.5 360.8 1032.6 359.1 1030.4 358.1 C1028.2 357.1 1025.7 356.9 1024.5 355.1 C1023.2 353.4 1022.3 350.2 1023.0 347.8 Z" fill="#fbba3f"/>
<path d="M993.4 343.3 C993.5 342.0 995.0 340.1 996.4 339.6 C997.7 339.1 1000.4 339.5 1001.5 340.4 C1002.7 341.2 1003.3 343.4 1003.0 344.8 C1002.8 346.1 1001.3 348.0 1000.1 348.5 C998.8 349.0 996.7 348.6 995.6 347.8 C994.5 346.9 993.3 344.7 993.4 343.3 Z" fill="#f99243"/>
<path d="M842.5 343.3 C843.8 320.6 847.7 345.0 849.9 346.3 C852.1 347.5 853.9 349.0 855.8 350.7 C857.8 352.4 859.8 354.7 861.8 356.6 C863.7 358.6 865.4 360.8 867.7 362.5 C869.9 364.3 872.6 365.5 875.1 367.0 C877.5 368.5 880.0 370.4 882.5 371.4 C884.9 372.4 887.6 372.2 889.9 372.9 C892.1 373.6 894.3 374.4 895.8 375.9 C897.3 377.3 899.0 380.3 898.7 381.8 C898.5 383.3 896.0 383.7 894.3 384.7 C892.6 385.7 890.1 386.5 888.4 387.7 C886.7 388.9 884.4 390.4 883.9 392.1 C883.4 393.9 884.7 396.1 885.4 398.0 C886.2 400.0 887.9 401.5 888.4 404.0 C888.9 406.4 887.9 410.4 888.4 412.8 C888.9 415.3 891.1 416.8 891.3 418.8 C891.6 420.7 890.6 422.7 889.9 424.7 C889.1 426.6 887.9 428.6 886.9 430.6 C885.9 432.6 885.2 434.5 883.9 436.5 C882.7 438.5 881.2 440.7 879.5 442.4 C877.8 444.2 875.1 445.4 873.6 446.9 C872.1 448.3 870.6 449.8 870.6 451.3 C870.6 452.8 872.4 454.0 873.6 455.7 C874.8 457.5 876.8 459.7 878.0 461.7 C879.3 463.6 880.7 465.4 881.0 467.6 C881.2 469.8 880.2 472.5 879.5 475.0 C878.8 477.4 882.7 481.1 876.5 482.4 C870.4 483.6 848.2 505.5 842.5 482.4 C836.9 459.2 841.3 366.0 842.5 343.3 Z" fill="#fbba3f"/>
<path d="M887.3 414.4 C888.5 411.4 891.5 408.8 894.9 409.3 C898.3 409.7 903.8 416.1 907.6 416.9 C911.4 417.7 914.4 413.9 917.8 414.4 C921.2 414.8 924.6 416.9 928.0 419.4 C931.4 422.0 935.2 426.2 938.1 429.6 C941.1 433.0 942.8 437.3 945.8 439.8 C948.7 442.3 952.6 444.9 956.0 444.9 C959.4 444.9 962.7 441.9 966.1 439.8 C969.5 437.7 973.8 435.6 976.3 432.2 C978.9 428.8 981.4 423.3 981.4 419.4 C981.4 415.6 975.5 411.4 976.3 409.3 C977.2 407.1 982.3 406.3 986.5 406.7 C990.7 407.1 996.7 411.4 1001.8 411.8 C1006.8 412.2 1012.8 408.8 1017.0 409.3 C1021.3 409.7 1023.8 412.7 1027.2 414.4 C1030.6 416.1 1033.1 417.7 1037.4 419.4 C1041.6 421.1 1047.6 422.4 1052.7 424.5 C1057.7 426.7 1062.8 429.2 1067.9 432.2 C1073.0 435.1 1078.1 439.8 1083.2 442.3 C1088.3 444.9 1092.9 447.0 1098.5 447.4 C1104.0 447.9 1113.3 430.0 1116.3 444.9 C1119.2 459.7 1119.2 522.1 1116.3 536.5 C1113.3 550.9 1104.0 531.4 1098.5 531.4 C1092.9 531.4 1088.3 535.2 1083.2 536.5 C1078.1 537.8 1072.6 537.8 1067.9 539.0 C1063.3 540.3 1059.4 544.6 1055.2 544.1 C1051.0 543.7 1046.7 538.6 1042.5 536.5 C1038.2 534.4 1033.1 533.9 1029.8 531.4 C1026.4 528.9 1025.1 523.8 1022.1 521.2 C1019.1 518.7 1015.3 517.8 1011.9 516.1 C1008.5 514.4 1006.0 511.5 1001.8 511.0 C997.5 510.6 991.6 514.0 986.5 513.6 C981.4 513.2 975.5 509.8 971.2 508.5 C967.0 507.2 964.0 505.5 961.0 506.0 C958.1 506.4 956.0 511.0 953.4 511.0 C950.9 511.0 948.7 508.1 945.8 506.0 C942.8 503.8 939.4 500.0 935.6 498.3 C931.8 496.6 926.7 495.4 922.9 495.8 C919.1 496.2 915.7 501.7 912.7 500.9 C909.7 500.0 905.9 494.5 905.1 490.7 C904.2 486.9 908.5 481.4 907.6 478.0 C906.8 474.6 902.1 473.3 900.0 470.3 C897.9 467.4 896.6 463.6 894.9 460.2 C893.2 456.8 891.5 453.4 889.8 450.0 C888.1 446.6 885.1 443.6 884.7 439.8 C884.3 436.0 886.8 431.3 887.3 427.1 C887.7 422.8 886.0 417.3 887.3 414.4 Z" fill="#fbba3f"/>
<path d="M1111.5 391.5 C1129.7 369.8 1202.2 388.5 1220.9 391.5 C1239.5 394.4 1221.7 403.3 1223.4 409.3 C1225.1 415.2 1227.2 421.6 1231.0 427.1 C1234.9 432.6 1241.2 437.7 1246.3 442.3 C1251.4 447.0 1255.6 451.7 1261.6 455.1 C1267.5 458.5 1276.0 460.2 1281.9 462.7 C1287.9 465.2 1291.3 467.4 1297.2 470.3 C1303.1 473.3 1311.2 477.5 1317.6 480.5 C1323.9 483.5 1329.9 485.6 1335.4 488.1 C1340.9 490.7 1345.1 493.7 1350.6 495.8 C1356.2 497.9 1362.5 499.6 1368.5 500.9 C1374.4 502.1 1383.3 483.1 1386.3 503.4 C1389.2 523.8 1387.5 603.9 1386.3 623.0 C1385.0 642.1 1381.2 620.5 1378.6 617.9 C1376.1 615.4 1373.1 611.6 1371.0 607.7 C1368.9 603.9 1368.0 598.4 1365.9 595.0 C1363.8 591.6 1360.4 587.0 1358.3 587.4 C1356.2 587.8 1355.7 593.7 1353.2 597.6 C1350.6 601.4 1346.8 607.3 1343.0 610.3 C1339.2 613.3 1334.5 614.9 1330.3 615.4 C1326.0 615.8 1321.4 614.9 1317.6 612.8 C1313.7 610.7 1309.9 606.5 1307.4 602.7 C1304.8 598.8 1304.8 593.3 1302.3 589.9 C1299.8 586.5 1295.9 584.4 1292.1 582.3 C1288.3 580.2 1283.6 578.9 1279.4 577.2 C1275.2 575.5 1270.5 574.7 1266.7 572.1 C1262.9 569.6 1259.9 564.5 1256.5 561.9 C1253.1 559.4 1250.1 557.3 1246.3 556.8 C1242.5 556.4 1237.8 559.8 1233.6 559.4 C1229.4 559.0 1224.7 556.4 1220.9 554.3 C1217.1 552.2 1214.5 548.8 1210.7 546.7 C1206.9 544.6 1202.2 542.0 1198.0 541.6 C1193.7 541.2 1189.5 544.6 1185.2 544.1 C1181.0 543.7 1176.8 540.3 1172.5 539.0 C1168.3 537.8 1164.0 537.8 1159.8 536.5 C1155.6 535.2 1151.3 532.7 1147.1 531.4 C1142.8 530.1 1138.6 530.6 1134.4 528.9 C1130.1 527.2 1125.5 522.5 1121.6 521.2 C1117.8 520.0 1113.2 542.9 1111.5 521.2 C1109.8 499.6 1093.2 413.1 1111.5 391.5 Z" fill="#fbba3f"/>
<path d="M1022.1 339.6 C1023.6 336.8 1028.5 336.2 1032.3 335.7 C1036.1 335.3 1041.2 335.5 1045.0 337.0 C1048.8 338.5 1053.9 341.7 1055.2 344.7 C1056.5 347.6 1054.8 351.9 1052.7 354.8 C1050.5 357.8 1045.9 361.6 1042.5 362.5 C1039.1 363.3 1035.5 361.6 1032.3 359.9 C1029.1 358.2 1025.1 355.7 1023.4 352.3 C1021.7 348.9 1020.6 342.3 1022.1 339.6 Z" fill="#fbba3f"/>
<path d="M1082.7 345.0 C1084.2 341.4 1087.6 339.3 1090.5 338.8 C1093.3 338.3 1097.2 340.4 1099.8 341.9 C1102.4 343.5 1104.2 345.6 1106.1 348.1 C1107.9 350.7 1110.5 354.4 1110.7 357.5 C1111.0 360.6 1109.4 364.8 1107.6 366.8 C1105.8 368.9 1102.4 368.4 1099.8 370.0 C1097.2 371.5 1094.4 373.6 1092.0 376.2 C1089.7 378.8 1087.9 382.6 1085.8 385.5 C1083.7 388.5 1082.2 392.5 1079.6 393.9 C1077.0 395.3 1071.3 395.9 1070.2 393.9 C1069.2 392.0 1072.0 385.9 1073.3 382.4 C1074.6 378.9 1076.7 376.7 1078.0 373.1 C1079.3 369.4 1080.4 365.3 1081.1 360.6 C1081.9 355.9 1081.1 348.7 1082.7 345.0 Z" fill="#fbba3f"/>
<path d="M1101.4 376.2 C1103.2 373.6 1107.6 371.5 1110.7 370.0 C1113.8 368.4 1117.0 366.8 1120.1 366.8 C1123.2 366.8 1126.6 368.4 1129.4 370.0 C1132.3 371.5 1134.6 375.7 1137.2 376.2 C1139.8 376.7 1142.1 373.1 1145.0 373.1 C1147.9 373.1 1151.2 372.7 1154.3 376.2 C1157.5 379.7 1172.0 391.0 1163.7 393.9 C1155.4 396.9 1115.1 395.3 1104.5 393.9 C1093.9 392.5 1100.3 388.5 1099.8 385.5 C1099.3 382.6 1099.6 378.8 1101.4 376.2 Z" fill="#fbba3f"/>
<path d="M1151.2 354.4 C1152.8 351.3 1154.9 347.9 1157.5 345.0 C1160.1 342.2 1163.7 338.8 1166.8 337.2 C1169.9 335.7 1173.0 334.9 1176.1 335.7 C1179.3 336.5 1182.6 339.6 1185.5 341.9 C1188.4 344.3 1190.7 346.6 1193.3 349.7 C1195.9 352.8 1198.7 357.2 1201.1 360.6 C1203.4 364.0 1205.7 366.8 1207.3 370.0 C1208.9 373.1 1209.9 375.3 1210.4 379.3 C1210.9 383.3 1221.3 391.5 1210.4 393.9 C1199.5 396.4 1155.9 396.9 1145.0 393.9 C1134.1 391.0 1144.5 381.2 1145.0 376.2 C1145.5 371.2 1147.1 367.4 1148.1 363.7 C1149.2 360.1 1149.7 357.5 1151.2 354.4 Z" fill="#fbba3f"/>
<path d="M1047.7 371.5 C1048.7 368.7 1052.4 367.9 1055.5 366.8 C1058.7 365.8 1064.0 364.4 1066.6 365.2 C1069.2 366.0 1071.1 368.9 1071.3 371.5 C1071.6 374.2 1070.3 378.6 1068.2 381.0 C1066.1 383.4 1061.9 385.2 1058.7 385.7 C1055.5 386.3 1051.1 386.5 1049.2 384.2 C1047.4 381.8 1046.6 374.4 1047.7 371.5 Z" fill="#fbba3f"/>
<path d="M1066.6 387.3 C1067.9 385.2 1074.2 382.6 1077.6 379.4 C1081.0 376.3 1084.5 372.3 1087.1 368.4 C1089.7 364.4 1091.3 358.9 1093.4 355.8 C1095.5 352.6 1096.6 350.0 1099.7 349.5 C1102.9 348.9 1109.4 350.5 1112.3 352.6 C1115.2 354.7 1117.6 359.7 1117.1 362.1 C1116.5 364.4 1111.5 365.0 1109.2 366.8 C1106.8 368.7 1104.4 370.5 1102.9 373.1 C1101.3 375.8 1101.5 380.0 1099.7 382.6 C1097.9 385.2 1095.2 387.3 1091.8 388.9 C1088.4 390.5 1082.9 391.5 1079.2 392.1 C1075.5 392.6 1071.8 392.8 1069.7 392.1 C1067.6 391.3 1065.3 389.4 1066.6 387.3 Z" fill="#fbba3f"/>
<path d="M1112.2 568.2 C1112.2 566.4 1116.5 566.2 1119.0 567.4 C1121.6 568.5 1125.0 572.3 1127.5 575.0 C1130.0 577.7 1133.4 581.2 1134.3 583.5 C1135.1 585.8 1134.0 588.3 1132.6 588.6 C1131.2 588.9 1128.1 586.9 1125.8 585.2 C1123.5 583.5 1121.3 581.2 1119.0 578.4 C1116.7 575.6 1112.2 570.1 1112.2 568.2 Z" fill="#fbba3f"/>
<path d="M948.3 455.1 C950.2 452.1 954.7 450.4 958.5 450.0 C962.3 449.6 967.4 450.4 971.2 452.5 C975.0 454.6 979.5 458.5 981.4 462.7 C983.3 466.9 983.5 473.7 982.7 478.0 C981.8 482.2 979.1 485.6 976.3 488.1 C973.6 490.7 969.5 492.8 966.1 493.2 C962.7 493.7 958.7 492.8 956.0 490.7 C953.2 488.6 951.1 484.3 949.6 480.5 C948.1 476.7 947.3 472.0 947.1 467.8 C946.8 463.6 946.4 458.0 948.3 455.1 Z" fill="#f99243"/>
<path d="M1111.5 391.5 C1114.4 387.6 1125.5 389.3 1129.3 391.5 C1133.1 393.6 1134.4 400.4 1134.4 404.2 C1134.4 408.0 1131.8 412.2 1129.3 414.4 C1126.7 416.5 1122.1 416.9 1119.1 416.9 C1116.1 416.9 1112.7 418.6 1111.5 414.4 C1110.2 410.1 1108.5 395.3 1111.5 391.5 Z" fill="#f99243"/>
<path d="M1138.2 444.9 C1139.0 441.9 1143.1 437.3 1147.1 434.7 C1151.1 432.2 1158.1 429.2 1162.3 429.6 C1166.6 430.0 1172.1 434.3 1172.5 437.3 C1172.9 440.2 1168.3 444.9 1164.9 447.4 C1161.5 450.0 1156.0 451.7 1152.2 452.5 C1148.4 453.4 1144.3 453.8 1142.0 452.5 C1139.7 451.3 1137.3 447.9 1138.2 444.9 Z" fill="#f99243"/>
<path d="M1190.3 551.8 C1190.8 548.8 1196.3 545.0 1200.5 544.1 C1204.8 543.3 1210.7 545.4 1215.8 546.7 C1220.9 547.9 1226.0 549.6 1231.0 551.8 C1236.1 553.9 1241.2 556.8 1246.3 559.4 C1251.4 561.9 1256.5 564.9 1261.6 567.0 C1266.7 569.1 1271.8 570.4 1276.8 572.1 C1281.9 573.8 1287.0 577.2 1292.1 577.2 C1297.2 577.2 1303.1 574.7 1307.4 572.1 C1311.6 569.6 1314.2 564.5 1317.6 561.9 C1321.0 559.4 1324.8 556.4 1327.7 556.8 C1330.7 557.3 1334.9 561.1 1335.4 564.5 C1335.8 567.9 1333.3 573.4 1330.3 577.2 C1327.3 581.0 1322.2 584.8 1317.6 587.4 C1312.9 589.9 1307.4 592.0 1302.3 592.5 C1297.2 592.9 1292.1 591.2 1287.0 589.9 C1281.9 588.7 1276.8 586.5 1271.8 584.8 C1266.7 583.1 1261.6 581.0 1256.5 579.8 C1251.4 578.5 1246.3 578.5 1241.2 577.2 C1236.1 575.9 1231.0 573.8 1226.0 572.1 C1220.9 570.4 1215.4 568.7 1210.7 567.0 C1206.0 565.3 1201.4 564.5 1198.0 561.9 C1194.6 559.4 1189.9 554.7 1190.3 551.8 Z" fill="#f99243"/>
<path d="M842.5 352.2 C843.5 332.3 846.7 351.2 848.4 351.4 C850.2 351.7 851.4 352.6 852.9 353.7 C854.4 354.8 855.8 356.4 857.3 358.1 C858.8 359.8 860.0 362.3 861.8 364.0 C863.5 365.7 865.4 367.0 867.7 368.5 C869.9 369.9 873.1 371.4 875.1 372.9 C877.0 374.4 879.0 375.6 879.5 377.3 C880.0 379.1 879.0 381.8 878.0 383.3 C877.0 384.7 874.8 385.2 873.6 386.2 C872.4 387.2 870.6 387.9 870.6 389.2 C870.6 390.4 872.4 391.9 873.6 393.6 C874.8 395.3 876.8 397.6 878.0 399.5 C879.3 401.5 880.0 403.2 881.0 405.4 C882.0 407.7 883.0 410.6 883.9 412.8 C884.9 415.1 886.9 417.3 886.9 418.8 C886.9 420.2 885.2 420.5 883.9 421.7 C882.7 422.9 880.5 424.2 879.5 426.2 C878.5 428.1 879.0 431.6 878.0 433.6 C877.0 435.5 875.3 436.5 873.6 438.0 C871.9 439.5 869.5 441.2 867.7 442.4 C865.8 443.7 863.2 443.9 862.5 445.4 C861.8 446.9 862.4 449.6 863.2 451.3 C864.1 453.0 866.2 454.3 867.7 455.7 C869.1 457.2 871.0 458.6 872.1 460.2 C873.2 461.8 874.3 463.8 874.3 465.4 C874.3 467.0 873.7 468.8 872.1 469.8 C870.5 470.8 867.7 471.3 864.7 471.3 C861.8 471.3 858.1 469.9 854.4 469.8 C850.7 469.7 844.5 490.1 842.5 470.5 C840.5 450.9 841.5 372.0 842.5 352.2 Z" fill="#e8fa5b"/>
<path d="M969.7 409.9 C970.0 409.0 974.4 408.9 977.1 409.1 C979.8 409.4 983.1 410.5 986.0 411.4 C989.0 412.2 991.9 413.6 994.9 414.3 C997.8 415.1 1000.8 415.8 1003.8 415.8 C1006.7 415.8 1009.9 415.3 1012.6 414.3 C1015.4 413.3 1017.8 410.6 1020.0 409.9 C1022.3 409.1 1025.0 408.9 1026.0 409.9 C1026.9 410.9 1026.2 413.6 1026.0 415.8 C1025.7 418.0 1025.2 420.7 1024.5 423.2 C1023.7 425.7 1023.0 429.1 1021.5 430.6 C1020.0 432.1 1018.1 431.8 1015.6 432.1 C1013.1 432.3 1008.9 431.8 1006.7 432.1 C1004.5 432.3 1002.3 432.6 1002.3 433.6 C1002.3 434.5 1004.7 436.5 1006.7 438.0 C1008.7 439.5 1011.7 440.9 1014.1 442.4 C1016.6 443.9 1020.8 445.1 1021.5 446.9 C1022.3 448.6 1019.8 450.8 1018.6 452.8 C1017.3 454.8 1015.8 457.0 1014.1 458.7 C1012.4 460.4 1009.9 461.4 1008.2 463.1 C1006.5 464.9 1005.5 468.6 1003.8 469.1 C1002.0 469.5 999.8 467.6 997.8 466.1 C995.9 464.6 993.9 461.9 991.9 460.2 C990.0 458.5 988.0 457.0 986.0 455.7 C984.0 454.5 981.3 454.0 980.1 452.8 C978.9 451.5 977.9 449.8 978.6 448.3 C979.4 446.9 983.3 445.9 984.5 443.9 C985.8 441.9 985.5 439.2 986.0 436.5 C986.5 433.8 987.5 430.3 987.5 427.6 C987.5 424.9 987.0 422.2 986.0 420.2 C985.0 418.3 983.3 416.8 981.6 415.8 C979.8 414.8 977.6 415.3 975.7 414.3 C973.7 413.3 969.5 410.7 969.7 409.9 Z" fill="#e8fa5b"/>
<path d="M913.5 424.7 C913.9 423.3 915.0 421.7 916.5 421.7 C918.0 421.7 921.0 423.4 922.4 424.7 C923.8 425.9 925.1 428.5 924.6 429.1 C924.1 429.7 921.2 428.2 919.4 428.4 C917.7 428.5 915.3 430.5 914.3 429.9 C913.3 429.2 913.2 426.0 913.5 424.7 Z" fill="#e8fa5b"/>
<path d="M1185.8 398.2 C1183.6 400.3 1187.0 407.4 1187.6 411.0 C1188.2 414.7 1190.1 417.5 1189.5 420.2 C1188.9 423.0 1185.8 424.8 1183.9 427.6 C1182.1 430.4 1179.5 433.7 1178.4 436.8 C1177.3 439.9 1177.2 442.9 1177.5 446.0 C1177.8 449.1 1180.7 452.8 1180.3 455.2 C1179.8 457.7 1176.3 458.9 1174.7 460.7 C1173.2 462.6 1171.1 464.1 1171.1 466.3 C1171.1 468.4 1172.9 471.8 1174.7 473.6 C1176.6 475.5 1180.6 475.5 1182.1 477.3 C1183.6 479.1 1184.9 482.5 1183.9 484.7 C1183.0 486.8 1179.0 488.7 1176.6 490.2 C1174.1 491.7 1171.4 492.3 1169.2 493.9 C1167.1 495.4 1166.2 498.8 1163.7 499.4 C1161.2 500.0 1157.3 496.9 1154.5 497.6 C1151.7 498.2 1150.2 501.8 1147.1 503.1 C1144.1 504.3 1139.8 504.0 1136.1 504.9 C1132.4 505.8 1126.6 507.1 1125.0 508.6 C1123.5 510.1 1125.0 512.3 1126.9 514.1 C1128.7 516.0 1133.0 517.8 1136.1 519.6 C1139.2 521.5 1142.5 523.0 1145.3 525.2 C1148.1 527.3 1150.7 530.7 1152.7 532.5 C1154.6 534.4 1156.6 537.1 1157.3 536.2 C1157.9 535.3 1156.9 530.1 1156.3 527.0 C1155.7 523.9 1153.6 520.6 1153.6 517.8 C1153.6 515.0 1154.3 512.3 1156.3 510.4 C1158.3 508.6 1162.2 507.7 1165.5 506.8 C1168.9 505.8 1172.9 505.5 1176.6 504.9 C1180.3 504.3 1184.6 502.8 1187.6 503.1 C1190.7 503.4 1192.5 505.2 1195.0 506.8 C1197.4 508.3 1199.9 510.4 1202.3 512.3 C1204.8 514.1 1207.3 516.3 1209.7 517.8 C1212.2 519.3 1215.2 519.9 1217.1 521.5 C1218.9 523.0 1218.9 526.4 1220.8 527.0 C1222.6 527.6 1225.4 526.4 1228.1 525.2 C1230.9 523.9 1234.9 520.9 1237.3 519.6 C1239.8 518.4 1242.2 516.9 1242.8 517.8 C1243.5 518.7 1241.0 523.0 1241.0 525.2 C1241.0 527.3 1241.9 529.5 1242.8 530.7 C1243.8 531.9 1245.3 534.1 1246.5 532.5 C1247.8 531.0 1249.0 524.2 1250.2 521.5 C1251.4 518.7 1252.4 516.0 1253.9 516.0 C1255.4 516.0 1257.6 519.3 1259.4 521.5 C1261.2 523.6 1262.8 527.0 1264.9 528.8 C1267.1 530.7 1269.8 532.5 1272.3 532.5 C1274.7 532.5 1276.9 529.8 1279.7 528.8 C1282.4 527.9 1286.4 527.9 1288.9 527.0 C1291.3 526.1 1293.8 524.9 1294.4 523.3 C1295.0 521.8 1293.8 519.3 1292.5 517.8 C1291.3 516.3 1288.2 515.7 1287.0 514.1 C1285.8 512.6 1286.4 510.1 1285.2 508.6 C1283.9 507.1 1281.5 506.1 1279.7 504.9 C1277.8 503.7 1276.0 502.5 1274.1 501.2 C1272.3 500.0 1270.8 497.9 1268.6 497.6 C1266.5 497.2 1263.7 498.5 1261.2 499.4 C1258.8 500.3 1256.3 503.1 1253.9 503.1 C1251.4 503.1 1248.7 500.9 1246.5 499.4 C1244.4 497.9 1241.6 495.7 1241.0 493.9 C1240.4 492.0 1241.3 489.9 1242.8 488.3 C1244.4 486.8 1247.4 485.0 1250.2 484.7 C1253.0 484.4 1258.8 487.1 1259.4 486.5 C1260.0 485.9 1256.0 481.6 1253.9 481.0 C1251.7 480.4 1249.0 481.9 1246.5 482.8 C1244.1 483.7 1241.3 485.0 1239.2 486.5 C1237.0 488.0 1235.5 490.2 1233.6 492.0 C1231.8 493.9 1230.3 496.3 1228.1 497.6 C1226.0 498.8 1222.6 499.7 1220.8 499.4 C1218.9 499.1 1216.5 497.2 1217.1 495.7 C1217.7 494.2 1222.0 492.0 1224.4 490.2 C1226.9 488.3 1229.3 486.5 1231.8 484.7 C1234.3 482.8 1236.7 481.0 1239.2 479.1 C1241.6 477.3 1244.1 474.9 1246.5 473.6 C1249.0 472.4 1252.2 473.0 1253.9 471.8 C1255.6 470.6 1256.6 468.7 1256.6 466.3 C1256.6 463.8 1255.3 459.8 1253.9 457.1 C1252.5 454.3 1249.9 451.2 1248.4 449.7 C1246.8 448.2 1245.0 446.9 1244.7 447.9 C1244.4 448.8 1245.9 452.8 1246.5 455.2 C1247.1 457.7 1249.0 461.0 1248.4 462.6 C1247.8 464.1 1245.0 463.8 1242.8 464.4 C1240.7 465.0 1237.9 465.6 1235.5 466.3 C1233.0 466.9 1230.6 468.1 1228.1 468.1 C1225.7 468.1 1222.9 467.2 1220.8 466.3 C1218.6 465.3 1216.5 464.4 1215.2 462.6 C1214.0 460.7 1213.5 458.0 1213.4 455.2 C1213.2 452.5 1214.6 449.1 1214.3 446.0 C1214.0 442.9 1212.9 439.6 1211.6 436.8 C1210.2 434.1 1207.6 431.6 1206.0 429.4 C1204.5 427.3 1202.0 425.8 1202.3 423.9 C1202.7 422.1 1206.6 420.6 1207.9 418.4 C1209.1 416.3 1210.0 413.2 1209.7 411.0 C1209.4 408.9 1207.6 407.7 1206.0 405.5 C1204.5 403.4 1203.9 399.4 1200.5 398.2 C1197.1 396.9 1187.9 396.0 1185.8 398.2 Z" fill="#e8fa5b"/>
<path d="M1291.6 484.7 C1292.2 482.7 1295.0 482.5 1296.2 483.7 C1297.4 485.0 1297.8 488.8 1299.0 492.0 C1300.2 495.3 1301.9 499.7 1303.6 503.1 C1305.3 506.4 1307.3 511.4 1309.1 512.3 C1310.9 513.2 1312.8 510.1 1314.6 508.6 C1316.5 507.1 1318.6 505.2 1320.1 503.1 C1321.7 500.9 1323.5 497.9 1323.8 495.7 C1324.1 493.6 1321.4 490.8 1322.0 490.2 C1322.6 489.6 1325.4 490.5 1327.5 492.0 C1329.7 493.6 1332.1 497.6 1334.9 499.4 C1337.6 501.2 1341.0 502.8 1344.1 503.1 C1347.1 503.4 1350.5 500.9 1353.3 501.2 C1356.0 501.5 1357.9 504.0 1360.6 504.9 C1363.4 505.8 1366.8 506.8 1369.8 506.8 C1372.9 506.8 1376.3 505.4 1379.0 504.9 C1381.8 504.5 1385.2 495.1 1386.4 504.0 C1387.6 512.9 1387.6 550.5 1386.4 558.3 C1385.2 566.1 1380.9 554.0 1379.0 550.9 C1377.2 547.9 1376.6 543.6 1375.4 539.9 C1374.1 536.2 1372.9 531.9 1371.7 528.8 C1370.5 525.8 1368.3 523.3 1368.0 521.5 C1367.7 519.6 1370.8 518.4 1369.8 517.8 C1368.9 517.2 1365.2 517.5 1362.5 517.8 C1359.7 518.1 1356.3 518.4 1353.3 519.6 C1350.2 520.9 1347.1 523.0 1344.1 525.2 C1341.0 527.3 1337.9 530.4 1334.9 532.5 C1331.8 534.7 1328.4 536.5 1325.7 538.0 C1322.9 539.6 1320.1 542.3 1318.3 541.7 C1316.5 541.1 1315.9 536.8 1314.6 534.4 C1313.4 531.9 1312.2 529.5 1310.9 527.0 C1309.7 524.5 1308.8 521.8 1307.3 519.6 C1305.7 517.5 1303.6 516.6 1301.7 514.1 C1299.9 511.7 1297.8 508.0 1296.2 504.9 C1294.7 501.8 1293.3 499.1 1292.5 495.7 C1291.8 492.3 1291.0 486.7 1291.6 484.7 Z" fill="#e8fa5b"/>
<path d="M1307.4 587.4 C1308.9 584.8 1312.0 581.7 1315.0 579.8 C1318.0 577.8 1321.8 576.1 1325.2 575.9 C1328.6 575.7 1332.4 576.8 1335.4 578.5 C1338.3 580.2 1341.5 583.4 1343.0 586.1 C1344.5 588.9 1342.6 594.4 1344.3 595.0 C1346.0 595.7 1350.0 592.0 1353.2 589.9 C1356.4 587.8 1360.8 585.3 1363.4 582.3 C1365.9 579.3 1366.3 573.0 1368.5 572.1 C1370.6 571.3 1375.7 574.2 1376.1 577.2 C1376.5 580.2 1373.5 586.1 1371.0 589.9 C1368.5 593.7 1364.2 597.1 1360.8 600.1 C1357.4 603.1 1354.0 605.6 1350.6 607.7 C1347.2 609.9 1344.3 611.8 1340.5 612.8 C1336.6 613.9 1331.6 614.5 1327.7 614.1 C1323.9 613.7 1320.5 612.2 1317.6 610.3 C1314.6 608.4 1311.8 605.2 1309.9 602.7 C1308.0 600.1 1306.5 597.6 1306.1 595.0 C1305.7 592.5 1305.9 589.9 1307.4 587.4 Z" fill="#e8fa5b"/>
<path d="M1344.3 569.6 C1344.8 567.7 1347.7 564.5 1349.4 564.5 C1351.1 564.5 1354.0 567.5 1354.5 569.6 C1354.9 571.7 1353.3 576.1 1351.9 577.2 C1350.5 578.3 1347.3 577.2 1346.1 575.9 C1344.8 574.7 1343.7 571.5 1344.3 569.6 Z" fill="#e8fa5b"/>
<path d="M1373.5 546.7 C1373.8 544.3 1376.7 541.6 1378.6 541.6 C1380.5 541.6 1383.9 544.1 1385.0 546.7 C1386.1 549.2 1386.3 555.4 1385.0 556.8 C1383.7 558.3 1379.3 557.3 1377.4 555.6 C1375.5 553.9 1373.3 549.0 1373.5 546.7 Z" fill="#e8fa5b"/>
<path d="M1161.2 358.9 C1162.3 356.6 1166.0 355.2 1169.1 354.2 C1172.3 353.1 1176.5 352.4 1180.2 352.6 C1183.8 352.9 1187.8 353.9 1191.2 355.8 C1194.6 357.6 1198.3 360.5 1200.7 363.7 C1203.0 366.8 1204.9 371.0 1205.4 374.7 C1205.9 378.4 1203.3 382.6 1203.8 385.7 C1204.3 388.9 1207.0 390.7 1208.5 393.6 C1210.1 396.5 1213.0 400.5 1213.3 403.1 C1213.5 405.7 1210.4 406.8 1210.1 409.4 C1209.9 412.0 1210.9 415.7 1211.7 418.9 C1212.5 422.0 1214.6 424.6 1214.9 428.3 C1215.1 432.0 1213.8 436.7 1213.3 440.9 C1212.7 445.2 1211.7 449.4 1211.7 453.6 C1211.7 457.8 1212.7 461.5 1213.3 466.2 C1213.8 470.9 1214.9 475.9 1214.9 482.0 C1214.9 488.0 1221.4 499.0 1213.3 502.5 C1205.1 505.9 1173.1 504.3 1166.0 502.5 C1158.9 500.6 1169.1 494.8 1170.7 491.4 C1172.3 488.0 1175.2 485.1 1175.4 482.0 C1175.7 478.8 1172.5 475.6 1172.3 472.5 C1172.0 469.3 1172.3 465.7 1173.8 463.0 C1175.4 460.4 1180.2 459.3 1181.7 456.7 C1183.3 454.1 1183.8 450.4 1183.3 447.3 C1182.8 444.1 1178.8 440.9 1178.6 437.8 C1178.3 434.6 1180.2 430.4 1181.7 428.3 C1183.3 426.2 1186.7 427.3 1188.0 425.2 C1189.4 423.1 1189.9 418.9 1189.6 415.7 C1189.4 412.6 1187.2 409.4 1186.5 406.2 C1185.7 403.1 1185.7 399.9 1184.9 396.8 C1184.1 393.6 1183.3 389.9 1181.7 387.3 C1180.2 384.7 1177.8 382.8 1175.4 381.0 C1173.1 379.2 1169.6 378.4 1167.5 376.3 C1165.4 374.2 1163.9 371.3 1162.8 368.4 C1161.7 365.5 1160.2 361.3 1161.2 358.9 Z" fill="#e8fa5b"/>
<path d="M1142.3 377.9 C1143.1 376.7 1146.5 376.3 1148.6 377.1 C1150.7 377.9 1153.1 380.1 1154.9 382.6 C1156.8 385.1 1158.1 388.9 1159.6 392.1 C1161.2 395.2 1164.6 399.7 1164.4 401.5 C1164.1 403.4 1160.2 403.6 1158.1 403.1 C1156.0 402.6 1153.6 400.5 1151.8 398.4 C1149.9 396.3 1148.3 392.8 1147.0 390.5 C1145.7 388.1 1144.7 386.3 1143.9 384.2 C1143.1 382.1 1141.5 379.0 1142.3 377.9 Z" fill="#e8fa5b"/>
<path d="M1102.1 425.2 C1102.3 422.5 1103.8 421.5 1104.4 423.6 C1105.1 425.7 1105.1 433.3 1106.0 437.8 C1106.9 442.3 1108.8 446.2 1110.0 450.4 C1111.1 454.6 1113.1 460.4 1113.1 463.0 C1113.1 465.7 1111.1 467.8 1110.0 466.2 C1108.8 464.6 1107.2 458.0 1106.0 453.6 C1104.8 449.1 1103.5 444.1 1102.9 439.4 C1102.2 434.6 1101.8 427.8 1102.1 425.2 Z" fill="#e8fa5b"/>
<path d="M852.9 408.4 C852.9 407.2 854.0 405.2 855.1 404.7 C856.2 404.2 858.4 404.7 859.5 405.4 C860.6 406.2 861.9 407.9 861.8 409.1 C861.6 410.4 860.0 412.3 858.8 412.8 C857.6 413.3 855.6 412.8 854.7 412.1 C853.7 411.4 852.8 409.6 852.9 408.4 Z" fill="#fbba3f"/>
<path d="M842.5 389.2 C843.5 388.1 847.0 388.1 848.4 388.4 C849.9 388.8 851.4 390.3 851.4 391.4 C851.4 392.5 849.9 394.5 848.4 395.1 C847.0 395.7 843.5 396.1 842.5 395.1 C841.5 394.1 841.5 390.3 842.5 389.2 Z" fill="#fbba3f"/>
<path d="M1195.9 399.9 C1196.5 398.1 1199.9 395.2 1202.2 395.2 C1204.6 395.2 1208.5 397.8 1210.1 399.9 C1211.7 402.0 1212.5 406.2 1211.7 407.8 C1210.9 409.4 1207.5 409.7 1205.4 409.4 C1203.3 409.1 1200.7 407.8 1199.1 406.2 C1197.5 404.7 1195.4 401.8 1195.9 399.9 Z" fill="#fbba3f"/>
<path d="M1184.9 466.2 C1185.4 464.9 1189.9 464.1 1192.8 464.6 C1195.7 465.1 1201.4 468.0 1202.2 469.3 C1203.0 470.7 1199.6 472.0 1197.5 472.5 C1195.4 473.0 1191.7 473.5 1189.6 472.5 C1187.5 471.4 1184.4 467.5 1184.9 466.2 Z" fill="#fbba3f"/>
<path d="M925.4 567.0 C925.8 565.3 928.0 563.6 930.5 564.5 C933.1 565.3 936.5 570.2 940.7 572.1 C944.9 574.0 950.0 575.1 956.0 575.9 C961.9 576.8 969.5 577.2 976.3 577.2 C983.1 577.2 989.9 576.8 996.7 575.9 C1003.5 575.1 1011.1 573.2 1017.0 572.1 C1023.0 571.1 1027.2 570.8 1032.3 569.6 C1037.4 568.3 1045.4 564.1 1047.6 564.5 C1049.7 564.9 1048.0 569.6 1045.0 572.1 C1042.0 574.7 1035.3 577.8 1029.8 579.8 C1024.2 581.7 1018.3 582.7 1011.9 583.6 C1005.6 584.4 998.4 584.7 991.6 584.8 C984.8 585.0 978.0 584.5 971.2 584.3 C964.4 584.1 956.8 584.3 950.9 583.6 C944.9 582.8 939.4 581.2 935.6 579.8 C931.8 578.3 929.7 576.8 928.0 574.7 C926.3 572.5 925.0 568.7 925.4 567.0 Z" fill="#c26479"/>
<path d="M903.8 539.0 C904.2 536.1 907.8 531.8 910.2 528.9 C912.5 525.9 915.2 522.1 917.8 521.2 C920.3 520.4 923.3 522.1 925.4 523.8 C927.5 525.5 928.8 529.3 930.5 531.4 C932.2 533.5 936.0 534.4 935.6 536.5 C935.2 538.6 930.9 542.2 928.0 544.1 C925.0 546.0 921.2 547.5 917.8 547.9 C914.4 548.4 909.9 548.2 907.6 546.7 C905.3 545.2 903.4 542.0 903.8 539.0 Z" fill="#c26479"/>
<path d="M892.3 595.0 C892.8 592.0 899.1 586.5 902.5 582.3 C905.9 578.1 909.7 571.3 912.7 569.6 C915.7 567.9 919.5 570.0 920.3 572.1 C921.2 574.2 917.4 579.8 917.8 582.3 C918.2 584.8 923.3 584.8 922.9 587.4 C922.5 589.9 917.8 594.6 915.2 597.6 C912.7 600.5 910.2 604.8 907.6 605.2 C905.1 605.6 902.5 601.8 900.0 600.1 C897.4 598.4 891.9 598.0 892.3 595.0 Z" fill="#c26479"/>
<path d="M841.5 615.4 C843.6 612.8 850.4 612.4 854.2 612.8 C858.0 613.3 863.5 615.4 864.4 617.9 C865.2 620.5 861.8 626.0 859.3 628.1 C856.7 630.2 852.1 630.6 849.1 630.6 C846.1 630.6 842.7 630.6 841.5 628.1 C840.2 625.6 839.3 617.9 841.5 615.4 Z" fill="#c26479"/>
<path d="M872.0 610.3 C873.3 608.8 878.4 608.2 882.2 609.0 C886.0 609.9 891.5 612.2 894.9 615.4 C898.3 618.6 900.8 623.4 902.5 628.1 C904.2 632.8 905.9 640.4 905.1 643.4 C904.2 646.3 899.6 647.6 897.4 645.9 C895.3 644.2 894.5 637.0 892.3 633.2 C890.2 629.4 887.7 625.6 884.7 623.0 C881.7 620.5 876.7 620.0 874.5 617.9 C872.4 615.8 870.7 611.8 872.0 610.3 Z" fill="#c26479"/>
<path d="M958.5 623.0 C959.6 620.5 963.6 617.1 966.1 615.4 C968.7 613.7 972.1 612.0 973.8 612.8 C975.5 613.7 976.7 617.5 976.3 620.5 C975.9 623.4 973.3 628.1 971.2 630.6 C969.1 633.2 965.5 635.7 963.6 635.7 C961.7 635.7 960.6 632.8 959.8 630.6 C958.9 628.5 957.4 625.6 958.5 623.0 Z" fill="#c26479"/>
<path d="M966.1 595.0 C967.0 593.3 972.5 591.2 976.3 591.2 C980.1 591.2 986.5 593.5 989.0 595.0 C991.6 596.5 992.9 598.8 991.6 600.1 C990.3 601.4 984.8 602.4 981.4 602.7 C978.0 602.9 973.8 602.7 971.2 601.4 C968.7 600.1 965.3 596.7 966.1 595.0 Z" fill="#c26479"/>
<path d="M841.5 635.7 C844.4 631.5 854.2 630.2 859.3 630.6 C864.4 631.1 870.3 634.0 872.0 638.3 C873.7 642.5 874.5 653.1 869.4 656.1 C864.4 659.1 846.1 659.5 841.5 656.1 C836.8 652.7 838.5 640.0 841.5 635.7 Z" fill="#c26479"/>
<path d="M849.1 577.2 C850.4 574.7 855.9 571.3 856.7 572.1 C857.6 573.0 855.5 579.8 854.2 582.3 C852.9 584.8 849.9 588.2 849.1 587.4 C848.2 586.5 847.8 579.8 849.1 577.2 Z" fill="#c26479"/>
<path d="M1064.2 411.0 C1064.5 408.9 1066.7 406.8 1068.2 406.2 C1069.6 405.7 1071.5 406.2 1072.9 407.8 C1074.3 409.4 1076.3 413.3 1076.8 415.7 C1077.4 418.1 1077.0 420.7 1076.1 422.0 C1075.1 423.3 1072.9 424.1 1071.3 423.6 C1069.7 423.1 1067.8 421.0 1066.6 418.9 C1065.4 416.8 1064.0 413.1 1064.2 411.0 Z" fill="#c26479"/>
<path d="M1093.4 403.1 C1094.7 398.9 1097.6 397.6 1099.7 396.8 C1101.8 396.0 1105.8 396.8 1106.0 398.4 C1106.3 399.9 1102.9 403.4 1101.3 406.2 C1099.7 409.1 1097.6 412.0 1096.6 415.7 C1095.5 419.4 1095.0 424.1 1095.0 428.3 C1095.0 432.5 1096.8 437.8 1096.6 440.9 C1096.3 444.1 1094.5 447.8 1093.4 447.3 C1092.3 446.7 1090.5 442.0 1090.2 437.8 C1090.0 433.6 1091.3 427.8 1091.8 422.0 C1092.3 416.2 1092.1 407.3 1093.4 403.1 Z" fill="#e5745f"/>
<path d="M1256.5 623.0 C1258.0 619.6 1262.4 614.9 1266.7 612.8 C1270.9 610.7 1276.8 609.9 1281.9 610.3 C1287.0 610.7 1293.0 612.8 1297.2 615.4 C1301.4 617.9 1306.1 621.7 1307.4 625.6 C1308.7 629.4 1307.4 634.9 1304.8 638.3 C1302.3 641.7 1296.8 644.2 1292.1 645.9 C1287.5 647.6 1281.5 648.9 1276.8 648.5 C1272.2 648.0 1267.3 645.9 1264.1 643.4 C1260.9 640.8 1259.0 636.6 1257.8 633.2 C1256.5 629.8 1255.0 626.4 1256.5 623.0 Z" fill="#e5745f"/>
<path d="M1332.8 645.9 C1334.1 642.1 1339.2 636.4 1343.0 633.2 C1346.8 630.0 1351.5 627.7 1355.7 626.8 C1360.0 626.0 1365.9 626.2 1368.5 628.1 C1371.0 630.0 1371.8 634.9 1371.0 638.3 C1370.1 641.7 1366.8 645.5 1363.4 648.5 C1360.0 651.4 1355.3 654.8 1350.6 656.1 C1346.0 657.4 1338.3 657.8 1335.4 656.1 C1332.4 654.4 1331.6 649.7 1332.8 645.9 Z" fill="#e5745f"/>
<path d="M1275.6 625.6 C1276.2 623.2 1281.1 620.9 1284.5 620.5 C1287.9 620.0 1293.4 621.3 1295.9 623.0 C1298.5 624.7 1300.4 628.5 1299.8 630.6 C1299.1 632.8 1295.3 635.1 1292.1 635.7 C1288.9 636.4 1283.4 636.2 1280.7 634.5 C1277.9 632.8 1274.9 627.9 1275.6 625.6 Z" fill="#c26479"/>
<path d="M1339.2 644.6 C1339.8 642.1 1344.9 638.1 1348.1 635.7 C1351.3 633.4 1355.1 631.1 1358.3 630.6 C1361.5 630.2 1366.1 631.3 1367.2 633.2 C1368.2 635.1 1366.5 639.5 1364.6 642.1 C1362.7 644.6 1359.1 647.0 1355.7 648.5 C1352.3 649.9 1347.0 651.6 1344.3 651.0 C1341.5 650.4 1338.6 647.2 1339.2 644.6 Z" fill="#c26479"/>
<path d="M1344.3 642.1 C1344.3 640.4 1349.2 637.0 1351.9 635.7 C1354.7 634.5 1359.5 633.6 1360.8 634.5 C1362.1 635.3 1361.0 638.9 1359.5 640.8 C1358.1 642.7 1354.5 645.7 1351.9 645.9 C1349.4 646.1 1344.3 643.8 1344.3 642.1 Z" fill="#9e5985"/>
<path d="M1085.2 245.9 C1081.3 247.9 1087.9 254.6 1089.4 258.3 C1090.9 262.0 1092.1 265.0 1094.2 267.9 C1096.3 270.9 1099.7 273.5 1101.8 276.2 C1103.9 279.0 1104.7 282.0 1106.6 284.5 C1108.6 287.0 1111.8 289.6 1113.5 291.4 C1115.2 293.2 1116.5 293.9 1117.0 295.5 C1117.4 297.2 1115.4 298.8 1116.3 301.3 C1117.2 303.9 1120.7 307.8 1122.5 310.7 C1124.3 313.7 1126.0 316.7 1127.3 319.0 C1128.6 321.3 1130.0 322.9 1130.4 324.5 C1130.7 326.1 1128.7 327.3 1129.4 328.7 C1130.0 330.1 1132.7 330.9 1134.2 332.8 C1135.7 334.7 1137.0 338.7 1138.4 340.0 C1139.7 341.3 1141.1 340.2 1142.5 340.4 C1143.9 340.6 1145.7 341.4 1146.6 341.1 C1147.6 340.8 1147.8 339.7 1148.0 338.3 C1148.3 337.0 1148.5 334.7 1148.0 332.8 C1147.6 331.0 1146.2 329.1 1145.3 327.3 C1144.3 325.5 1143.4 323.6 1142.5 321.8 C1141.6 319.9 1139.7 317.9 1139.7 316.3 C1139.7 314.6 1141.1 313.0 1142.5 312.1 C1143.9 311.2 1146.4 311.7 1148.0 310.7 C1149.6 309.8 1151.1 308.2 1152.2 306.6 C1153.2 305.0 1154.0 302.9 1154.2 301.1 C1154.5 299.2 1154.1 297.4 1153.5 295.5 C1153.0 293.7 1151.9 291.9 1150.8 290.0 C1149.6 288.2 1148.1 286.2 1146.6 284.5 C1145.2 282.8 1143.3 281.3 1141.8 279.7 C1140.3 278.1 1139.1 276.5 1137.7 274.8 C1136.3 273.2 1135.0 271.6 1133.5 270.0 C1132.0 268.4 1130.4 266.8 1128.7 265.2 C1127.0 263.6 1125.0 262.0 1123.2 260.4 C1121.3 258.7 1119.4 257.9 1117.7 255.5 C1115.9 253.1 1118.2 247.5 1112.8 245.9 C1107.4 244.2 1089.1 243.8 1085.2 245.9 Z" fill="#e8fa5b"/>
<path d="M1160.6 360.6 C1161.2 358.3 1163.2 355.9 1165.2 354.4 C1167.3 352.8 1170.2 351.7 1173.0 351.3 C1175.9 350.9 1179.3 351.3 1182.4 352.0 C1185.5 352.8 1188.9 354.0 1191.7 355.9 C1194.6 357.9 1197.4 360.9 1199.5 363.7 C1201.6 366.6 1203.7 370.2 1204.2 373.1 C1204.7 375.9 1204.2 379.0 1202.6 380.9 C1201.1 382.7 1197.7 383.7 1194.8 384.0 C1192.0 384.2 1188.6 383.2 1185.5 382.4 C1182.4 381.6 1179.3 380.6 1176.1 379.3 C1173.0 378.0 1169.3 376.4 1166.8 374.6 C1164.3 372.8 1162.4 370.7 1161.4 368.4 C1160.3 366.1 1159.9 362.9 1160.6 360.6 Z" fill="#e8fa5b"/>
<path d="M1141.9 376.2 C1142.8 374.4 1146.0 373.9 1148.1 374.6 C1150.2 375.4 1152.8 378.0 1154.3 380.9 C1155.9 383.7 1157.2 389.2 1157.5 391.8 C1157.7 394.4 1158.0 395.7 1155.9 396.4 C1153.8 397.2 1147.2 398.3 1145.0 396.4 C1142.8 394.6 1143.2 388.9 1142.7 385.5 C1142.1 382.2 1141.0 378.0 1141.9 376.2 Z" fill="#e8fa5b"/>
<path d="M1139.4 300.2 C1141.1 299.9 1147.7 305.3 1151.3 308.7 C1155.0 312.1 1158.4 316.9 1161.5 320.5 C1164.6 324.2 1167.4 327.6 1170.0 330.7 C1172.5 333.8 1176.5 336.7 1176.8 339.2 C1177.1 341.7 1173.7 343.4 1171.7 346.0 C1169.7 348.5 1166.6 351.4 1164.9 354.5 C1163.2 357.6 1163.2 363.2 1161.5 364.7 C1159.8 366.1 1156.1 364.7 1154.7 363.0 C1153.3 361.3 1153.2 357.3 1153.0 354.5 C1152.9 351.6 1154.0 348.8 1153.9 346.0 C1153.7 343.2 1153.2 340.3 1152.2 337.5 C1151.2 334.7 1149.2 331.9 1147.9 329.0 C1146.7 326.2 1145.7 323.7 1144.5 320.5 C1143.4 317.4 1142.0 313.8 1141.1 310.4 C1140.3 307.0 1137.8 300.5 1139.4 300.2 Z" fill="#e8fa5b"/>
<path d="M1137.9 308.8 C1138.9 306.7 1145.9 312.9 1149.2 316.9 C1152.4 321.0 1155.4 327.2 1157.3 333.1 C1159.2 339.0 1161.6 349.8 1160.5 352.5 C1159.4 355.2 1153.8 353.0 1150.8 349.3 C1147.8 345.5 1144.9 336.6 1142.7 329.9 C1140.5 323.1 1136.8 311.0 1137.9 308.8 Z" fill="#e8fa5b"/>
<path d="M830.0 126.0 L1400.0 126.0 L1400.0 152.2 L830.0 152.2 Z" fill="#97b6e1"/>
<g transform="translate(760.0 0)">
<path d="M233.8 135.5 L242.1 150.7 L244.8 161.7 L249.7 170.0 L253.1 176.9 L256.6 185.2 L261.4 194.9 L265.5 204.5 L269.7 214.2 L273.1 221.8 L275.2 226.6 L278.7 234.9 L281.4 244.6 L282.4 251.5 L280.7 258.4 L282.8 263.2 L287.6 266.6 L297.3 268.0 L308.3 268.0 L316.6 254.2 L302.8 219.7 L275.2 185.2 L254.5 143.8 Z" fill="#97b6e1"/>
<path d="M284.5 261.7 L290.0 270.7 L296.9 277.6 L305.2 286.2 L312.1 293.1 L319.7 301.3 L324.5 308.0 L328.0 312.8 L333.5 316.0 L335.6 323.8 L339.7 331.4 L345.2 338.3 L352.1 340.0 L360.4 345.2 L368.7 352.8 L377.7 353.8 L381.1 359.0 L383.2 366.6 L388.0 364.6 L394.2 360.4 L393.5 354.9 L374.2 319.0 L332.8 277.6 L305.2 256.9 Z" fill="#97b6e1"/>
<path d="M282.1 171.4 L330.4 175.5 L371.8 226.6 L376.0 270.0 L324.9 270.0 L316.6 240.4 L282.1 199.0 Z" fill="#97b6e1"/>
<path d="M354.9 247.2 L359.0 259.7 L367.3 266.6 L370.1 270.7 L372.8 276.2 L377.0 281.7 L382.5 285.9 L386.0 291.4 L386.6 296.9 L390.5 308.7 L396.4 317.1 L404.9 325.6 L413.4 332.4 L418.5 340.9 L427.0 349.4 L435.4 357.9 L443.9 364.7 L450.7 371.4 L451.6 381.6 L450.7 388.4 L457.5 391.8 L462.6 398.6 L462.6 405.4 L466.8 409.6 L476.2 408.8 L472.8 374.8 L438.8 332.4 L404.9 298.5 L374.2 250.0 Z" fill="#97b6e1"/>
<path d="M327.0 247.2 L330.9 258.3 L335.7 267.9 L343.0 276.2 L348.0 284.5 L354.9 291.4 L358.2 295.5 L357.7 301.3 L363.7 310.7 L368.4 319.0 L371.6 324.5 L370.6 328.7 L375.3 332.8 L379.3 339.4 L384.2 337.8 L388.0 341.6 L391.1 349.4 L393.5 357.7 L394.0 362.1 L382.5 360.4 L367.3 325.9 L346.6 291.4 L325.2 247.2 Z" fill="#97b6e1"/>
<path d="M600.0 250.0 L630.0 250.0 L630.0 420.0 L600.0 420.0 Z" fill="#97b6e1"/>
<path d="M623.3 335.9 C621.7 337.4 620.5 342.1 619.4 344.8 C618.3 347.5 617.2 348.6 616.5 351.9 C615.9 355.2 615.6 360.5 615.5 364.3 C615.4 368.2 615.4 371.7 615.8 375.0 C616.2 378.2 616.7 380.6 618.0 383.9 C619.2 387.2 621.5 393.0 623.3 394.9 C625.1 396.7 627.7 404.7 628.6 394.9 C629.5 385.1 629.5 345.7 628.6 335.9 C627.7 326.1 624.8 334.4 623.3 335.9 Z" fill="#e8fa5b"/>
<path d="M302.0 213.3 C302.4 211.6 304.1 209.3 305.5 208.5 C306.8 207.7 308.9 207.7 310.3 208.5 C311.7 209.3 312.8 211.4 313.7 213.3 C314.7 215.3 314.7 218.4 315.8 220.2 C317.0 222.1 318.9 223.1 320.6 224.4 C322.4 225.6 324.6 226.4 326.2 227.8 C327.8 229.2 328.9 230.9 330.3 232.6 C331.7 234.4 333.3 236.1 334.5 238.2 C335.6 240.2 336.1 243.0 337.2 245.1 C338.4 247.1 339.5 249.0 341.4 250.6 C343.2 252.2 346.0 253.4 348.3 254.7 C350.6 256.1 352.9 257.5 355.2 258.9 C357.5 260.3 360.0 261.8 362.1 263.0 C364.1 264.3 365.7 265.2 367.6 266.5 C369.4 267.7 372.0 268.0 373.1 270.6 C374.3 273.3 379.8 280.4 374.5 282.3 C369.2 284.3 347.6 284.6 341.4 282.3 C335.1 280.0 338.6 272.0 337.2 268.5 C335.8 265.1 334.5 263.9 333.1 261.6 C331.7 259.3 330.5 257.3 328.9 254.7 C327.3 252.2 325.2 249.0 323.4 246.5 C321.6 243.9 319.7 241.8 317.9 239.5 C316.0 237.2 314.2 234.9 312.4 232.6 C310.5 230.3 308.3 228.0 306.8 225.7 C305.3 223.4 304.2 220.9 303.4 218.8 C302.6 216.8 301.7 215.0 302.0 213.3 Z" fill="#e8fa5b"/>
<path d="M234.0 135.4 L235.8 137.7 L237.1 140.4 L239.4 142.5 L240.7 145.2 L242.2 147.9 L243.9 150.5 L244.5 152.8 L246.0 154.6 L246.5 156.9 L247.8 158.8 L248.7 160.8 L249.7 163.6 L250.7 166.3 L252.6 168.2 L253.6 170.4 L254.4 172.8 L254.9 175.0 L256.1 177.0 L259.4 179.7 L258.2 184.1 L260.5 185.9 L261.1 188.6 L263.0 190.6 L264.3 192.9 L265.5 195.1 L266.4 197.6 L266.7 200.0 L268.1 202.1 L268.5 204.6 L269.8 206.7 L271.5 208.6 L272.2 210.8 L273.6 212.7 L274.3 215.5 L274.8 218.2 L275.8 222.4 L278.4 223.5 L280.8 224.8 L283.0 226.3 L285.4 227.4 L287.8 228.5 L289.3 230.5 L291.2 232.1 L293.4 233.4 L294.5 235.4 L295.9 237.2 L296.9 239.3 L298.5 241.5 L300.3 243.5 L301.0 246.2 L303.3 248.5 L304.6 251.4 L305.3 254.0 L307.1 256.3 L306.8 258.7 L306.5 261.2 L305.7 256.9 L305.1 259.8 L304.9 262.6 L302.4 262.7 L300.1 263.6 L297.6 263.6 L294.5 263.6 L291.4 263.4 L288.5 263.0 L285.3 262.7 L287.1 264.8 L289.4 266.5 L291.6 268.4 L294.5 269.7 L295.7 272.0 L297.5 273.9 L299.1 275.7 L301.1 277.1 L303.3 278.1 L305.3 279.6 L307.2 281.2 L309.6 282.0 L311.2 283.6 L313.2 284.6 L314.7 285.8 L316.8 284.9 L319.2 284.7 L322.4 281.4 L323.0 283.7 L323.5 286.1 L325.1 288.4 L327.6 289.7 L329.2 291.4 L330.9 292.8 L332.6 294.5 L334.4 295.8 L336.3 297.2 L338.5 298.2 L340.1 301.0 L341.9 303.8 L342.1 306.3 L342.7 308.6 L344.2 310.8 L343.7 313.1 L343.2 315.4 L342.8 317.7 L341.5 320.4 L340.3 323.1 L339.6 326.4 L342.6 327.5 L345.3 329.3 L347.1 331.0 L348.7 332.9 L351.9 332.9 L354.8 334.6 L357.0 336.4 L359.0 338.4 L360.8 339.9 L363.0 340.7 L364.3 342.8 L366.2 344.1 L368.0 345.6 L369.9 346.9 L372.0 348.1 L373.8 349.8 L376.0 351.2 L376.9 353.9 L378.8 356.1 L379.8 358.9 L380.7 361.6 L383.0 364.5 L385.5 363.3 L387.7 361.7 L389.6 359.8 L391.5 358.3 L391.7 355.5 L392.3 352.9 L390.8 351.3 L390.3 348.9 L388.8 347.3 L387.3 344.3 L386.4 341.3 L384.7 338.5 L382.5 340.6 L378.2 340.3 L376.0 338.2 L375.4 335.4 L374.2 332.9 L371.4 332.1 L368.9 328.6 L370.0 324.7 L368.7 321.9 L367.1 319.2 L366.2 316.7 L364.2 315.0 L363.1 313.0 L362.9 310.5 L360.8 308.0 L358.7 305.4 L357.7 303.3 L355.8 301.3 L356.7 298.6 L357.5 295.5 L355.6 293.4 L353.6 291.2 L351.4 290.4 L349.5 289.0 L347.8 286.9 L346.9 284.4 L345.3 280.3 L343.7 278.1 L341.6 276.3 L339.8 274.3 L338.6 271.8 L336.6 269.6 L334.5 267.7 L333.1 265.7 L331.8 263.7 L330.6 260.9 L329.1 258.3 L328.7 254.1 L326.8 252.2 L325.7 249.8 L326.7 251.8 L327.5 253.9 L328.6 255.9 L329.2 258.1 L330.0 260.2 L331.5 262.0 L332.1 264.2 L333.0 266.3 L335.0 267.7 L333.1 266.3 L331.6 264.5 L330.1 262.6 L329.4 259.8 L328.7 257.1 L328.2 254.6 L327.6 252.2 L326.6 249.9 L324.9 248.3 L323.7 246.3 L322.3 244.3 L320.0 243.5 L318.6 241.7 L317.0 240.2 L315.5 237.5 L314.1 234.7 L312.5 233.2 L310.8 231.7 L310.0 229.5 L308.2 228.1 L306.7 225.9 L305.0 224.0 L302.7 222.5 L301.3 220.7 L300.4 218.5 L298.9 216.9 L297.4 214.8 L296.5 212.5 L295.5 210.1 L295.9 207.7 L295.3 205.4 L294.2 203.3 L294.2 200.8 L293.7 198.4 L292.6 196.2 L291.6 194.0 L291.1 191.6 L290.0 189.3 L290.2 186.2 L291.4 183.5 L293.3 181.2 L291.5 179.1 L289.3 177.2 L291.5 179.1 L293.0 181.7 L295.6 182.8 L298.7 182.8 L301.0 183.0 L303.3 183.2 L305.4 183.4 L307.2 181.9 L309.9 182.3 L311.9 184.5 L314.0 186.2 L316.4 188.4 L319.4 189.2 L321.8 190.3 L324.1 191.4 L323.6 194.5 L323.9 197.6 L324.4 200.1 L325.9 202.2 L326.9 204.5 L327.9 206.8 L329.3 208.9 L329.8 211.4 L331.0 213.6 L332.1 215.8 L332.2 218.5 L334.0 220.5 L334.8 222.9 L335.7 225.3 L336.8 227.3 L338.0 229.3 L338.7 231.5 L340.0 233.2 L341.2 234.9 L341.9 237.7 L341.4 240.5 L343.4 241.6 L345.1 243.0 L346.4 245.4 L348.4 247.3 L350.4 249.4 L352.3 251.7 L354.3 253.9 L356.7 255.6 L357.9 257.7 L359.4 259.8 L362.2 260.1 L364.9 260.6 L367.2 260.8 L369.5 261.4 L371.9 261.8 L371.7 263.0 L371.6 265.5 L371.1 268.0 L371.7 270.8 L373.0 273.3 L374.6 274.9 L376.2 276.6 L378.2 277.9 L381.0 278.6 L383.5 280.1 L385.0 283.1 L386.8 285.4 L389.5 286.3 L392.5 286.9 L394.1 289.5 L396.0 291.5 L397.0 293.7 L398.6 295.9 L395.8 296.7 L393.4 298.3 L393.2 301.2 L391.9 304.1 L393.9 306.3 L396.4 307.7 L398.8 309.8 L401.9 310.6 L404.1 312.1 L406.2 314.0 L408.5 315.2 L411.2 315.9 L413.4 317.6 L415.6 319.0 L417.4 320.7 L419.1 322.5 L420.6 324.4 L422.0 327.4 L424.2 329.6 L426.0 331.5 L428.1 332.8 L429.9 334.3 L431.0 336.4 L432.1 338.5 L434.3 339.7 L436.7 340.8 L437.3 343.3 L438.8 345.0 L440.1 346.9 L442.2 348.1 L443.4 349.9 L445.0 351.5 L445.7 353.4 L445.4 356.0 L447.3 357.8 L448.9 359.8 L450.5 362.1 L452.8 363.4 L455.4 364.3 L457.9 365.7 L458.6 368.4 L460.3 370.5 L461.5 372.8 L462.7 375.5 L463.1 378.2 L463.0 381.2 L464.9 383.8 L467.0 386.3 L467.6 388.7 L469.2 390.4 L470.4 392.1 L470.9 394.5 L469.9 396.7 L470.5 399.2 L468.3 401.6 L467.3 404.5 L468.8 406.9 L470.0 409.3 L467.9 411.7 L465.6 412.7 L463.5 412.9 L462.4 415.6 L463.8 417.7 L465.1 420.0 L466.2 422.3 L467.7 424.0 L468.9 426.0 L470.2 427.9 L471.6 429.7 L472.6 431.9 L474.3 433.3 L476.6 435.2 L479.1 436.6 L482.2 437.8 L485.4 438.6 L488.1 440.2 L491.1 441.4 L492.4 443.8 L494.4 445.5 L496.5 447.1 L497.7 449.0 L498.6 451.1 L500.7 452.2 L501.6 454.5 L504.5 455.3 L507.1 456.4 L509.6 457.9 L512.0 458.2 L514.2 459.0 L516.3 459.9 L518.4 461.0 L520.8 461.1 L523.0 462.3 L525.2 462.5 L527.5 462.7 L530.8 461.3 L534.2 464.1 L536.1 466.1 L537.5 468.2 L540.3 469.5 L542.7 471.6 L545.2 472.8 L547.4 474.3 L549.7 475.2 L551.6 476.8 L553.8 477.8 L556.1 478.3 L558.4 478.7 L560.7 479.4 L562.8 480.3 L565.0 481.4 L567.4 482.1 L569.4 484.3 L571.6 486.0 L573.7 487.0 L576.0 487.3 L578.8 487.1 L581.6 487.1 L583.6 488.7 L585.9 488.8 L589.4 488.9 L591.3 490.3 L592.6 492.2 L594.8 493.7 L597.0 495.1 L599.8 495.3 L602.5 496.2 L605.0 497.1 L607.1 498.8 L609.2 500.7 L611.9 501.3 L614.7 501.2 L616.9 501.2 L619.1 501.5 L621.9 502.4 L624.6 503.8 L626.0 503.7 L626.0 501.5 L625.9 499.3 L625.9 497.1 L625.8 494.9 L625.8 492.7 L625.7 490.5 L625.7 488.2 L625.6 486.0 L625.6 483.8 L625.6 481.6 L625.5 479.4 L625.5 477.2 L625.4 475.0 L625.4 472.8 L625.3 470.6 L625.3 468.4 L625.2 466.2 L625.2 464.0 L625.2 461.8 L625.1 459.5 L625.1 457.3 L625.0 455.1 L625.0 452.9 L624.9 450.7 L624.9 448.5 L624.8 446.3 L624.8 444.1 L624.8 441.9 L624.7 439.7 L624.7 437.5 L624.6 435.3 L624.6 433.0 L624.5 430.8 L624.5 428.6 L624.4 426.4 L624.4 424.2 L624.4 422.0 L624.3 419.8 L624.3 417.6 L624.2 415.4 L624.2 413.2 L621.8 410.4 L620.8 408.2 L620.0 406.0 L619.2 403.7 L617.8 401.7 L616.7 399.5 L616.2 397.0 L614.3 395.1 L613.7 392.7 L612.8 390.5 L611.3 388.5 L611.2 386.0 L610.4 383.8 L609.5 381.5 L609.0 379.1 L608.5 376.8 L607.8 374.5 L608.2 372.3 L608.2 370.1 L608.6 367.9 L608.6 365.4 L608.8 362.9 L608.6 360.4 L609.0 358.0 L608.9 355.5 L609.1 353.0 L608.7 350.5 L608.6 348.0 L608.9 345.5 L609.3 343.0 L609.4 340.5 L610.5 338.1 L610.6 335.6 L611.0 333.1 L611.3 330.6 L612.0 328.0 L612.4 325.3 L612.4 322.5 L613.8 320.1 L614.7 317.8 L615.3 315.5 L616.2 313.3 L617.2 311.1 L617.5 308.7 L619.1 306.7 L619.5 304.3 L620.2 302.1 L621.3 298.7 L621.4 296.1 L620.5 293.7 L620.7 291.1 L620.6 288.6 L619.7 286.2 L619.1 283.5 L618.6 280.9 L618.3 278.1 L617.9 275.6 L618.0 272.9 L618.4 270.2 L618.1 267.5 L618.5 264.7 L619.9 262.6 L621.7 260.7 L622.7 258.4 L624.2 256.4 L626.0 256.0 L626.0 253.8 L626.0 251.6 L626.0 249.3 L626.0 247.1 L626.0 244.9 L626.0 242.7 L626.0 240.5 L626.0 238.3 L626.0 236.0 L626.0 233.8 L626.0 231.6 L626.0 229.4 L626.0 227.2 L626.0 224.9 L626.0 222.7 L626.0 220.5 L626.0 218.3 L626.0 216.1 L626.0 213.9 L626.0 211.6 L626.0 209.4 L626.0 207.2 L626.0 205.0 L626.0 202.8 L626.0 200.5 L626.0 198.3 L626.0 196.1 L626.0 193.9 L626.0 191.7 L626.0 189.5 L626.0 187.2 L626.0 185.0 L626.0 182.8 L626.0 180.6 L626.0 178.4 L626.0 176.1 L626.0 173.9 L626.0 171.7 L626.0 169.5 L626.0 167.3 L626.0 165.1 L626.0 162.8 L626.0 160.6 L626.0 158.4 L626.0 156.2 L626.0 154.0 L626.0 151.7 L626.0 149.5 L626.0 147.3 L626.0 145.1 L626.0 142.9 L626.0 140.7 L626.0 138.4 L626.0 136.2 L626.0 134.0 L623.8 134.0 L621.6 134.0 L619.4 134.0 L617.2 134.0 L615.0 134.0 L612.8 134.0 L610.6 134.0 L608.4 134.0 L606.2 134.0 L604.0 134.0 L601.8 134.0 L599.6 134.0 L597.4 134.0 L595.2 134.0 L593.0 134.0 L590.8 134.0 L588.6 134.0 L586.4 134.0 L584.2 134.0 L582.0 134.0 L579.8 134.0 L577.6 134.0 L575.3 134.0 L573.1 134.0 L570.9 134.0 L568.7 134.0 L566.5 134.0 L564.3 134.0 L562.1 134.0 L559.9 134.0 L557.7 134.0 L555.5 134.0 L553.3 134.0 L551.1 134.0 L548.9 134.0 L546.7 134.0 L544.5 134.0 L542.3 134.0 L540.1 134.0 L537.9 134.0 L535.7 134.0 L533.5 134.0 L531.3 134.0 L529.1 134.0 L526.9 134.0 L524.7 134.0 L522.5 134.0 L520.3 134.0 L518.1 134.0 L515.9 134.0 L513.7 134.0 L511.5 134.0 L509.3 134.0 L507.1 134.0 L504.9 134.0 L502.7 134.0 L500.5 134.0 L498.3 134.0 L496.1 134.0 L493.9 134.0 L491.7 134.0 L489.5 134.0 L487.3 134.0 L485.1 134.0 L482.9 134.0 L480.7 134.0 L478.4 134.0 L476.2 134.0 L474.0 134.0 L471.8 134.0 L469.6 134.0 L467.4 134.0 L465.2 134.0 L463.0 134.0 L460.8 134.0 L458.6 134.0 L456.4 134.0 L454.2 134.0 L452.0 134.0 L449.8 134.0 L447.6 134.0 L445.4 134.0 L443.2 134.0 L441.0 134.0 L438.8 134.0 L436.6 134.0 L434.4 134.0 L432.2 134.0 L430.0 134.0 L427.8 134.0 L425.6 134.0 L423.4 134.0 L421.2 134.0 L419.0 134.0 L416.8 134.0 L414.6 134.0 L412.4 134.0 L410.2 134.0 L408.0 134.0 L405.8 134.0 L403.6 134.0 L401.4 134.0 L399.2 134.0 L397.0 134.0 L394.8 134.0 L392.6 134.0 L390.4 134.0 L388.2 134.0 L386.0 134.0 L383.8 134.0 L381.6 134.0 L379.3 134.0 L377.1 134.0 L374.9 134.0 L372.7 134.0 L370.5 134.0 L368.3 134.0 L366.1 134.0 L363.9 134.0 L361.7 134.0 L359.5 134.0 L357.3 134.0 L355.1 134.0 L352.9 134.0 L350.7 134.0 L348.5 134.0 L346.3 134.0 L344.1 134.0 L341.9 134.0 L339.7 134.0 L337.5 134.0 L335.3 134.0 L333.1 134.0 L330.9 134.0 L328.7 134.0 L326.5 134.0 L324.3 134.0 L322.1 134.0 L319.9 134.0 L317.7 134.0 L315.5 134.0 L313.3 134.0 L311.1 134.0 L308.9 134.0 L306.7 134.0 L304.5 134.0 L302.3 134.0 L300.1 134.0 L297.9 134.0 L295.7 134.0 L293.5 134.0 L291.3 134.0 L289.1 134.0 L286.9 134.0 L284.7 134.0 L282.4 134.0 L280.2 134.0 L278.0 134.0 L275.8 134.0 L273.6 134.0 L271.4 134.0 L269.2 134.0 L267.0 134.0 L264.8 134.0 L262.6 134.0 L260.4 134.0 L258.2 134.0 L256.0 134.0 L253.8 134.0 L251.6 134.0 L249.4 134.0 L247.2 134.0 L245.0 134.0 L242.8 134.0 L240.6 134.0 L238.4 134.0 L236.2 134.0 L234.5 134.1 Z" fill="#d2b48c" stroke="#000" stroke-width="2.3" stroke-linejoin="round"/>
<path d="M619.5 258l-5 6 -5 3 4 5 -2 8 4 6 1 8 2 6 1-8 -1-10 -1-9 1-8zM612.5 313l-4 5 -1 8 -2 7 1 8 2-6 2-9 2-7z M609.5 379l2 9 5 9 3 6 -1-8 -4-8z" fill="#1a1a1a" stroke="#000" stroke-width="1.2" stroke-linejoin="round"/>
<path d="M304.5 262l3 4 -3 3 -3-3z" fill="#000" stroke="#000" stroke-width="2"/>
<path d="M293.8 159.0 C293.0 159.9 290.5 162.4 289.0 164.5 C287.5 166.6 284.8 169.3 284.9 171.4 C285.0 173.5 288.9 176.0 289.7 176.9" fill="none" stroke="#97b6e1" stroke-width="1.5" stroke-linejoin="round"/>
<path d="M297.3 159.0 C299.1 158.5 304.7 157.1 308.3 156.2 C312.0 155.3 315.9 154.4 319.4 153.5 C322.8 152.5 327.0 151.9 329.0 150.7 C331.1 149.6 330.9 147.6 331.8 146.6 C332.7 145.5 332.5 144.4 334.6 144.5 C336.6 144.6 340.3 146.0 344.2 147.3 C348.1 148.5 354.3 151.2 358.0 151.8 C361.7 152.4 364.0 151.2 366.3 150.7 C368.6 150.2 369.8 148.6 371.8 148.6 C373.9 148.6 376.4 149.7 378.7 150.7 C381.0 151.7 383.3 154.4 385.6 154.8 C387.9 155.3 390.7 153.3 392.5 153.5 C394.4 153.6 394.8 154.5 396.7 155.5 C398.5 156.6 401.5 159.6 403.6 159.7 C405.6 159.8 407.5 157.7 409.1 156.2 C410.7 154.7 412.0 152.5 413.2 150.7 C414.5 148.9 416.3 146.9 416.7 145.2 C417.1 143.5 415.9 141.2 415.7 140.4" fill="none" stroke="#97b6e1" stroke-width="1.5" stroke-linejoin="round"/>
<path d="M437.6 135.9 C436.9 138.4 433.5 147.1 433.0 151.2 C432.5 155.2 433.0 156.8 434.6 160.3 C436.1 163.9 440.4 169.5 442.2 172.6 C444.0 175.6 444.8 177.7 445.3 178.7" fill="none" stroke="#97b6e1" stroke-width="1.5" stroke-linejoin="round"/>
<path d="M537.0 140.5 C538.3 141.5 541.1 144.3 544.6 146.6 C548.2 148.9 554.8 153.7 558.4 154.2 C562.0 154.7 564.0 151.7 566.1 149.6 C568.1 147.6 568.6 143.8 570.6 142.0 C572.7 140.2 575.5 138.4 578.3 138.9 C581.1 139.4 584.4 142.5 587.5 145.0 C590.5 147.6 593.6 151.4 596.6 154.2 C599.7 157.0 602.8 158.8 605.8 161.9 C608.9 164.9 612.0 168.5 615.0 172.6 C617.9 176.6 622.1 184.0 623.5 186.3" fill="none" stroke="#97b6e1" stroke-width="1.5" stroke-linejoin="round"/>
<path d="M467.3 388.0 C468.0 387.7 469.8 386.7 471.4 386.6 C473.0 386.5 475.4 387.4 476.9 387.3 C478.4 387.2 479.2 385.1 480.4 385.9 C481.5 386.7 482.6 390.2 483.8 392.1 C485.1 394.1 486.4 396.5 488.0 397.6 C489.6 398.8 491.9 398.2 493.5 399.0 C495.1 399.8 496.0 402.1 497.6 402.5 C499.2 402.8 501.7 400.3 503.2 401.1 C504.6 401.9 505.5 405.3 506.6 407.3 C507.8 409.3 508.6 411.7 510.1 412.8 C511.6 414.0 514.5 413.3 515.6 414.2 C516.6 415.1 517.9 417.8 516.3 418.3 C514.7 418.8 507.6 417.4 505.9 417.2" fill="none" stroke="#97b6e1" stroke-width="1.5" stroke-linejoin="round"/>
<path d="M561.1 380.4 C562.3 381.1 566.0 383.0 568.0 384.5 C570.1 386.0 571.2 388.7 573.5 389.4 C575.8 390.0 579.1 389.6 581.8 388.7 C584.6 387.7 587.1 385.0 590.1 383.8 C593.1 382.7 596.7 382.8 599.8 381.8 C602.9 380.7 607.2 378.3 608.7 377.6" fill="none" stroke="#97b6e1" stroke-width="1.5" stroke-linejoin="round"/>
<path d="M449.8 183.3 C451.9 185.1 458.0 190.7 462.1 194.0 C466.2 197.3 471.5 200.1 474.3 203.1 C477.1 206.2 477.4 209.0 478.9 212.3 C480.4 215.6 480.7 219.7 483.5 223.0 C486.3 226.3 491.4 229.6 495.7 232.2 C500.1 234.9 506.4 239.4 509.5 238.9 C512.5 238.4 512.5 231.8 514.1 229.1 C515.6 226.5 516.6 224.4 518.7 223.0 C520.7 221.7 522.5 221.0 526.3 220.9 C530.1 220.7 537.5 220.5 541.6 222.1 C545.7 223.7 547.7 226.7 550.8 230.7 C553.8 234.6 556.9 241.1 559.9 246.0 C563.0 250.8 566.3 255.9 569.1 259.7 C571.9 263.5 575.2 265.6 576.8 268.9 C578.3 272.2 577.0 276.0 578.3 279.6 C579.6 283.2 580.8 287.2 584.4 290.3 C588.0 293.4 595.3 296.1 599.7 298.0 C604.1 299.8 607.4 300.5 610.9 301.3 C614.3 302.0 619.0 302.3 620.6 302.5" fill="none" stroke="#97b6e1" stroke-width="1.5" stroke-linejoin="round"/>
<path d="M269.5 142.5L275.5 148" stroke="#a9a9a9" stroke-width="3" stroke-linecap="round"/>
<path d="M297.3 137.2 L295.2 142.4 L294.5 146.6 L296.6 150.0 L298.7 153.5 L298.0 156.9 L293.8 159.0" fill="none" stroke="#000" stroke-width="1.4"/>
<path d="M399.4 137.0 L399.4 188.8" fill="none" stroke="#000" stroke-width="1.4"/>
<path d="M511.0 137.0 L511.0 174.1 L443.7 174.1" fill="none" stroke="#000" stroke-width="1.4"/>
<path d="M248.3 162.7 L293.2 158.3" fill="none" stroke="#000" stroke-width="1.7" stroke-dasharray="5.4 2.3"/>
<path d="M291.8 163.8 L363.5 189.4 L414.7 188.8 L414.7 179.6 L443.7 178.7 L449.8 183.3 L462.1 194.0 L474.3 203.1 L478.9 212.3 L483.5 223.0 L495.7 232.2 L509.5 238.9 L514.1 229.1 L518.7 223.0 L526.3 220.9 L541.6 222.1 L550.8 230.7 L559.9 246.0 L569.1 259.7 L576.8 268.9 L578.3 279.6 L584.4 290.3 L599.7 298.0 L610.9 301.3 L620.6 302.5" fill="none" stroke="#000" stroke-width="1.7" stroke-dasharray="5.4 2.3"/>
<ellipse cx="226.9" cy="238.5" rx="1.6" ry="4" fill="#000" transform="rotate(-8 226.9 238.5)"/>
<ellipse cx="283.8" cy="255.8" rx="1.9" ry="3.3" fill="#111" stroke="#000" stroke-width="0.8" transform="rotate(-15 283.8 255.8)"/>
<circle cx="277.3" cy="253.2" r="1.2" fill="#000"/>
<circle cx="284.8" cy="263" r="1" fill="#000"/>
<ellipse cx="204.9" cy="147" rx="2.2" ry="1.4" fill="#000" transform="rotate(25 204.9 147)"/>
<circle cx="213.3" cy="142.2" r="1.2" fill="#111"/>
<ellipse cx="223.4" cy="142.9" rx="2.4" ry="1.3" fill="#000" transform="rotate(30 223.4 142.9)"/>
<ellipse cx="224.5" cy="155.8" rx="2" ry="1.2" fill="#000"/>
<ellipse cx="318.6" cy="232.8" rx="2.0" ry="6.6" fill="none" stroke="#000" stroke-width="1.5" transform="rotate(-28 318.6 232.8)"/>
<ellipse cx="337.6" cy="239.8" rx="2.3" ry="4.8" fill="#d2b48c" stroke="#000" stroke-width="1.7" transform="rotate(8 337.6 239.8)"/>
<path d="M316 243l4 5M322 250l6 6M333.5 244.5l-1.5 2M346 273l1 1M360.5 300l2.5 4M364 307l1.5 2.5M367.5 316l1 2M370 322l1 1.5M374.5 332l1.5 3M383 337l1.5 3" stroke="#000" stroke-width="1.8" stroke-linecap="round" fill="none"/>
<path d="M443.5 387.8l1.5 1.6M446.5 391.3l1.6 1.6M450.6 395.3l1 1" stroke="#000" stroke-width="2.4" stroke-linecap="round"/>
<circle cx="458" cy="384.8" r="1" fill="#000"/>
<circle cx="363" cy="445.6" r="2.3" fill="#000"/>
<circle cx="366.6" cy="435.5" r="1.0" fill="#000"/>
<ellipse cx="293.5" cy="453.9" rx="1.6" ry="1.1" fill="#000"/>
<circle cx="396.3" cy="608" r="0.9" fill="#000"/>
<path d="M185 147.8L192.4 159.2M211.3 154.4L225.4 147" stroke="#fff" stroke-width="4.2" fill="none"/>
<path d="M166.3 128.2 L174.3 144.2 L158.3 144.2 Z" fill="#2ca02c" stroke="#000" stroke-width="1.5" stroke-linejoin="miter"/>
<path d="M194.8 155.2 L202.8 171.2 L186.8 171.2 Z" fill="#8c564b" stroke="#000" stroke-width="1.5" stroke-linejoin="miter"/>
<path d="M236.3 138.5 L244.3 154.5 L228.3 154.5 Z" fill="#d62728" stroke="#000" stroke-width="1.5" stroke-linejoin="miter"/>
<path d="M231.6 137.5 L239.6 153.5 L223.6 153.5 Z" fill="#9467bd" stroke="#000" stroke-width="1.5" stroke-linejoin="miter"/>
<path d="M595.2 529.3 L603.2 545.3 L587.2 545.3 Z" fill="#ff7f0e" stroke="#000" stroke-width="1.5" stroke-linejoin="miter"/>
<circle cx="343.0" cy="621.0" r="6.0" fill="#1f77b4" stroke="#000" stroke-width="1.4"/>
<path d="M375.0 589.8 L380.4 592.9 L380.4 599.1 L375.0 602.2 L369.6 599.1 L369.6 592.9 Z" fill="#3f8fce" stroke="#000" stroke-width="1.4" stroke-linejoin="miter"/>
<circle cx="462.0" cy="484.0" r="6.0" fill="#94c8f0" stroke="#000" stroke-width="1.4"/>
<path d="M230.0 282.8 L235.4 285.9 L235.4 292.1 L230.0 295.2 L224.6 292.1 L224.6 285.9 Z" fill="#c5e6fa" stroke="#000" stroke-width="1.4" stroke-linejoin="miter"/>
<path d="M192.0 462.7 L198.0 467.1 L195.7 474.1 L188.3 474.1 L186.0 467.1 Z" fill="#ff7f0e" stroke="#000" stroke-width="1.4" stroke-linejoin="miter"/>
<circle cx="190.0" cy="243.0" r="6.0" fill="#ff9a3a" stroke="#000" stroke-width="1.4"/>
<path d="M154.0 353.8 L159.4 356.9 L159.4 363.1 L154.0 366.2 L148.6 363.1 L148.6 356.9 Z" fill="#ffb469" stroke="#000" stroke-width="1.4" stroke-linejoin="miter"/>
<path d="M107.0 341.7 L113.0 346.1 L110.7 353.1 L103.3 353.1 L101.0 346.1 Z" fill="#ffcc99" stroke="#000" stroke-width="1.4" stroke-linejoin="miter"/>
<circle cx="193.0" cy="498.0" r="6.0" fill="#ffe0c4" stroke="#000" stroke-width="1.4"/>
<path d="M97.0 281.7 L103.0 286.1 L100.7 293.1 L93.3 293.1 L91.0 286.1 Z" fill="#47b547" stroke="#000" stroke-width="1.4" stroke-linejoin="miter"/>
<circle cx="250.0" cy="610.0" r="6.0" fill="#68cd68" stroke="#000" stroke-width="1.4"/>
<path d="M539.0 581.8 L544.4 584.9 L544.4 591.1 L539.0 594.2 L533.6 591.1 L533.6 584.9 Z" fill="#90e690" stroke="#000" stroke-width="1.4" stroke-linejoin="miter"/>
<path d="M160.0 618.7 L166.0 623.1 L163.7 630.1 L156.3 630.1 L154.0 623.1 Z" fill="#bdffbd" stroke="#000" stroke-width="1.4" stroke-linejoin="miter"/>
<circle cx="410.0" cy="638.0" r="6.0" fill="#d62728" stroke="#000" stroke-width="1.4"/>
<path d="M502.0 485.8 L507.4 488.9 L507.4 495.1 L502.0 498.2 L496.6 495.1 L496.6 488.9 Z" fill="#e0494a" stroke="#000" stroke-width="1.4" stroke-linejoin="miter"/>
<path d="M555.0 618.7 L561.0 623.1 L558.7 630.1 L551.3 630.1 L549.0 623.1 Z" fill="#ea6c6d" stroke="#000" stroke-width="1.4" stroke-linejoin="miter"/>
<circle cx="177.0" cy="614.0" r="6.0" fill="#f49494" stroke="#000" stroke-width="1.4"/>
<path d="M518.0 554.8 L523.4 557.9 L523.4 564.1 L518.0 567.2 L512.6 564.1 L512.6 557.9 Z" fill="#ffbcbc" stroke="#000" stroke-width="1.4" stroke-linejoin="miter"/>
<path d="M89.0 635.7 L95.0 640.1 L92.7 647.1 L85.3 647.1 L83.0 640.1 Z" fill="#9467bd" stroke="#000" stroke-width="1.4" stroke-linejoin="miter"/>
<circle cx="546.0" cy="503.0" r="6.0" fill="#a67fd1" stroke="#000" stroke-width="1.4"/>
<path d="M261.0 393.8 L266.4 396.9 L266.4 403.1 L261.0 406.2 L255.6 403.1 L255.6 396.9 Z" fill="#b998e3" stroke="#000" stroke-width="1.4" stroke-linejoin="miter"/>
<path d="M277.0 345.7 L283.0 350.1 L280.7 357.1 L273.3 357.1 L271.0 350.1 Z" fill="#cdb2f4" stroke="#000" stroke-width="1.4" stroke-linejoin="miter"/>
<circle cx="435.0" cy="560.0" r="6.0" fill="#e2cbff" stroke="#000" stroke-width="1.4"/>
</g>
</g>
<rect x="844.8" y="137.3" width="538.7" height="513.8" fill="none" stroke="#000" stroke-width="1.1"/>
<path d="M844.8 137.3v-9M844.8 651.1v9" stroke="#000" stroke-width="2.8"/>
<path d="M863.4 137.3v-3.6M863.4 651.1v3.6" stroke="#000" stroke-width="1.4"/>
<path d="M882.0 137.3v-3.6M882.0 651.1v3.6" stroke="#000" stroke-width="1.4"/>
<path d="M900.5 137.3v-9M900.5 651.1v9" stroke="#000" stroke-width="2.8"/>
<path d="M919.1 137.3v-3.6M919.1 651.1v3.6" stroke="#000" stroke-width="1.4"/>
<path d="M937.7 137.3v-3.6M937.7 651.1v3.6" stroke="#000" stroke-width="1.4"/>
<path d="M956.3 137.3v-9M956.3 651.1v9" stroke="#000" stroke-width="2.8"/>
<path d="M974.8 137.3v-3.6M974.8 651.1v3.6" stroke="#000" stroke-width="1.4"/>
<path d="M993.4 137.3v-3.6M993.4 651.1v3.6" stroke="#000" stroke-width="1.4"/>
<path d="M1012.0 137.3v-9M1012.0 651.1v9" stroke="#000" stroke-width="2.8"/>
<path d="M1030.6 137.3v-3.6M1030.6 651.1v3.6" stroke="#000" stroke-width="1.4"/>
<path d="M1049.1 137.3v-3.6M1049.1 651.1v3.6" stroke="#000" stroke-width="1.4"/>
<path d="M1067.7 137.3v-9M1067.7 651.1v9" stroke="#000" stroke-width="2.8"/>
<path d="M1086.3 137.3v-3.6M1086.3 651.1v3.6" stroke="#000" stroke-width="1.4"/>
<path d="M1104.9 137.3v-3.6M1104.9 651.1v3.6" stroke="#000" stroke-width="1.4"/>
<path d="M1123.4 137.3v-9M1123.4 651.1v9" stroke="#000" stroke-width="2.8"/>
<path d="M1142.0 137.3v-3.6M1142.0 651.1v3.6" stroke="#000" stroke-width="1.4"/>
<path d="M1160.6 137.3v-3.6M1160.6 651.1v3.6" stroke="#000" stroke-width="1.4"/>
<path d="M1179.2 137.3v-9M1179.2 651.1v9" stroke="#000" stroke-width="2.8"/>
<path d="M1197.7 137.3v-3.6M1197.7 651.1v3.6" stroke="#000" stroke-width="1.4"/>
<path d="M1216.3 137.3v-3.6M1216.3 651.1v3.6" stroke="#000" stroke-width="1.4"/>
<path d="M1234.9 137.3v-9M1234.9 651.1v9" stroke="#000" stroke-width="2.8"/>
<path d="M1253.5 137.3v-3.6M1253.5 651.1v3.6" stroke="#000" stroke-width="1.4"/>
<path d="M1272.0 137.3v-3.6M1272.0 651.1v3.6" stroke="#000" stroke-width="1.4"/>
<path d="M1290.6 137.3v-9M1290.6 651.1v9" stroke="#000" stroke-width="2.8"/>
<path d="M1309.2 137.3v-3.6M1309.2 651.1v3.6" stroke="#000" stroke-width="1.4"/>
<path d="M1327.8 137.3v-3.6M1327.8 651.1v3.6" stroke="#000" stroke-width="1.4"/>
<path d="M1346.4 137.3v-9M1346.4 651.1v9" stroke="#000" stroke-width="2.8"/>
<path d="M1364.9 137.3v-3.6M1364.9 651.1v3.6" stroke="#000" stroke-width="1.4"/>
<path d="M1383.5 137.3v-3.6M1383.5 651.1v3.6" stroke="#000" stroke-width="1.4"/>
<path d="M844.8 652.1h-3.6M1383.5 652.1h3.6" stroke="#000" stroke-width="1.4"/>
<path d="M844.8 633.4h-9M1383.5 633.4h9" stroke="#000" stroke-width="2.8"/>
<path d="M844.8 614.6h-3.6M1383.5 614.6h3.6" stroke="#000" stroke-width="1.4"/>
<path d="M844.8 595.8h-3.6M1383.5 595.8h3.6" stroke="#000" stroke-width="1.4"/>
<path d="M844.8 577.0h-9M1383.5 577.0h9" stroke="#000" stroke-width="2.8"/>
<path d="M844.8 558.0h-3.6M1383.5 558.0h3.6" stroke="#000" stroke-width="1.4"/>
<path d="M844.8 539.0h-3.6M1383.5 539.0h3.6" stroke="#000" stroke-width="1.4"/>
<path d="M844.8 519.9h-9M1383.5 519.9h9" stroke="#000" stroke-width="2.8"/>
<path d="M844.8 500.7h-3.6M1383.5 500.7h3.6" stroke="#000" stroke-width="1.4"/>
<path d="M844.8 481.4h-3.6M1383.5 481.4h3.6" stroke="#000" stroke-width="1.4"/>
<path d="M844.8 462.0h-9M1383.5 462.0h9" stroke="#000" stroke-width="2.8"/>
<path d="M844.8 442.5h-3.6M1383.5 442.5h3.6" stroke="#000" stroke-width="1.4"/>
<path d="M844.8 422.9h-3.6M1383.5 422.9h3.6" stroke="#000" stroke-width="1.4"/>
<path d="M844.8 403.2h-9M1383.5 403.2h9" stroke="#000" stroke-width="2.8"/>
<path d="M844.8 383.3h-3.6M1383.5 383.3h3.6" stroke="#000" stroke-width="1.4"/>
<path d="M844.8 363.3h-3.6M1383.5 363.3h3.6" stroke="#000" stroke-width="1.4"/>
<path d="M844.8 343.1h-9M1383.5 343.1h9" stroke="#000" stroke-width="2.8"/>
<path d="M844.8 322.8h-3.6M1383.5 322.8h3.6" stroke="#000" stroke-width="1.4"/>
<path d="M844.8 302.3h-3.6M1383.5 302.3h3.6" stroke="#000" stroke-width="1.4"/>
<path d="M844.8 281.6h-9M1383.5 281.6h9" stroke="#000" stroke-width="2.8"/>
<path d="M844.8 260.8h-3.6M1383.5 260.8h3.6" stroke="#000" stroke-width="1.4"/>
<path d="M844.8 239.7h-3.6M1383.5 239.7h3.6" stroke="#000" stroke-width="1.4"/>
<path d="M844.8 218.5h-9M1383.5 218.5h9" stroke="#000" stroke-width="2.8"/>
<path d="M844.8 197.0h-3.6M1383.5 197.0h3.6" stroke="#000" stroke-width="1.4"/>
<path d="M844.8 175.3h-3.6M1383.5 175.3h3.6" stroke="#000" stroke-width="1.4"/>
<path d="M844.8 153.4h-9M1383.5 153.4h9" stroke="#000" stroke-width="2.8"/>
<text x="1398.4" y="641.9" text-anchor="start" class="tk" textLength="43.3" lengthAdjust="spacingAndGlyphs">9°N</text>
<text x="1398.4" y="585.5" text-anchor="start" class="tk" textLength="57.0" lengthAdjust="spacingAndGlyphs">12°N</text>
<text x="1398.4" y="528.4" text-anchor="start" class="tk" textLength="57.0" lengthAdjust="spacingAndGlyphs">15°N</text>
<text x="1398.4" y="470.5" text-anchor="start" class="tk" textLength="57.0" lengthAdjust="spacingAndGlyphs">18°N</text>
<text x="1398.4" y="411.7" text-anchor="start" class="tk" textLength="57.0" lengthAdjust="spacingAndGlyphs">21°N</text>
<text x="1398.4" y="351.6" text-anchor="start" class="tk" textLength="57.0" lengthAdjust="spacingAndGlyphs">24°N</text>
<text x="1398.4" y="290.1" text-anchor="start" class="tk" textLength="57.0" lengthAdjust="spacingAndGlyphs">27°N</text>
<text x="1398.4" y="227.0" text-anchor="start" class="tk" textLength="57.0" lengthAdjust="spacingAndGlyphs">30°N</text>
<text x="1398.4" y="161.9" text-anchor="start" class="tk" textLength="57.0" lengthAdjust="spacingAndGlyphs">33°N</text>
<text transform="translate(843.3 701.5) rotate(-45)" x="0" y="8.4" text-anchor="middle" class="tk" textLength="77.0" lengthAdjust="spacingAndGlyphs">126°W</text>
<text transform="translate(899.0 701.5) rotate(-45)" x="0" y="8.4" text-anchor="middle" class="tk" textLength="77.0" lengthAdjust="spacingAndGlyphs">123°W</text>
<text transform="translate(954.8 701.5) rotate(-45)" x="0" y="8.4" text-anchor="middle" class="tk" textLength="77.0" lengthAdjust="spacingAndGlyphs">120°W</text>
<text transform="translate(1010.5 701.5) rotate(-45)" x="0" y="8.4" text-anchor="middle" class="tk" textLength="77.0" lengthAdjust="spacingAndGlyphs">117°W</text>
<text transform="translate(1066.2 701.5) rotate(-45)" x="0" y="8.4" text-anchor="middle" class="tk" textLength="77.0" lengthAdjust="spacingAndGlyphs">114°W</text>
<text transform="translate(1121.9 701.5) rotate(-45)" x="0" y="8.4" text-anchor="middle" class="tk" textLength="77.0" lengthAdjust="spacingAndGlyphs">111°W</text>
<text transform="translate(1177.7 701.5) rotate(-45)" x="0" y="8.4" text-anchor="middle" class="tk" textLength="77.0" lengthAdjust="spacingAndGlyphs">108°W</text>
<text transform="translate(1233.4 701.5) rotate(-45)" x="0" y="8.4" text-anchor="middle" class="tk" textLength="77.0" lengthAdjust="spacingAndGlyphs">105°W</text>
<text transform="translate(1289.1 701.5) rotate(-45)" x="0" y="8.4" text-anchor="middle" class="tk" textLength="77.0" lengthAdjust="spacingAndGlyphs">102°W</text>
<text transform="translate(1349.4 696.5) rotate(-45)" x="0" y="8.4" text-anchor="middle" class="tk" textLength="63.3" lengthAdjust="spacingAndGlyphs">99°W</text>
<path d="M90.2 765.7 L26.5 774.5 L90.2 783.2 Z" fill="#042333"/>
<rect x="90.00" y="765.7" width="143.36" height="17.5" fill="#072a49"/>
<rect x="232.96" y="765.7" width="143.36" height="17.5" fill="#23348c"/>
<rect x="375.91" y="765.7" width="143.36" height="17.5" fill="#573b9c"/>
<rect x="518.87" y="765.7" width="143.36" height="17.5" fill="#7b4c90"/>
<rect x="661.82" y="765.7" width="143.36" height="17.5" fill="#9e5985"/>
<rect x="804.78" y="765.7" width="143.36" height="17.5" fill="#c26479"/>
<rect x="947.73" y="765.7" width="143.36" height="17.5" fill="#e5745f"/>
<rect x="1090.69" y="765.7" width="143.36" height="17.5" fill="#f99243"/>
<rect x="1233.64" y="765.7" width="143.36" height="17.5" fill="#fbba3f"/>
<path d="M1376.8 765.7 L1441.0 774.5 L1376.8 783.2 Z" fill="#e8fa5b"/>
<path d="M26.5 774.5 L90.2 765.7 L1376.8 765.7 L1441.0 774.5 L1376.8 783.2 L90.2 783.2 Z" fill="none" stroke="#000" stroke-width="1.1" stroke-linejoin="miter"/>
<path d="M90.2 783.2v6" stroke="#000" stroke-width="1.2"/>
<text x="90.2" y="813.2" text-anchor="middle" class="tk" textLength="32.7" lengthAdjust="spacingAndGlyphs">8.0</text>
<path d="M233.2 783.2v6" stroke="#000" stroke-width="1.2"/>
<text x="233.2" y="813.2" text-anchor="middle" class="tk" textLength="32.7" lengthAdjust="spacingAndGlyphs">8.5</text>
<path d="M376.1 783.2v6" stroke="#000" stroke-width="1.2"/>
<text x="376.1" y="813.2" text-anchor="middle" class="tk" textLength="32.7" lengthAdjust="spacingAndGlyphs">9.0</text>
<path d="M519.1 783.2v6" stroke="#000" stroke-width="1.2"/>
<text x="519.1" y="813.2" text-anchor="middle" class="tk" textLength="32.7" lengthAdjust="spacingAndGlyphs">9.5</text>
<path d="M662.0 783.2v6" stroke="#000" stroke-width="1.2"/>
<text x="662.0" y="813.2" text-anchor="middle" class="tk" textLength="45.9" lengthAdjust="spacingAndGlyphs">10.0</text>
<path d="M805.0 783.2v6" stroke="#000" stroke-width="1.2"/>
<text x="805.0" y="813.2" text-anchor="middle" class="tk" textLength="45.9" lengthAdjust="spacingAndGlyphs">10.5</text>
<path d="M947.9 783.2v6" stroke="#000" stroke-width="1.2"/>
<text x="947.9" y="813.2" text-anchor="middle" class="tk" textLength="45.9" lengthAdjust="spacingAndGlyphs">11.0</text>
<path d="M1090.9 783.2v6" stroke="#000" stroke-width="1.2"/>
<text x="1090.9" y="813.2" text-anchor="middle" class="tk" textLength="45.9" lengthAdjust="spacingAndGlyphs">11.5</text>
<path d="M1233.8 783.2v6" stroke="#000" stroke-width="1.2"/>
<text x="1233.8" y="813.2" text-anchor="middle" class="tk" textLength="45.9" lengthAdjust="spacingAndGlyphs">12.0</text>
<path d="M1376.8 783.2v6" stroke="#000" stroke-width="1.2"/>
<text x="1376.8" y="813.2" text-anchor="middle" class="tk" textLength="45.9" lengthAdjust="spacingAndGlyphs">12.5</text>
<text x="733.6" y="838.6" text-anchor="middle" class="b" font-size="22.8" textLength="236" lengthAdjust="spacingAndGlyphs">Temperature (degC)</text>
<text x="733.6" y="862.3" text-anchor="middle" class="b" font-size="15.4" font-style="italic" textLength="649" lengthAdjust="spacingAndGlyphs">Glider/Argo Search Window: 2025-09-11 03:00:00 to 2025-09-16 00:00:00</text>
<rect x="181.5" y="892.5" width="1103.5" height="87.5" rx="3.5" fill="#fff" stroke="#ccc" stroke-width="1.3"/>
<circle cx="201.5" cy="905.5" r="6.0" fill="#1f77b4" stroke="#000" stroke-width="1.4"/>
<text x="226.5" y="910.5" class="lg" textLength="61" lengthAdjust="spacingAndGlyphs">1902270</text>
<path d="M201.5 920.3 L206.9 923.4 L206.9 929.6 L201.5 932.7 L196.1 929.6 L196.1 923.4 Z" fill="#3f8fce" stroke="#000" stroke-width="1.4" stroke-linejoin="miter"/>
<text x="226.5" y="931.5" class="lg" textLength="61" lengthAdjust="spacingAndGlyphs">1902642</text>
<path d="M201.5 940.7 L207.5 945.1 L205.2 952.1 L197.8 952.1 L195.5 945.1 Z" fill="#66abde" stroke="#000" stroke-width="1.4" stroke-linejoin="miter"/>
<text x="226.5" y="952.0" class="lg" textLength="61" lengthAdjust="spacingAndGlyphs">1902653</text>
<circle cx="201.5" cy="968.0" r="6.0" fill="#94c8f0" stroke="#000" stroke-width="1.4"/>
<text x="226.5" y="973.0" class="lg" textLength="61" lengthAdjust="spacingAndGlyphs">3902329</text>
<path d="M330.5 899.3 L335.9 902.4 L335.9 908.6 L330.5 911.7 L325.1 908.6 L325.1 902.4 Z" fill="#c5e6fa" stroke="#000" stroke-width="1.4" stroke-linejoin="miter"/>
<text x="355.5" y="910.5" class="lg" textLength="61" lengthAdjust="spacingAndGlyphs">4902328</text>
<path d="M330.5 920.2 L336.5 924.6 L334.2 931.6 L326.8 931.6 L324.5 924.6 Z" fill="#ff7f0e" stroke="#000" stroke-width="1.4" stroke-linejoin="miter"/>
<text x="355.5" y="931.5" class="lg" textLength="61" lengthAdjust="spacingAndGlyphs">4902332</text>
<circle cx="330.5" cy="947.0" r="6.0" fill="#ff9a3a" stroke="#000" stroke-width="1.4"/>
<text x="355.5" y="952.0" class="lg" textLength="61" lengthAdjust="spacingAndGlyphs">4903182</text>
<path d="M330.5 961.8 L335.9 964.9 L335.9 971.1 L330.5 974.2 L325.1 971.1 L325.1 964.9 Z" fill="#ffb469" stroke="#000" stroke-width="1.4" stroke-linejoin="miter"/>
<text x="355.5" y="973.0" class="lg" textLength="61" lengthAdjust="spacingAndGlyphs">4903299</text>
<path d="M459.0 899.2 L465.0 903.6 L462.7 910.6 L455.3 910.6 L453.0 903.6 Z" fill="#ffcc99" stroke="#000" stroke-width="1.4" stroke-linejoin="miter"/>
<text x="484.5" y="910.5" class="lg" textLength="61" lengthAdjust="spacingAndGlyphs">4903318</text>
<circle cx="459.0" cy="926.5" r="6.0" fill="#ffe0c4" stroke="#000" stroke-width="1.4"/>
<text x="484.5" y="931.5" class="lg" textLength="61" lengthAdjust="spacingAndGlyphs">4903401</text>
<path d="M459.0 940.8 L464.4 943.9 L464.4 950.1 L459.0 953.2 L453.6 950.1 L453.6 943.9 Z" fill="#2ca02c" stroke="#000" stroke-width="1.4" stroke-linejoin="miter"/>
<text x="484.5" y="952.0" class="lg" textLength="61" lengthAdjust="spacingAndGlyphs">4903403</text>
<path d="M459.0 961.7 L465.0 966.1 L462.7 973.1 L455.3 973.1 L453.0 966.1 Z" fill="#47b547" stroke="#000" stroke-width="1.4" stroke-linejoin="miter"/>
<text x="484.5" y="973.0" class="lg" textLength="61" lengthAdjust="spacingAndGlyphs">4903405</text>
<circle cx="587.5" cy="905.5" r="6.0" fill="#68cd68" stroke="#000" stroke-width="1.4"/>
<text x="613.0" y="910.5" class="lg" textLength="61" lengthAdjust="spacingAndGlyphs">4903518</text>
<path d="M587.5 920.3 L592.9 923.4 L592.9 929.6 L587.5 932.7 L582.1 929.6 L582.1 923.4 Z" fill="#90e690" stroke="#000" stroke-width="1.4" stroke-linejoin="miter"/>
<text x="613.0" y="931.5" class="lg" textLength="61" lengthAdjust="spacingAndGlyphs">4903753</text>
<path d="M587.5 940.7 L593.5 945.1 L591.2 952.1 L583.8 952.1 L581.5 945.1 Z" fill="#bdffbd" stroke="#000" stroke-width="1.4" stroke-linejoin="miter"/>
<text x="613.0" y="952.0" class="lg" textLength="61" lengthAdjust="spacingAndGlyphs">5906022</text>
<circle cx="587.5" cy="968.0" r="6.0" fill="#d62728" stroke="#000" stroke-width="1.4"/>
<text x="613.0" y="973.0" class="lg" textLength="61" lengthAdjust="spacingAndGlyphs">5906023</text>
<path d="M716.5 899.3 L721.9 902.4 L721.9 908.6 L716.5 911.7 L711.1 908.6 L711.1 902.4 Z" fill="#e0494a" stroke="#000" stroke-width="1.4" stroke-linejoin="miter"/>
<text x="742.0" y="910.5" class="lg" textLength="61" lengthAdjust="spacingAndGlyphs">5906088</text>
<path d="M716.5 920.2 L722.5 924.6 L720.2 931.6 L712.8 931.6 L710.5 924.6 Z" fill="#ea6c6d" stroke="#000" stroke-width="1.4" stroke-linejoin="miter"/>
<text x="742.0" y="931.5" class="lg" textLength="61" lengthAdjust="spacingAndGlyphs">5906090</text>
<circle cx="716.5" cy="947.0" r="6.0" fill="#f49494" stroke="#000" stroke-width="1.4"/>
<text x="742.0" y="952.0" class="lg" textLength="61" lengthAdjust="spacingAndGlyphs">5906405</text>
<path d="M845.0 899.3 L850.4 902.4 L850.4 908.6 L845.0 911.7 L839.6 908.6 L839.6 902.4 Z" fill="#ffbcbc" stroke="#000" stroke-width="1.4" stroke-linejoin="miter"/>
<text x="870.5" y="910.5" class="lg" textLength="61" lengthAdjust="spacingAndGlyphs">5906477</text>
<path d="M845.0 920.2 L851.0 924.6 L848.7 931.6 L841.3 931.6 L839.0 924.6 Z" fill="#9467bd" stroke="#000" stroke-width="1.4" stroke-linejoin="miter"/>
<text x="870.5" y="931.5" class="lg" textLength="61" lengthAdjust="spacingAndGlyphs">5906853</text>
<circle cx="845.0" cy="947.0" r="6.0" fill="#a67fd1" stroke="#000" stroke-width="1.4"/>
<text x="870.5" y="952.0" class="lg" textLength="61" lengthAdjust="spacingAndGlyphs">5907056</text>
<path d="M974.0 899.3 L979.4 902.4 L979.4 908.6 L974.0 911.7 L968.6 908.6 L968.6 902.4 Z" fill="#b998e3" stroke="#000" stroke-width="1.4" stroke-linejoin="miter"/>
<text x="999.5" y="910.5" class="lg" textLength="61" lengthAdjust="spacingAndGlyphs">6990590</text>
<path d="M974.0 920.2 L980.0 924.6 L977.7 931.6 L970.3 931.6 L968.0 924.6 Z" fill="#cdb2f4" stroke="#000" stroke-width="1.4" stroke-linejoin="miter"/>
<text x="999.5" y="931.5" class="lg" textLength="61" lengthAdjust="spacingAndGlyphs">6990601</text>
<circle cx="974.0" cy="947.0" r="6.0" fill="#e2cbff" stroke="#000" stroke-width="1.4"/>
<text x="999.5" y="952.0" class="lg" textLength="61" lengthAdjust="spacingAndGlyphs">7902104</text>
<path d="M1087.2 905.5h30.6" stroke="#1f77b4" stroke-width="2.6"/>
<path d="M1102.5 897.7 L1109.9 912.5 L1095.1 912.5 Z" fill="#1f77b4" stroke="#000" stroke-width="1.6" stroke-linejoin="miter"/>
<text x="1128.5" y="910.5" class="lg" textLength="41" lengthAdjust="spacingAndGlyphs">sg652</text>
<path d="M1087.2 926.5h30.6" stroke="#ff7f0e" stroke-width="2.6"/>
<path d="M1102.5 918.7 L1109.9 933.5 L1095.1 933.5 Z" fill="#ff7f0e" stroke="#000" stroke-width="1.6" stroke-linejoin="miter"/>
<text x="1128.5" y="931.5" class="lg" textLength="41" lengthAdjust="spacingAndGlyphs">sg672</text>
<path d="M1087.2 947.0h30.6" stroke="#2ca02c" stroke-width="2.6"/>
<path d="M1102.5 939.2 L1109.9 954.0 L1095.1 954.0 Z" fill="#2ca02c" stroke="#000" stroke-width="1.6" stroke-linejoin="miter"/>
<text x="1128.5" y="952.0" class="lg" textLength="41" lengthAdjust="spacingAndGlyphs">sp013</text>
<path d="M1195.7 905.5h30.6" stroke="#d62728" stroke-width="2.6"/>
<path d="M1211.0 897.7 L1218.4 912.5 L1203.6 912.5 Z" fill="#d62728" stroke="#000" stroke-width="1.6" stroke-linejoin="miter"/>
<text x="1237.5" y="910.5" class="lg" textLength="41" lengthAdjust="spacingAndGlyphs">sp036</text>
<path d="M1195.7 926.5h30.6" stroke="#9467bd" stroke-width="2.6"/>
<path d="M1211.0 918.7 L1218.4 933.5 L1203.6 933.5 Z" fill="#9467bd" stroke="#000" stroke-width="1.6" stroke-linejoin="miter"/>
<text x="1237.5" y="931.5" class="lg" textLength="41" lengthAdjust="spacingAndGlyphs">sp040</text>
<path d="M1195.7 947.0h30.6" stroke="#8c564b" stroke-width="2.6"/>
<path d="M1211.0 939.2 L1218.4 954.0 L1203.6 954.0 Z" fill="#8c564b" stroke="#000" stroke-width="1.6" stroke-linejoin="miter"/>
<text x="1237.5" y="952.0" class="lg" textLength="41" lengthAdjust="spacingAndGlyphs">sp058</text>
</svg></body></html>
